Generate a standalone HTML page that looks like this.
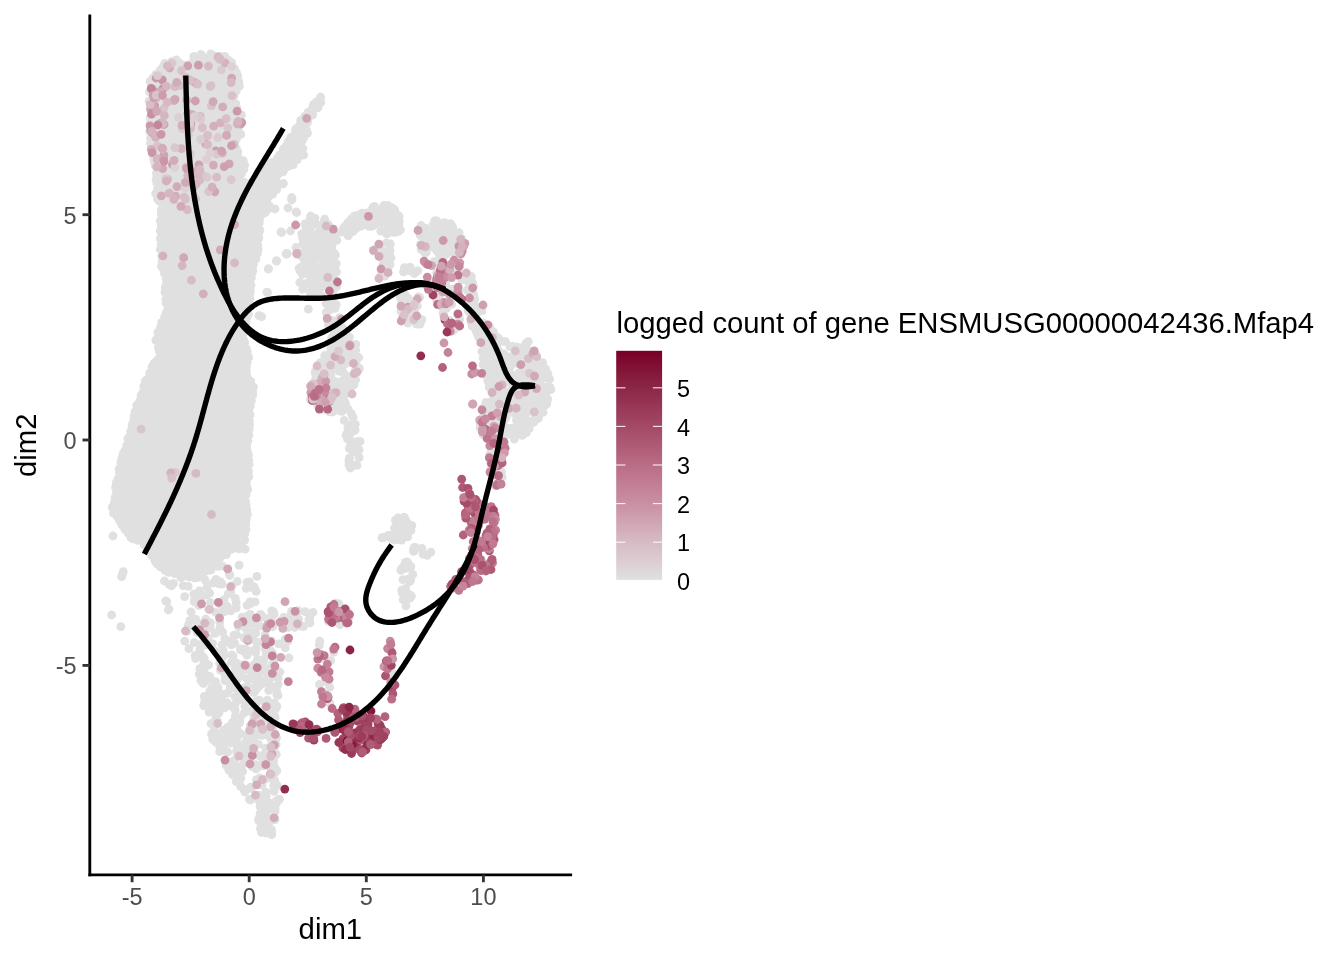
<!DOCTYPE html>
<html><head><meta charset="utf-8"><style>
html,body{margin:0;padding:0;background:#fff;width:1344px;height:960px;overflow:hidden}
svg{display:block;will-change:transform}
text{font-family:"Liberation Sans",sans-serif}
</style></head><body>
<svg width="1344" height="960" viewBox="0 0 1344 960">
<rect width="1344" height="960" fill="#fff"/>
<g>
<polygon points="153.5,78.3 152.6,90.2 151.6,107.2 150.6,127.1 150.6,147.4 154.4,158.9 154.5,159.2 154.6,159.6 155.6,169.6 155.6,169.7 156.6,181.7 156.6,182.0 156.6,198.3 161.3,202.2 161.6,202.5 161.8,202.7 162.0,203.0 162.2,203.3 162.3,203.6 162.4,204.0 162.5,204.3 162.6,204.7 162.6,205.0 162.6,205.4 160.6,225.1 161.1,244.8 162.6,269.2 167.3,280.6 167.4,281.0 167.5,281.3 167.6,281.7 167.6,282.1 167.6,282.4 167.5,282.8 164.7,295.1 167.5,309.3 167.6,309.6 167.6,310.0 167.6,310.3 167.5,310.7 167.4,311.0 167.3,311.4 160.3,328.3 155.9,340.0 160.4,351.7 160.5,352.0 160.5,352.4 160.6,352.7 160.6,353.1 160.6,353.4 160.5,353.8 160.4,354.1 160.3,354.5 160.1,354.8 156.1,361.8 156.0,362.0 148.3,373.6 143.4,389.1 143.3,389.3 136.0,408.0 131.0,432.7 131.0,433.0 130.9,433.2 125.4,448.1 119.5,467.8 116.6,486.3 116.6,493.0 116.6,493.3 116.5,493.7 116.5,494.0 112.7,507.3 113.4,513.5 119.7,520.6 119.9,520.9 120.1,521.1 120.2,521.4 125.0,531.0 130.3,537.1 144.7,544.8 145.0,545.0 145.3,545.2 145.6,545.5 145.8,545.8 146.0,546.1 146.2,546.4 152.0,558.0 159.4,566.2 169.6,572.7 185.4,578.3 198.5,576.6 207.4,569.4 215.2,559.8 215.4,559.5 215.6,559.3 215.9,559.1 216.2,558.9 228.2,551.9 228.3,551.8 239.0,546.0 245.1,541.4 244.4,537.6 244.4,537.3 244.4,536.9 244.4,536.6 246.4,519.8 246.4,503.0 246.4,502.8 247.4,479.8 247.4,479.5 249.4,466.9 247.4,443.3 247.4,442.9 247.4,442.5 250.4,422.8 249.4,407.2 249.4,406.8 249.4,406.5 249.5,406.1 253.3,391.8 252.5,385.1 246.8,373.6 246.6,373.3 246.5,373.0 246.5,372.7 246.4,372.3 246.4,372.0 246.4,371.7 246.5,371.3 249.3,356.4 244.7,345.4 244.5,345.0 244.5,344.7 244.4,344.3 243.4,331.3 243.4,330.9 243.4,330.5 243.5,330.1 247.5,315.2 250.4,300.6 250.4,281.0 250.4,280.6 250.5,280.2 254.5,263.2 254.5,263.1 257.4,251.4 258.4,241.7 259.4,227.7 259.4,227.7 260.4,215.7 260.5,215.3 260.5,215.0 260.7,214.7 260.8,214.3 261.0,214.0 261.2,213.7 261.4,213.5 261.7,213.2 262.0,213.0 262.3,212.8 270.5,208.4 267.7,201.3 267.5,201.0 267.5,200.7 267.4,200.3 267.4,200.0 267.4,199.6 267.5,199.3 267.6,198.9 267.7,198.6 267.8,198.3 268.0,198.0 268.2,197.7 268.5,197.4 268.8,197.2 277.3,190.4 276.4,178.3 276.4,177.9 276.4,177.5 276.5,177.2 276.6,176.8 276.7,176.5 276.9,176.2 277.1,175.9 277.3,175.6 277.6,175.3 277.8,175.1 285.8,169.1 285.9,169.1 295.5,162.4 303.3,151.9 302.4,142.3 302.4,142.0 302.4,141.7 302.5,141.3 302.5,141.0 302.6,140.7 302.8,140.4 307.4,131.2 307.4,122.0 307.4,121.6 307.5,121.3 307.6,121.0 307.7,120.6 307.8,120.3 308.0,120.0 314.0,111.0 314.3,110.7 319.8,104.2 321.2,100.0 320.4,97.6 319.7,97.6 315.9,102.2 310.0,111.0 309.7,111.4 302.8,119.3 297.1,126.9 292.2,136.6 291.9,137.1 285.0,147.0 278.0,157.9 277.8,158.2 277.6,158.5 277.4,158.7 277.1,158.9 276.8,159.1 270.3,162.8 265.0,169.1 261.1,175.8 261.0,176.1 260.8,176.3 260.5,176.5 254.5,182.5 254.3,182.8 254.0,183.0 253.7,183.2 253.3,183.4 253.0,183.5 252.6,183.5 252.2,183.6 251.9,183.6 251.5,183.6 251.1,183.5 243.1,181.5 242.8,181.4 242.5,181.3 242.1,181.1 241.8,180.9 241.6,180.7 241.3,180.4 241.1,180.1 240.9,179.8 240.7,179.5 240.6,179.2 240.5,178.8 240.4,178.5 240.4,178.1 240.4,177.8 240.4,177.4 240.5,177.1 240.6,176.7 240.8,176.4 243.7,170.6 245.8,164.9 239.5,158.5 239.2,158.3 239.0,158.0 238.8,157.6 238.6,157.3 238.5,156.9 235.5,145.9 235.5,145.6 235.4,145.3 235.4,145.0 235.4,144.6 236.4,134.6 236.5,134.3 236.5,134.1 239.4,123.5 239.4,115.6 236.6,107.3 232.7,98.5 232.6,98.1 232.5,97.8 232.4,97.4 232.4,97.1 232.4,96.7 232.5,96.3 232.5,96.0 232.7,95.7 232.8,95.3 233.0,95.0 233.2,94.7 233.5,94.5 238.4,89.5 238.4,82.3 236.6,70.3 232.1,63.1 227.1,57.3 217.2,55.7 206.9,58.5 206.6,58.5 206.2,58.6 205.9,58.6 205.5,58.6 205.2,58.5 204.9,58.4 204.5,58.3 204.2,58.1 203.9,57.9 200.3,55.4 198.2,59.6 198.0,59.9 197.8,60.2 197.6,60.5 197.4,60.7 197.1,60.9 196.8,61.1 196.5,61.3 196.1,61.4 187.1,64.4 186.8,64.5 186.4,64.6 186.1,64.6 185.7,64.6 185.4,64.5 185.0,64.5 184.7,64.4 173.2,59.9 165.2,63.9 157.8,72.2 153.5,78.3" fill="#e0e0e0"/>
<circle cx="153.1" cy="78.2" r="4.4" fill="#e0e0e0"/>
<circle cx="153.3" cy="82.0" r="4.4" fill="#e0e0e0"/>
<circle cx="152.8" cy="86.3" r="4.4" fill="#e0e0e0"/>
<circle cx="151.6" cy="92.3" r="4.4" fill="#e0e0e0"/>
<circle cx="152.8" cy="97.3" r="4.4" fill="#e0e0e0"/>
<circle cx="152.1" cy="103.5" r="4.4" fill="#e0e0e0"/>
<circle cx="151.3" cy="109.4" r="4.4" fill="#e0e0e0"/>
<circle cx="152.1" cy="111.8" r="4.4" fill="#e0e0e0"/>
<circle cx="150.3" cy="117.1" r="4.4" fill="#e0e0e0"/>
<circle cx="150.1" cy="124.2" r="4.4" fill="#e0e0e0"/>
<circle cx="150.3" cy="128.7" r="4.4" fill="#e0e0e0"/>
<circle cx="149.7" cy="131.7" r="4.4" fill="#e0e0e0"/>
<circle cx="150.5" cy="138.4" r="4.4" fill="#e0e0e0"/>
<circle cx="150.5" cy="143.2" r="4.4" fill="#e0e0e0"/>
<circle cx="151.5" cy="148.5" r="4.4" fill="#e0e0e0"/>
<circle cx="152.6" cy="154.0" r="4.4" fill="#e0e0e0"/>
<circle cx="153.8" cy="159.3" r="4.4" fill="#e0e0e0"/>
<circle cx="154.6" cy="162.4" r="4.4" fill="#e0e0e0"/>
<circle cx="155.3" cy="166.0" r="4.4" fill="#e0e0e0"/>
<circle cx="156.4" cy="173.3" r="4.4" fill="#e0e0e0"/>
<circle cx="156.0" cy="179.0" r="4.4" fill="#e0e0e0"/>
<circle cx="156.8" cy="182.9" r="4.4" fill="#e0e0e0"/>
<circle cx="157.5" cy="188.5" r="4.4" fill="#e0e0e0"/>
<circle cx="155.7" cy="193.6" r="4.4" fill="#e0e0e0"/>
<circle cx="157.6" cy="198.8" r="4.4" fill="#e0e0e0"/>
<circle cx="159.4" cy="201.2" r="4.4" fill="#e0e0e0"/>
<circle cx="162.4" cy="203.4" r="4.4" fill="#e0e0e0"/>
<circle cx="161.3" cy="209.8" r="4.4" fill="#e0e0e0"/>
<circle cx="161.2" cy="214.1" r="4.4" fill="#e0e0e0"/>
<circle cx="160.2" cy="221.0" r="4.4" fill="#e0e0e0"/>
<circle cx="161.4" cy="225.9" r="4.4" fill="#e0e0e0"/>
<circle cx="160.3" cy="230.9" r="4.4" fill="#e0e0e0"/>
<circle cx="161.6" cy="235.8" r="4.4" fill="#e0e0e0"/>
<circle cx="160.3" cy="238.8" r="4.4" fill="#e0e0e0"/>
<circle cx="161.1" cy="244.7" r="4.4" fill="#e0e0e0"/>
<circle cx="160.4" cy="249.5" r="4.4" fill="#e0e0e0"/>
<circle cx="161.8" cy="255.8" r="4.4" fill="#e0e0e0"/>
<circle cx="162.1" cy="260.9" r="4.4" fill="#e0e0e0"/>
<circle cx="161.5" cy="266.4" r="4.4" fill="#e0e0e0"/>
<circle cx="164.0" cy="271.4" r="4.4" fill="#e0e0e0"/>
<circle cx="164.6" cy="273.7" r="4.4" fill="#e0e0e0"/>
<circle cx="166.1" cy="278.8" r="4.4" fill="#e0e0e0"/>
<circle cx="166.7" cy="283.2" r="4.4" fill="#e0e0e0"/>
<circle cx="165.3" cy="287.4" r="4.4" fill="#e0e0e0"/>
<circle cx="164.9" cy="292.1" r="4.4" fill="#e0e0e0"/>
<circle cx="165.9" cy="299.1" r="4.4" fill="#e0e0e0"/>
<circle cx="166.0" cy="303.0" r="4.4" fill="#e0e0e0"/>
<circle cx="167.9" cy="308.8" r="4.4" fill="#e0e0e0"/>
<circle cx="166.4" cy="312.6" r="4.4" fill="#e0e0e0"/>
<circle cx="164.6" cy="316.8" r="4.4" fill="#e0e0e0"/>
<circle cx="161.6" cy="322.6" r="4.4" fill="#e0e0e0"/>
<circle cx="160.4" cy="327.7" r="4.4" fill="#e0e0e0"/>
<circle cx="157.9" cy="332.3" r="4.4" fill="#e0e0e0"/>
<circle cx="157.4" cy="338.2" r="4.4" fill="#e0e0e0"/>
<circle cx="155.9" cy="340.3" r="4.4" fill="#e0e0e0"/>
<circle cx="158.5" cy="347.3" r="4.4" fill="#e0e0e0"/>
<circle cx="159.3" cy="351.1" r="4.4" fill="#e0e0e0"/>
<circle cx="159.8" cy="357.2" r="4.4" fill="#e0e0e0"/>
<circle cx="157.3" cy="360.0" r="4.4" fill="#e0e0e0"/>
<circle cx="154.2" cy="363.2" r="4.4" fill="#e0e0e0"/>
<circle cx="152.0" cy="366.9" r="4.4" fill="#e0e0e0"/>
<circle cx="149.7" cy="372.8" r="4.4" fill="#e0e0e0"/>
<circle cx="147.8" cy="379.0" r="4.4" fill="#e0e0e0"/>
<circle cx="145.2" cy="381.0" r="4.4" fill="#e0e0e0"/>
<circle cx="143.8" cy="386.2" r="4.4" fill="#e0e0e0"/>
<circle cx="142.9" cy="392.3" r="4.4" fill="#e0e0e0"/>
<circle cx="141.1" cy="395.6" r="4.4" fill="#e0e0e0"/>
<circle cx="139.5" cy="401.7" r="4.4" fill="#e0e0e0"/>
<circle cx="136.7" cy="405.3" r="4.4" fill="#e0e0e0"/>
<circle cx="135.1" cy="411.5" r="4.4" fill="#e0e0e0"/>
<circle cx="134.1" cy="416.0" r="4.4" fill="#e0e0e0"/>
<circle cx="133.8" cy="420.4" r="4.4" fill="#e0e0e0"/>
<circle cx="132.1" cy="424.9" r="4.4" fill="#e0e0e0"/>
<circle cx="130.8" cy="431.2" r="4.4" fill="#e0e0e0"/>
<circle cx="130.3" cy="435.5" r="4.4" fill="#e0e0e0"/>
<circle cx="127.8" cy="438.5" r="4.4" fill="#e0e0e0"/>
<circle cx="126.8" cy="445.2" r="4.4" fill="#e0e0e0"/>
<circle cx="124.8" cy="450.6" r="4.4" fill="#e0e0e0"/>
<circle cx="123.0" cy="453.9" r="4.4" fill="#e0e0e0"/>
<circle cx="122.0" cy="458.1" r="4.4" fill="#e0e0e0"/>
<circle cx="120.9" cy="461.9" r="4.4" fill="#e0e0e0"/>
<circle cx="119.0" cy="468.9" r="4.4" fill="#e0e0e0"/>
<circle cx="119.5" cy="473.0" r="4.4" fill="#e0e0e0"/>
<circle cx="117.8" cy="479.0" r="4.4" fill="#e0e0e0"/>
<circle cx="116.2" cy="482.8" r="4.4" fill="#e0e0e0"/>
<circle cx="115.6" cy="487.7" r="4.4" fill="#e0e0e0"/>
<circle cx="116.5" cy="492.5" r="4.4" fill="#e0e0e0"/>
<circle cx="115.0" cy="497.9" r="4.4" fill="#e0e0e0"/>
<circle cx="114.6" cy="501.9" r="4.4" fill="#e0e0e0"/>
<circle cx="112.2" cy="507.1" r="4.4" fill="#e0e0e0"/>
<circle cx="113.4" cy="513.1" r="4.4" fill="#e0e0e0"/>
<circle cx="117.2" cy="516.7" r="4.4" fill="#e0e0e0"/>
<circle cx="119.5" cy="520.4" r="4.4" fill="#e0e0e0"/>
<circle cx="121.9" cy="525.0" r="4.4" fill="#e0e0e0"/>
<circle cx="124.9" cy="529.3" r="4.4" fill="#e0e0e0"/>
<circle cx="128.3" cy="533.3" r="4.4" fill="#e0e0e0"/>
<circle cx="131.1" cy="537.7" r="4.4" fill="#e0e0e0"/>
<circle cx="132.9" cy="538.8" r="4.4" fill="#e0e0e0"/>
<circle cx="137.4" cy="540.4" r="4.4" fill="#e0e0e0"/>
<circle cx="144.2" cy="545.0" r="4.4" fill="#e0e0e0"/>
<circle cx="146.8" cy="547.0" r="4.4" fill="#e0e0e0"/>
<circle cx="149.4" cy="552.1" r="4.4" fill="#e0e0e0"/>
<circle cx="151.8" cy="555.6" r="4.4" fill="#e0e0e0"/>
<circle cx="155.1" cy="561.0" r="4.4" fill="#e0e0e0"/>
<circle cx="156.8" cy="563.6" r="4.4" fill="#e0e0e0"/>
<circle cx="160.3" cy="566.9" r="4.4" fill="#e0e0e0"/>
<circle cx="165.0" cy="570.5" r="4.4" fill="#e0e0e0"/>
<circle cx="168.6" cy="572.4" r="4.4" fill="#e0e0e0"/>
<circle cx="174.7" cy="573.7" r="4.4" fill="#e0e0e0"/>
<circle cx="180.8" cy="577.5" r="4.4" fill="#e0e0e0"/>
<circle cx="182.5" cy="576.6" r="4.4" fill="#e0e0e0"/>
<circle cx="189.0" cy="577.0" r="4.4" fill="#e0e0e0"/>
<circle cx="194.4" cy="577.9" r="4.4" fill="#e0e0e0"/>
<circle cx="197.4" cy="577.5" r="4.4" fill="#e0e0e0"/>
<circle cx="203.1" cy="572.4" r="4.4" fill="#e0e0e0"/>
<circle cx="206.1" cy="570.7" r="4.4" fill="#e0e0e0"/>
<circle cx="210.1" cy="567.5" r="4.4" fill="#e0e0e0"/>
<circle cx="212.6" cy="562.7" r="4.4" fill="#e0e0e0"/>
<circle cx="216.2" cy="559.4" r="4.4" fill="#e0e0e0"/>
<circle cx="220.4" cy="557.4" r="4.4" fill="#e0e0e0"/>
<circle cx="223.7" cy="554.1" r="4.4" fill="#e0e0e0"/>
<circle cx="228.0" cy="550.9" r="4.4" fill="#e0e0e0"/>
<circle cx="232.2" cy="549.0" r="4.4" fill="#e0e0e0"/>
<circle cx="238.2" cy="546.3" r="4.4" fill="#e0e0e0"/>
<circle cx="241.6" cy="543.3" r="4.4" fill="#e0e0e0"/>
<circle cx="244.6" cy="540.2" r="4.4" fill="#e0e0e0"/>
<circle cx="244.8" cy="533.9" r="4.4" fill="#e0e0e0"/>
<circle cx="246.0" cy="529.4" r="4.4" fill="#e0e0e0"/>
<circle cx="245.7" cy="524.4" r="4.4" fill="#e0e0e0"/>
<circle cx="246.2" cy="519.4" r="4.4" fill="#e0e0e0"/>
<circle cx="247.4" cy="514.4" r="4.4" fill="#e0e0e0"/>
<circle cx="246.8" cy="509.6" r="4.4" fill="#e0e0e0"/>
<circle cx="246.1" cy="504.5" r="4.4" fill="#e0e0e0"/>
<circle cx="245.6" cy="501.5" r="4.4" fill="#e0e0e0"/>
<circle cx="246.0" cy="494.9" r="4.4" fill="#e0e0e0"/>
<circle cx="247.7" cy="489.6" r="4.4" fill="#e0e0e0"/>
<circle cx="246.6" cy="485.2" r="4.4" fill="#e0e0e0"/>
<circle cx="246.7" cy="480.1" r="4.4" fill="#e0e0e0"/>
<circle cx="248.9" cy="476.6" r="4.4" fill="#e0e0e0"/>
<circle cx="248.4" cy="471.0" r="4.4" fill="#e0e0e0"/>
<circle cx="249.0" cy="464.7" r="4.4" fill="#e0e0e0"/>
<circle cx="248.8" cy="460.5" r="4.4" fill="#e0e0e0"/>
<circle cx="248.5" cy="454.9" r="4.4" fill="#e0e0e0"/>
<circle cx="247.2" cy="450.6" r="4.4" fill="#e0e0e0"/>
<circle cx="246.7" cy="445.9" r="4.4" fill="#e0e0e0"/>
<circle cx="247.9" cy="440.9" r="4.4" fill="#e0e0e0"/>
<circle cx="248.9" cy="435.1" r="4.4" fill="#e0e0e0"/>
<circle cx="249.2" cy="429.1" r="4.4" fill="#e0e0e0"/>
<circle cx="249.5" cy="424.7" r="4.4" fill="#e0e0e0"/>
<circle cx="249.3" cy="420.7" r="4.4" fill="#e0e0e0"/>
<circle cx="250.1" cy="414.9" r="4.4" fill="#e0e0e0"/>
<circle cx="248.8" cy="409.7" r="4.4" fill="#e0e0e0"/>
<circle cx="250.4" cy="406.0" r="4.4" fill="#e0e0e0"/>
<circle cx="251.4" cy="400.6" r="4.4" fill="#e0e0e0"/>
<circle cx="252.8" cy="394.7" r="4.4" fill="#e0e0e0"/>
<circle cx="252.6" cy="391.7" r="4.4" fill="#e0e0e0"/>
<circle cx="253.4" cy="386.9" r="4.4" fill="#e0e0e0"/>
<circle cx="250.7" cy="381.4" r="4.4" fill="#e0e0e0"/>
<circle cx="247.4" cy="377.4" r="4.4" fill="#e0e0e0"/>
<circle cx="246.4" cy="371.7" r="4.4" fill="#e0e0e0"/>
<circle cx="246.4" cy="367.4" r="4.4" fill="#e0e0e0"/>
<circle cx="247.2" cy="362.5" r="4.4" fill="#e0e0e0"/>
<circle cx="248.6" cy="357.4" r="4.4" fill="#e0e0e0"/>
<circle cx="247.3" cy="351.5" r="4.4" fill="#e0e0e0"/>
<circle cx="246.2" cy="348.7" r="4.4" fill="#e0e0e0"/>
<circle cx="244.6" cy="342.3" r="4.4" fill="#e0e0e0"/>
<circle cx="243.5" cy="339.7" r="4.4" fill="#e0e0e0"/>
<circle cx="243.7" cy="332.9" r="4.4" fill="#e0e0e0"/>
<circle cx="243.2" cy="329.8" r="4.4" fill="#e0e0e0"/>
<circle cx="245.7" cy="322.7" r="4.4" fill="#e0e0e0"/>
<circle cx="246.5" cy="318.7" r="4.4" fill="#e0e0e0"/>
<circle cx="248.4" cy="314.2" r="4.4" fill="#e0e0e0"/>
<circle cx="249.8" cy="306.9" r="4.4" fill="#e0e0e0"/>
<circle cx="250.3" cy="305.1" r="4.4" fill="#e0e0e0"/>
<circle cx="249.9" cy="298.7" r="4.4" fill="#e0e0e0"/>
<circle cx="249.8" cy="293.2" r="4.4" fill="#e0e0e0"/>
<circle cx="250.4" cy="290.9" r="4.4" fill="#e0e0e0"/>
<circle cx="251.0" cy="285.0" r="4.4" fill="#e0e0e0"/>
<circle cx="251.4" cy="277.7" r="4.4" fill="#e0e0e0"/>
<circle cx="252.1" cy="272.4" r="4.4" fill="#e0e0e0"/>
<circle cx="252.8" cy="270.4" r="4.4" fill="#e0e0e0"/>
<circle cx="253.4" cy="264.6" r="4.4" fill="#e0e0e0"/>
<circle cx="256.0" cy="259.0" r="4.4" fill="#e0e0e0"/>
<circle cx="257.4" cy="253.4" r="4.4" fill="#e0e0e0"/>
<circle cx="258.1" cy="249.6" r="4.4" fill="#e0e0e0"/>
<circle cx="257.8" cy="245.1" r="4.4" fill="#e0e0e0"/>
<circle cx="258.8" cy="238.4" r="4.4" fill="#e0e0e0"/>
<circle cx="258.4" cy="234.1" r="4.4" fill="#e0e0e0"/>
<circle cx="259.9" cy="230.4" r="4.4" fill="#e0e0e0"/>
<circle cx="259.2" cy="223.3" r="4.4" fill="#e0e0e0"/>
<circle cx="259.4" cy="219.6" r="4.4" fill="#e0e0e0"/>
<circle cx="261.8" cy="214.5" r="4.4" fill="#e0e0e0"/>
<circle cx="265.4" cy="212.5" r="4.4" fill="#e0e0e0"/>
<circle cx="269.2" cy="208.4" r="4.4" fill="#e0e0e0"/>
<circle cx="269.1" cy="205.6" r="4.4" fill="#e0e0e0"/>
<circle cx="267.0" cy="199.7" r="4.4" fill="#e0e0e0"/>
<circle cx="269.5" cy="196.0" r="4.4" fill="#e0e0e0"/>
<circle cx="272.6" cy="194.2" r="4.4" fill="#e0e0e0"/>
<circle cx="276.7" cy="189.6" r="4.4" fill="#e0e0e0"/>
<circle cx="277.1" cy="185.7" r="4.4" fill="#e0e0e0"/>
<circle cx="275.9" cy="180.6" r="4.4" fill="#e0e0e0"/>
<circle cx="278.0" cy="174.4" r="4.4" fill="#e0e0e0"/>
<circle cx="283.0" cy="171.9" r="4.4" fill="#e0e0e0"/>
<circle cx="284.0" cy="169.3" r="4.4" fill="#e0e0e0"/>
<circle cx="288.2" cy="166.4" r="4.4" fill="#e0e0e0"/>
<circle cx="293.1" cy="164.9" r="4.4" fill="#e0e0e0"/>
<circle cx="297.2" cy="159.7" r="4.4" fill="#e0e0e0"/>
<circle cx="299.8" cy="155.9" r="4.4" fill="#e0e0e0"/>
<circle cx="301.9" cy="154.1" r="4.4" fill="#e0e0e0"/>
<circle cx="303.0" cy="148.6" r="4.4" fill="#e0e0e0"/>
<circle cx="301.9" cy="141.1" r="4.4" fill="#e0e0e0"/>
<circle cx="303.6" cy="138.2" r="4.4" fill="#e0e0e0"/>
<circle cx="307.5" cy="133.1" r="4.4" fill="#e0e0e0"/>
<circle cx="306.5" cy="130.1" r="4.4" fill="#e0e0e0"/>
<circle cx="307.3" cy="122.7" r="4.4" fill="#e0e0e0"/>
<circle cx="307.9" cy="120.7" r="4.4" fill="#e0e0e0"/>
<circle cx="312.7" cy="115.0" r="4.4" fill="#e0e0e0"/>
<circle cx="313.2" cy="110.3" r="4.4" fill="#e0e0e0"/>
<circle cx="318.0" cy="107.6" r="4.4" fill="#e0e0e0"/>
<circle cx="320.8" cy="102.6" r="4.4" fill="#e0e0e0"/>
<circle cx="320.6" cy="97.0" r="4.4" fill="#e0e0e0"/>
<circle cx="316.1" cy="102.1" r="4.4" fill="#e0e0e0"/>
<circle cx="313.6" cy="104.3" r="4.4" fill="#e0e0e0"/>
<circle cx="312.0" cy="108.8" r="4.4" fill="#e0e0e0"/>
<circle cx="308.1" cy="112.3" r="4.4" fill="#e0e0e0"/>
<circle cx="304.7" cy="116.3" r="4.4" fill="#e0e0e0"/>
<circle cx="300.7" cy="120.3" r="4.4" fill="#e0e0e0"/>
<circle cx="299.8" cy="124.8" r="4.4" fill="#e0e0e0"/>
<circle cx="295.7" cy="129.0" r="4.4" fill="#e0e0e0"/>
<circle cx="295.1" cy="133.1" r="4.4" fill="#e0e0e0"/>
<circle cx="290.9" cy="137.3" r="4.4" fill="#e0e0e0"/>
<circle cx="288.3" cy="141.6" r="4.4" fill="#e0e0e0"/>
<circle cx="286.4" cy="145.6" r="4.4" fill="#e0e0e0"/>
<circle cx="283.3" cy="149.0" r="4.4" fill="#e0e0e0"/>
<circle cx="279.5" cy="155.2" r="4.4" fill="#e0e0e0"/>
<circle cx="277.2" cy="158.3" r="4.4" fill="#e0e0e0"/>
<circle cx="272.0" cy="162.3" r="4.4" fill="#e0e0e0"/>
<circle cx="269.2" cy="164.0" r="4.4" fill="#e0e0e0"/>
<circle cx="267.3" cy="167.4" r="4.4" fill="#e0e0e0"/>
<circle cx="263.1" cy="171.1" r="4.4" fill="#e0e0e0"/>
<circle cx="261.4" cy="175.9" r="4.4" fill="#e0e0e0"/>
<circle cx="256.9" cy="180.6" r="4.4" fill="#e0e0e0"/>
<circle cx="253.4" cy="181.9" r="4.4" fill="#e0e0e0"/>
<circle cx="249.8" cy="183.7" r="4.4" fill="#e0e0e0"/>
<circle cx="244.3" cy="182.4" r="4.4" fill="#e0e0e0"/>
<circle cx="239.9" cy="179.8" r="4.4" fill="#e0e0e0"/>
<circle cx="241.4" cy="173.7" r="4.4" fill="#e0e0e0"/>
<circle cx="243.8" cy="169.3" r="4.4" fill="#e0e0e0"/>
<circle cx="244.6" cy="164.9" r="4.4" fill="#e0e0e0"/>
<circle cx="243.2" cy="160.6" r="4.4" fill="#e0e0e0"/>
<circle cx="237.8" cy="156.1" r="4.4" fill="#e0e0e0"/>
<circle cx="237.8" cy="151.7" r="4.4" fill="#e0e0e0"/>
<circle cx="236.3" cy="148.6" r="4.4" fill="#e0e0e0"/>
<circle cx="235.1" cy="141.6" r="4.4" fill="#e0e0e0"/>
<circle cx="235.2" cy="136.7" r="4.4" fill="#e0e0e0"/>
<circle cx="237.6" cy="131.3" r="4.4" fill="#e0e0e0"/>
<circle cx="237.0" cy="130.0" r="4.4" fill="#e0e0e0"/>
<circle cx="239.8" cy="124.6" r="4.4" fill="#e0e0e0"/>
<circle cx="238.9" cy="119.5" r="4.4" fill="#e0e0e0"/>
<circle cx="238.1" cy="113.5" r="4.4" fill="#e0e0e0"/>
<circle cx="236.8" cy="108.0" r="4.4" fill="#e0e0e0"/>
<circle cx="235.7" cy="103.7" r="4.4" fill="#e0e0e0"/>
<circle cx="231.7" cy="97.9" r="4.4" fill="#e0e0e0"/>
<circle cx="234.1" cy="95.6" r="4.4" fill="#e0e0e0"/>
<circle cx="236.1" cy="91.2" r="4.4" fill="#e0e0e0"/>
<circle cx="239.3" cy="86.2" r="4.4" fill="#e0e0e0"/>
<circle cx="238.7" cy="81.7" r="4.4" fill="#e0e0e0"/>
<circle cx="237.7" cy="75.8" r="4.4" fill="#e0e0e0"/>
<circle cx="236.6" cy="72.9" r="4.4" fill="#e0e0e0"/>
<circle cx="234.7" cy="68.8" r="4.4" fill="#e0e0e0"/>
<circle cx="231.6" cy="62.7" r="4.4" fill="#e0e0e0"/>
<circle cx="228.4" cy="60.2" r="4.4" fill="#e0e0e0"/>
<circle cx="224.9" cy="56.3" r="4.4" fill="#e0e0e0"/>
<circle cx="220.0" cy="56.3" r="4.4" fill="#e0e0e0"/>
<circle cx="214.4" cy="55.9" r="4.4" fill="#e0e0e0"/>
<circle cx="210.5" cy="57.9" r="4.4" fill="#e0e0e0"/>
<circle cx="205.4" cy="58.7" r="4.4" fill="#e0e0e0"/>
<circle cx="202.4" cy="56.0" r="4.4" fill="#e0e0e0"/>
<circle cx="198.1" cy="59.7" r="4.4" fill="#e0e0e0"/>
<circle cx="194.8" cy="61.2" r="4.4" fill="#e0e0e0"/>
<circle cx="191.4" cy="63.4" r="4.4" fill="#e0e0e0"/>
<circle cx="185.2" cy="65.5" r="4.4" fill="#e0e0e0"/>
<circle cx="179.8" cy="63.3" r="4.4" fill="#e0e0e0"/>
<circle cx="176.3" cy="59.9" r="4.4" fill="#e0e0e0"/>
<circle cx="171.7" cy="61.7" r="4.4" fill="#e0e0e0"/>
<circle cx="164.8" cy="63.3" r="4.4" fill="#e0e0e0"/>
<circle cx="162.9" cy="66.8" r="4.4" fill="#e0e0e0"/>
<circle cx="160.3" cy="70.2" r="4.4" fill="#e0e0e0"/>
<circle cx="155.8" cy="74.4" r="4.4" fill="#e0e0e0"/>
<circle cx="493.7" cy="485.2" r="4.4" fill="#e0e0e0"/>
<circle cx="399.2" cy="216.6" r="4.4" fill="#e0e0e0"/>
<circle cx="389.4" cy="222.5" r="4.4" fill="#e0e0e0"/>
<circle cx="415.1" cy="308.5" r="4.4" fill="#e0e0e0"/>
<circle cx="288.9" cy="657.8" r="4.4" fill="#e0e0e0"/>
<circle cx="320.2" cy="274.3" r="4.4" fill="#e0e0e0"/>
<circle cx="304.3" cy="243.8" r="4.4" fill="#e0e0e0"/>
<circle cx="536.6" cy="386.4" r="4.4" fill="#e0e0e0"/>
<circle cx="340.1" cy="324.8" r="4.4" fill="#e0e0e0"/>
<circle cx="459.1" cy="316.6" r="4.4" fill="#e0e0e0"/>
<circle cx="428.4" cy="245.4" r="4.4" fill="#e0e0e0"/>
<circle cx="270.4" cy="711.3" r="4.4" fill="#e0e0e0"/>
<circle cx="261.8" cy="664.1" r="4.4" fill="#e0e0e0"/>
<circle cx="229.8" cy="734.9" r="4.4" fill="#e0e0e0"/>
<circle cx="495.6" cy="352.7" r="4.4" fill="#e0e0e0"/>
<circle cx="255.0" cy="743.3" r="4.4" fill="#e0e0e0"/>
<circle cx="204.3" cy="658.8" r="4.4" fill="#e0e0e0"/>
<circle cx="367.8" cy="217.7" r="4.4" fill="#e0e0e0"/>
<circle cx="317.6" cy="398.0" r="4.4" fill="#e0e0e0"/>
<circle cx="508.3" cy="404.1" r="4.4" fill="#e0e0e0"/>
<circle cx="334.5" cy="333.0" r="4.4" fill="#e0e0e0"/>
<circle cx="331.4" cy="299.6" r="4.4" fill="#e0e0e0"/>
<circle cx="414.4" cy="273.5" r="4.4" fill="#e0e0e0"/>
<circle cx="170.4" cy="110.1" r="4.4" fill="#e0e0e0"/>
<circle cx="354.0" cy="384.6" r="4.4" fill="#e0e0e0"/>
<circle cx="445.3" cy="243.5" r="4.4" fill="#e0e0e0"/>
<circle cx="253.5" cy="667.4" r="4.4" fill="#e0e0e0"/>
<circle cx="364.7" cy="223.6" r="4.4" fill="#e0e0e0"/>
<circle cx="167.6" cy="173.5" r="4.4" fill="#e0e0e0"/>
<circle cx="212.5" cy="97.9" r="4.4" fill="#e0e0e0"/>
<circle cx="252.2" cy="737.6" r="4.4" fill="#e0e0e0"/>
<circle cx="220.7" cy="581.9" r="4.4" fill="#e0e0e0"/>
<circle cx="470.0" cy="292.0" r="4.4" fill="#e0e0e0"/>
<circle cx="432.3" cy="246.7" r="4.4" fill="#e0e0e0"/>
<circle cx="446.6" cy="246.2" r="4.4" fill="#e0e0e0"/>
<circle cx="487.2" cy="405.3" r="4.4" fill="#e0e0e0"/>
<circle cx="434.0" cy="261.6" r="4.4" fill="#e0e0e0"/>
<circle cx="239.2" cy="670.6" r="4.4" fill="#e0e0e0"/>
<circle cx="332.0" cy="369.2" r="4.4" fill="#e0e0e0"/>
<circle cx="454.0" cy="236.2" r="4.4" fill="#e0e0e0"/>
<circle cx="425.2" cy="249.0" r="4.4" fill="#e0e0e0"/>
<circle cx="474.2" cy="325.1" r="4.4" fill="#e0e0e0"/>
<circle cx="434.7" cy="220.8" r="4.4" fill="#e0e0e0"/>
<circle cx="359.3" cy="368.4" r="4.4" fill="#e0e0e0"/>
<circle cx="505.4" cy="341.7" r="4.4" fill="#e0e0e0"/>
<circle cx="335.4" cy="255.4" r="4.4" fill="#e0e0e0"/>
<circle cx="499.4" cy="423.6" r="4.4" fill="#e0e0e0"/>
<circle cx="245.6" cy="649.0" r="4.4" fill="#e0e0e0"/>
<circle cx="397.7" cy="223.5" r="4.4" fill="#e0e0e0"/>
<circle cx="219.8" cy="621.8" r="4.4" fill="#e0e0e0"/>
<circle cx="225.4" cy="60.8" r="4.4" fill="#e0e0e0"/>
<circle cx="323.4" cy="252.9" r="4.4" fill="#e0e0e0"/>
<circle cx="312.9" cy="612.3" r="4.4" fill="#e0e0e0"/>
<circle cx="442.3" cy="242.5" r="4.4" fill="#e0e0e0"/>
<circle cx="228.2" cy="593.9" r="4.4" fill="#e0e0e0"/>
<circle cx="231.7" cy="585.9" r="4.4" fill="#e0e0e0"/>
<circle cx="315.5" cy="395.0" r="4.4" fill="#e0e0e0"/>
<circle cx="514.3" cy="439.1" r="4.4" fill="#e0e0e0"/>
<circle cx="384.4" cy="252.7" r="4.4" fill="#e0e0e0"/>
<circle cx="373.1" cy="224.9" r="4.4" fill="#e0e0e0"/>
<circle cx="528.3" cy="341.7" r="4.4" fill="#e0e0e0"/>
<circle cx="329.4" cy="398.3" r="4.4" fill="#e0e0e0"/>
<circle cx="328.4" cy="702.2" r="4.4" fill="#e0e0e0"/>
<circle cx="215.7" cy="612.4" r="4.4" fill="#e0e0e0"/>
<circle cx="392.0" cy="215.7" r="4.4" fill="#e0e0e0"/>
<circle cx="330.7" cy="244.2" r="4.4" fill="#e0e0e0"/>
<circle cx="272.1" cy="778.2" r="4.4" fill="#e0e0e0"/>
<circle cx="221.8" cy="749.5" r="4.4" fill="#e0e0e0"/>
<circle cx="249.7" cy="788.0" r="4.4" fill="#e0e0e0"/>
<circle cx="531.6" cy="362.9" r="4.4" fill="#e0e0e0"/>
<circle cx="325.7" cy="237.8" r="4.4" fill="#e0e0e0"/>
<circle cx="435.1" cy="242.6" r="4.4" fill="#e0e0e0"/>
<circle cx="347.1" cy="611.0" r="4.4" fill="#e0e0e0"/>
<circle cx="314.1" cy="258.2" r="4.4" fill="#e0e0e0"/>
<circle cx="488.2" cy="336.9" r="4.4" fill="#e0e0e0"/>
<circle cx="162.2" cy="165.4" r="4.4" fill="#e0e0e0"/>
<circle cx="377.8" cy="214.1" r="4.4" fill="#e0e0e0"/>
<circle cx="469.1" cy="312.2" r="4.4" fill="#e0e0e0"/>
<circle cx="191.1" cy="611.9" r="4.4" fill="#e0e0e0"/>
<circle cx="344.6" cy="390.1" r="4.4" fill="#e0e0e0"/>
<circle cx="394.4" cy="223.3" r="4.4" fill="#e0e0e0"/>
<circle cx="459.6" cy="250.1" r="4.4" fill="#e0e0e0"/>
<circle cx="316.2" cy="272.7" r="4.4" fill="#e0e0e0"/>
<circle cx="500.2" cy="377.1" r="4.4" fill="#e0e0e0"/>
<circle cx="196.8" cy="622.0" r="4.4" fill="#e0e0e0"/>
<circle cx="273.6" cy="662.3" r="4.4" fill="#e0e0e0"/>
<circle cx="493.5" cy="460.2" r="4.4" fill="#e0e0e0"/>
<circle cx="242.0" cy="670.7" r="4.4" fill="#e0e0e0"/>
<circle cx="383.9" cy="205.5" r="4.4" fill="#e0e0e0"/>
<circle cx="244.3" cy="638.5" r="4.4" fill="#e0e0e0"/>
<circle cx="503.5" cy="417.9" r="4.4" fill="#e0e0e0"/>
<circle cx="345.9" cy="345.6" r="4.4" fill="#e0e0e0"/>
<circle cx="297.4" cy="619.8" r="4.4" fill="#e0e0e0"/>
<circle cx="238.4" cy="626.5" r="4.4" fill="#e0e0e0"/>
<circle cx="501.4" cy="429.4" r="4.4" fill="#e0e0e0"/>
<circle cx="319.5" cy="389.2" r="4.4" fill="#e0e0e0"/>
<circle cx="257.0" cy="780.7" r="4.4" fill="#e0e0e0"/>
<circle cx="329.2" cy="375.0" r="4.4" fill="#e0e0e0"/>
<circle cx="267.3" cy="619.2" r="4.4" fill="#e0e0e0"/>
<circle cx="222.3" cy="175.9" r="4.4" fill="#e0e0e0"/>
<circle cx="343.7" cy="379.9" r="4.4" fill="#e0e0e0"/>
<circle cx="373.1" cy="225.7" r="4.4" fill="#e0e0e0"/>
<circle cx="261.4" cy="756.3" r="4.4" fill="#e0e0e0"/>
<circle cx="249.8" cy="619.8" r="4.4" fill="#e0e0e0"/>
<circle cx="215.3" cy="633.4" r="4.4" fill="#e0e0e0"/>
<circle cx="160.6" cy="130.0" r="4.4" fill="#e0e0e0"/>
<circle cx="503.0" cy="380.7" r="4.4" fill="#e0e0e0"/>
<circle cx="313.8" cy="394.6" r="4.4" fill="#e0e0e0"/>
<circle cx="250.3" cy="614.4" r="4.4" fill="#e0e0e0"/>
<circle cx="396.4" cy="538.6" r="4.4" fill="#e0e0e0"/>
<circle cx="437.5" cy="232.4" r="4.4" fill="#e0e0e0"/>
<circle cx="353.6" cy="347.6" r="4.4" fill="#e0e0e0"/>
<circle cx="215.4" cy="170.7" r="4.4" fill="#e0e0e0"/>
<circle cx="429.5" cy="240.8" r="4.4" fill="#e0e0e0"/>
<circle cx="498.4" cy="338.2" r="4.4" fill="#e0e0e0"/>
<circle cx="327.2" cy="255.7" r="4.4" fill="#e0e0e0"/>
<circle cx="310.4" cy="283.9" r="4.4" fill="#e0e0e0"/>
<circle cx="301.0" cy="267.7" r="4.4" fill="#e0e0e0"/>
<circle cx="488.1" cy="434.4" r="4.4" fill="#e0e0e0"/>
<circle cx="393.4" cy="673.8" r="4.4" fill="#e0e0e0"/>
<circle cx="327.9" cy="249.3" r="4.4" fill="#e0e0e0"/>
<circle cx="256.2" cy="685.9" r="4.4" fill="#e0e0e0"/>
<circle cx="194.4" cy="601.9" r="4.4" fill="#e0e0e0"/>
<circle cx="348.6" cy="352.0" r="4.4" fill="#e0e0e0"/>
<circle cx="238.9" cy="131.6" r="4.4" fill="#e0e0e0"/>
<circle cx="405.5" cy="566.7" r="4.4" fill="#e0e0e0"/>
<circle cx="329.7" cy="687.2" r="4.4" fill="#e0e0e0"/>
<circle cx="502.4" cy="430.3" r="4.4" fill="#e0e0e0"/>
<circle cx="323.9" cy="266.5" r="4.4" fill="#e0e0e0"/>
<circle cx="518.2" cy="362.4" r="4.4" fill="#e0e0e0"/>
<circle cx="544.4" cy="397.2" r="4.4" fill="#e0e0e0"/>
<circle cx="404.0" cy="517.2" r="4.4" fill="#e0e0e0"/>
<circle cx="343.3" cy="229.9" r="4.4" fill="#e0e0e0"/>
<circle cx="489.3" cy="387.7" r="4.4" fill="#e0e0e0"/>
<circle cx="342.3" cy="367.1" r="4.4" fill="#e0e0e0"/>
<circle cx="483.7" cy="332.6" r="4.4" fill="#e0e0e0"/>
<circle cx="443.1" cy="313.3" r="4.4" fill="#e0e0e0"/>
<circle cx="526.0" cy="405.7" r="4.4" fill="#e0e0e0"/>
<circle cx="250.4" cy="711.3" r="4.4" fill="#e0e0e0"/>
<circle cx="206.3" cy="642.9" r="4.4" fill="#e0e0e0"/>
<circle cx="520.9" cy="384.1" r="4.4" fill="#e0e0e0"/>
<circle cx="338.2" cy="367.2" r="4.4" fill="#e0e0e0"/>
<circle cx="238.5" cy="723.7" r="4.4" fill="#e0e0e0"/>
<circle cx="230.9" cy="111.4" r="4.4" fill="#e0e0e0"/>
<circle cx="234.0" cy="766.9" r="4.4" fill="#e0e0e0"/>
<circle cx="309.1" cy="254.5" r="4.4" fill="#e0e0e0"/>
<circle cx="395.0" cy="212.6" r="4.4" fill="#e0e0e0"/>
<circle cx="221.0" cy="704.5" r="4.4" fill="#e0e0e0"/>
<circle cx="249.3" cy="730.6" r="4.4" fill="#e0e0e0"/>
<circle cx="439.9" cy="265.5" r="4.4" fill="#e0e0e0"/>
<circle cx="258.8" cy="800.4" r="4.4" fill="#e0e0e0"/>
<circle cx="397.6" cy="523.5" r="4.4" fill="#e0e0e0"/>
<circle cx="409.7" cy="598.2" r="4.4" fill="#e0e0e0"/>
<circle cx="320.1" cy="273.1" r="4.4" fill="#e0e0e0"/>
<circle cx="347.9" cy="384.2" r="4.4" fill="#e0e0e0"/>
<circle cx="268.9" cy="761.3" r="4.4" fill="#e0e0e0"/>
<circle cx="521.6" cy="354.9" r="4.4" fill="#e0e0e0"/>
<circle cx="353.0" cy="231.4" r="4.4" fill="#e0e0e0"/>
<circle cx="369.6" cy="221.6" r="4.4" fill="#e0e0e0"/>
<circle cx="394.5" cy="527.8" r="4.4" fill="#e0e0e0"/>
<circle cx="271.0" cy="708.4" r="4.4" fill="#e0e0e0"/>
<circle cx="299.5" cy="254.3" r="4.4" fill="#e0e0e0"/>
<circle cx="288.2" cy="617.5" r="4.4" fill="#e0e0e0"/>
<circle cx="336.5" cy="271.8" r="4.4" fill="#e0e0e0"/>
<circle cx="353.4" cy="348.9" r="4.4" fill="#e0e0e0"/>
<circle cx="230.4" cy="686.2" r="4.4" fill="#e0e0e0"/>
<circle cx="528.0" cy="370.9" r="4.4" fill="#e0e0e0"/>
<circle cx="228.9" cy="112.7" r="4.4" fill="#e0e0e0"/>
<circle cx="154.4" cy="121.6" r="4.4" fill="#e0e0e0"/>
<circle cx="490.2" cy="461.8" r="4.4" fill="#e0e0e0"/>
<circle cx="329.6" cy="280.8" r="4.4" fill="#e0e0e0"/>
<circle cx="318.0" cy="291.6" r="4.4" fill="#e0e0e0"/>
<circle cx="402.6" cy="535.0" r="4.4" fill="#e0e0e0"/>
<circle cx="329.4" cy="253.0" r="4.4" fill="#e0e0e0"/>
<circle cx="330.4" cy="283.0" r="4.4" fill="#e0e0e0"/>
<circle cx="484.4" cy="422.3" r="4.4" fill="#e0e0e0"/>
<circle cx="321.5" cy="226.7" r="4.4" fill="#e0e0e0"/>
<circle cx="456.3" cy="250.9" r="4.4" fill="#e0e0e0"/>
<circle cx="206.2" cy="78.8" r="4.4" fill="#e0e0e0"/>
<circle cx="272.3" cy="676.3" r="4.4" fill="#e0e0e0"/>
<circle cx="330.6" cy="370.7" r="4.4" fill="#e0e0e0"/>
<circle cx="390.1" cy="264.3" r="4.4" fill="#e0e0e0"/>
<circle cx="527.3" cy="388.9" r="4.4" fill="#e0e0e0"/>
<circle cx="379.4" cy="210.2" r="4.4" fill="#e0e0e0"/>
<circle cx="441.9" cy="254.9" r="4.4" fill="#e0e0e0"/>
<circle cx="336.2" cy="304.6" r="4.4" fill="#e0e0e0"/>
<circle cx="230.2" cy="79.1" r="4.4" fill="#e0e0e0"/>
<circle cx="220.0" cy="172.9" r="4.4" fill="#e0e0e0"/>
<circle cx="240.0" cy="718.5" r="4.4" fill="#e0e0e0"/>
<circle cx="215.9" cy="130.4" r="4.4" fill="#e0e0e0"/>
<circle cx="244.4" cy="624.5" r="4.4" fill="#e0e0e0"/>
<circle cx="218.2" cy="72.7" r="4.4" fill="#e0e0e0"/>
<circle cx="210.5" cy="623.0" r="4.4" fill="#e0e0e0"/>
<circle cx="354.7" cy="218.1" r="4.4" fill="#e0e0e0"/>
<circle cx="274.0" cy="708.0" r="4.4" fill="#e0e0e0"/>
<circle cx="503.1" cy="341.3" r="4.4" fill="#e0e0e0"/>
<circle cx="220.3" cy="700.8" r="4.4" fill="#e0e0e0"/>
<circle cx="457.7" cy="289.1" r="4.4" fill="#e0e0e0"/>
<circle cx="435.3" cy="229.5" r="4.4" fill="#e0e0e0"/>
<circle cx="502.0" cy="364.4" r="4.4" fill="#e0e0e0"/>
<circle cx="290.8" cy="616.1" r="4.4" fill="#e0e0e0"/>
<circle cx="272.4" cy="664.4" r="4.4" fill="#e0e0e0"/>
<circle cx="439.9" cy="299.9" r="4.4" fill="#e0e0e0"/>
<circle cx="243.8" cy="713.5" r="4.4" fill="#e0e0e0"/>
<circle cx="417.3" cy="299.0" r="4.4" fill="#e0e0e0"/>
<circle cx="320.8" cy="671.2" r="4.4" fill="#e0e0e0"/>
<circle cx="265.9" cy="807.2" r="4.4" fill="#e0e0e0"/>
<circle cx="511.6" cy="428.3" r="4.4" fill="#e0e0e0"/>
<circle cx="230.5" cy="95.5" r="4.4" fill="#e0e0e0"/>
<circle cx="212.5" cy="699.6" r="4.4" fill="#e0e0e0"/>
<circle cx="496.7" cy="403.3" r="4.4" fill="#e0e0e0"/>
<circle cx="278.1" cy="678.2" r="4.4" fill="#e0e0e0"/>
<circle cx="443.4" cy="273.5" r="4.4" fill="#e0e0e0"/>
<circle cx="310.0" cy="250.7" r="4.4" fill="#e0e0e0"/>
<circle cx="419.7" cy="228.6" r="4.4" fill="#e0e0e0"/>
<circle cx="200.9" cy="680.5" r="4.4" fill="#e0e0e0"/>
<circle cx="231.5" cy="726.5" r="4.4" fill="#e0e0e0"/>
<circle cx="336.8" cy="382.4" r="4.4" fill="#e0e0e0"/>
<circle cx="345.1" cy="351.0" r="4.4" fill="#e0e0e0"/>
<circle cx="315.0" cy="218.1" r="4.4" fill="#e0e0e0"/>
<circle cx="404.4" cy="267.6" r="4.4" fill="#e0e0e0"/>
<circle cx="429.0" cy="246.8" r="4.4" fill="#e0e0e0"/>
<circle cx="380.3" cy="209.8" r="4.4" fill="#e0e0e0"/>
<circle cx="215.9" cy="187.7" r="4.4" fill="#e0e0e0"/>
<circle cx="274.5" cy="782.4" r="4.4" fill="#e0e0e0"/>
<circle cx="276.3" cy="754.4" r="4.4" fill="#e0e0e0"/>
<circle cx="269.6" cy="803.4" r="4.4" fill="#e0e0e0"/>
<circle cx="323.2" cy="381.4" r="4.4" fill="#e0e0e0"/>
<circle cx="260.5" cy="614.3" r="4.4" fill="#e0e0e0"/>
<circle cx="341.8" cy="353.9" r="4.4" fill="#e0e0e0"/>
<circle cx="222.3" cy="694.8" r="4.4" fill="#e0e0e0"/>
<circle cx="260.0" cy="672.3" r="4.4" fill="#e0e0e0"/>
<circle cx="306.5" cy="233.5" r="4.4" fill="#e0e0e0"/>
<circle cx="487.4" cy="349.5" r="4.4" fill="#e0e0e0"/>
<circle cx="291.7" cy="200.0" r="4.4" fill="#e0e0e0"/>
<circle cx="485.5" cy="368.8" r="4.4" fill="#e0e0e0"/>
<circle cx="358.9" cy="220.7" r="4.4" fill="#e0e0e0"/>
<circle cx="263.2" cy="662.6" r="4.4" fill="#e0e0e0"/>
<circle cx="511.2" cy="374.1" r="4.4" fill="#e0e0e0"/>
<circle cx="269.2" cy="618.5" r="4.4" fill="#e0e0e0"/>
<circle cx="221.0" cy="697.3" r="4.4" fill="#e0e0e0"/>
<circle cx="511.2" cy="403.3" r="4.4" fill="#e0e0e0"/>
<circle cx="485.4" cy="355.2" r="4.4" fill="#e0e0e0"/>
<circle cx="168.4" cy="160.3" r="4.4" fill="#e0e0e0"/>
<circle cx="400.8" cy="524.9" r="4.4" fill="#e0e0e0"/>
<circle cx="350.8" cy="442.4" r="4.4" fill="#e0e0e0"/>
<circle cx="334.1" cy="256.0" r="4.4" fill="#e0e0e0"/>
<circle cx="300.3" cy="271.2" r="4.4" fill="#e0e0e0"/>
<circle cx="121.7" cy="576.7" r="4.4" fill="#e0e0e0"/>
<circle cx="528.2" cy="364.2" r="4.4" fill="#e0e0e0"/>
<circle cx="224.9" cy="707.6" r="4.4" fill="#e0e0e0"/>
<circle cx="529.1" cy="391.0" r="4.4" fill="#e0e0e0"/>
<circle cx="309.6" cy="282.5" r="4.4" fill="#e0e0e0"/>
<circle cx="198.5" cy="186.4" r="4.4" fill="#e0e0e0"/>
<circle cx="539.1" cy="371.3" r="4.4" fill="#e0e0e0"/>
<circle cx="526.5" cy="391.2" r="4.4" fill="#e0e0e0"/>
<circle cx="248.7" cy="756.3" r="4.4" fill="#e0e0e0"/>
<circle cx="321.7" cy="362.3" r="4.4" fill="#e0e0e0"/>
<circle cx="493.2" cy="399.0" r="4.4" fill="#e0e0e0"/>
<circle cx="388.4" cy="230.0" r="4.4" fill="#e0e0e0"/>
<circle cx="218.0" cy="566.3" r="4.4" fill="#e0e0e0"/>
<circle cx="156.8" cy="119.8" r="4.4" fill="#e0e0e0"/>
<circle cx="543.0" cy="393.2" r="4.4" fill="#e0e0e0"/>
<circle cx="268.1" cy="671.2" r="4.4" fill="#e0e0e0"/>
<circle cx="247.7" cy="740.6" r="4.4" fill="#e0e0e0"/>
<circle cx="271.6" cy="727.7" r="4.4" fill="#e0e0e0"/>
<circle cx="325.6" cy="236.8" r="4.4" fill="#e0e0e0"/>
<circle cx="521.9" cy="347.7" r="4.4" fill="#e0e0e0"/>
<circle cx="285.3" cy="639.2" r="4.4" fill="#e0e0e0"/>
<circle cx="407.6" cy="595.0" r="4.4" fill="#e0e0e0"/>
<circle cx="408.0" cy="598.0" r="4.4" fill="#e0e0e0"/>
<circle cx="407.2" cy="561.9" r="4.4" fill="#e0e0e0"/>
<circle cx="333.0" cy="380.5" r="4.4" fill="#e0e0e0"/>
<circle cx="459.7" cy="319.7" r="4.4" fill="#e0e0e0"/>
<circle cx="483.1" cy="364.7" r="4.4" fill="#e0e0e0"/>
<circle cx="260.3" cy="795.6" r="4.4" fill="#e0e0e0"/>
<circle cx="285.3" cy="647.8" r="4.4" fill="#e0e0e0"/>
<circle cx="398.3" cy="533.7" r="4.4" fill="#e0e0e0"/>
<circle cx="172.7" cy="139.5" r="4.4" fill="#e0e0e0"/>
<circle cx="388.2" cy="535.4" r="4.4" fill="#e0e0e0"/>
<circle cx="324.7" cy="219.1" r="4.4" fill="#e0e0e0"/>
<circle cx="486.5" cy="420.5" r="4.4" fill="#e0e0e0"/>
<circle cx="317.7" cy="257.6" r="4.4" fill="#e0e0e0"/>
<circle cx="494.6" cy="429.4" r="4.4" fill="#e0e0e0"/>
<circle cx="392.0" cy="208.6" r="4.4" fill="#e0e0e0"/>
<circle cx="333.6" cy="652.4" r="4.4" fill="#e0e0e0"/>
<circle cx="163.2" cy="155.1" r="4.4" fill="#e0e0e0"/>
<circle cx="450.0" cy="230.1" r="4.4" fill="#e0e0e0"/>
<circle cx="399.5" cy="529.4" r="4.4" fill="#e0e0e0"/>
<circle cx="451.3" cy="225.6" r="4.4" fill="#e0e0e0"/>
<circle cx="343.1" cy="336.9" r="4.4" fill="#e0e0e0"/>
<circle cx="303.7" cy="626.3" r="4.4" fill="#e0e0e0"/>
<circle cx="276.4" cy="803.5" r="4.4" fill="#e0e0e0"/>
<circle cx="338.6" cy="353.7" r="4.4" fill="#e0e0e0"/>
<circle cx="514.1" cy="348.6" r="4.4" fill="#e0e0e0"/>
<circle cx="527.2" cy="371.8" r="4.4" fill="#e0e0e0"/>
<circle cx="390.9" cy="229.6" r="4.4" fill="#e0e0e0"/>
<circle cx="316.1" cy="236.1" r="4.4" fill="#e0e0e0"/>
<circle cx="483.2" cy="323.0" r="4.4" fill="#e0e0e0"/>
<circle cx="216.0" cy="579.4" r="4.4" fill="#e0e0e0"/>
<circle cx="488.4" cy="371.2" r="4.4" fill="#e0e0e0"/>
<circle cx="220.3" cy="708.5" r="4.4" fill="#e0e0e0"/>
<circle cx="353.2" cy="452.2" r="4.4" fill="#e0e0e0"/>
<circle cx="446.4" cy="244.5" r="4.4" fill="#e0e0e0"/>
<circle cx="256.8" cy="731.1" r="4.4" fill="#e0e0e0"/>
<circle cx="177.1" cy="74.5" r="4.4" fill="#e0e0e0"/>
<circle cx="501.1" cy="380.0" r="4.4" fill="#e0e0e0"/>
<circle cx="232.1" cy="727.7" r="4.4" fill="#e0e0e0"/>
<circle cx="262.2" cy="823.3" r="4.4" fill="#e0e0e0"/>
<circle cx="511.8" cy="384.9" r="4.4" fill="#e0e0e0"/>
<circle cx="325.2" cy="394.0" r="4.4" fill="#e0e0e0"/>
<circle cx="232.5" cy="774.6" r="4.4" fill="#e0e0e0"/>
<circle cx="331.8" cy="250.0" r="4.4" fill="#e0e0e0"/>
<circle cx="441.9" cy="247.0" r="4.4" fill="#e0e0e0"/>
<circle cx="336.3" cy="395.6" r="4.4" fill="#e0e0e0"/>
<circle cx="276.4" cy="737.8" r="4.4" fill="#e0e0e0"/>
<circle cx="398.4" cy="226.6" r="4.4" fill="#e0e0e0"/>
<circle cx="445.9" cy="223.8" r="4.4" fill="#e0e0e0"/>
<circle cx="243.8" cy="664.6" r="4.4" fill="#e0e0e0"/>
<circle cx="534.0" cy="394.0" r="4.4" fill="#e0e0e0"/>
<circle cx="392.2" cy="231.2" r="4.4" fill="#e0e0e0"/>
<circle cx="459.4" cy="240.3" r="4.4" fill="#e0e0e0"/>
<circle cx="348.1" cy="409.1" r="4.4" fill="#e0e0e0"/>
<circle cx="355.9" cy="344.4" r="4.4" fill="#e0e0e0"/>
<circle cx="221.3" cy="697.7" r="4.4" fill="#e0e0e0"/>
<circle cx="237.8" cy="730.9" r="4.4" fill="#e0e0e0"/>
<circle cx="314.2" cy="292.0" r="4.4" fill="#e0e0e0"/>
<circle cx="398.7" cy="539.4" r="4.4" fill="#e0e0e0"/>
<circle cx="514.9" cy="429.3" r="4.4" fill="#e0e0e0"/>
<circle cx="489.5" cy="409.7" r="4.4" fill="#e0e0e0"/>
<circle cx="391.4" cy="220.6" r="4.4" fill="#e0e0e0"/>
<circle cx="217.2" cy="720.7" r="4.4" fill="#e0e0e0"/>
<circle cx="321.0" cy="394.2" r="4.4" fill="#e0e0e0"/>
<circle cx="324.8" cy="270.9" r="4.4" fill="#e0e0e0"/>
<circle cx="327.6" cy="387.5" r="4.4" fill="#e0e0e0"/>
<circle cx="203.5" cy="683.4" r="4.4" fill="#e0e0e0"/>
<circle cx="283.5" cy="617.5" r="4.4" fill="#e0e0e0"/>
<circle cx="271.4" cy="829.7" r="4.4" fill="#e0e0e0"/>
<circle cx="541.1" cy="400.5" r="4.4" fill="#e0e0e0"/>
<circle cx="258.1" cy="784.3" r="4.4" fill="#e0e0e0"/>
<circle cx="226.3" cy="765.5" r="4.4" fill="#e0e0e0"/>
<circle cx="317.6" cy="236.5" r="4.4" fill="#e0e0e0"/>
<circle cx="229.2" cy="727.9" r="4.4" fill="#e0e0e0"/>
<circle cx="506.2" cy="417.6" r="4.4" fill="#e0e0e0"/>
<circle cx="421.1" cy="225.5" r="4.4" fill="#e0e0e0"/>
<circle cx="325.4" cy="368.4" r="4.4" fill="#e0e0e0"/>
<circle cx="268.4" cy="802.7" r="4.4" fill="#e0e0e0"/>
<circle cx="325.2" cy="250.9" r="4.4" fill="#e0e0e0"/>
<circle cx="472.2" cy="282.3" r="4.4" fill="#e0e0e0"/>
<circle cx="374.5" cy="206.3" r="4.4" fill="#e0e0e0"/>
<circle cx="490.5" cy="469.7" r="4.4" fill="#e0e0e0"/>
<circle cx="333.7" cy="382.2" r="4.4" fill="#e0e0e0"/>
<circle cx="348.6" cy="618.3" r="4.4" fill="#e0e0e0"/>
<circle cx="222.1" cy="165.1" r="4.4" fill="#e0e0e0"/>
<circle cx="266.4" cy="734.8" r="4.4" fill="#e0e0e0"/>
<circle cx="407.8" cy="323.1" r="4.4" fill="#e0e0e0"/>
<circle cx="229.0" cy="770.2" r="4.4" fill="#e0e0e0"/>
<circle cx="237.2" cy="749.2" r="4.4" fill="#e0e0e0"/>
<circle cx="309.5" cy="240.0" r="4.4" fill="#e0e0e0"/>
<circle cx="400.5" cy="297.9" r="4.4" fill="#e0e0e0"/>
<circle cx="265.3" cy="779.2" r="4.4" fill="#e0e0e0"/>
<circle cx="329.3" cy="397.7" r="4.4" fill="#e0e0e0"/>
<circle cx="528.4" cy="411.5" r="4.4" fill="#e0e0e0"/>
<circle cx="415.3" cy="320.5" r="4.4" fill="#e0e0e0"/>
<circle cx="212.6" cy="643.6" r="4.4" fill="#e0e0e0"/>
<circle cx="231.8" cy="654.8" r="4.4" fill="#e0e0e0"/>
<circle cx="261.5" cy="832.3" r="4.4" fill="#e0e0e0"/>
<circle cx="355.0" cy="218.5" r="4.4" fill="#e0e0e0"/>
<circle cx="336.1" cy="338.3" r="4.4" fill="#e0e0e0"/>
<circle cx="325.7" cy="231.4" r="4.4" fill="#e0e0e0"/>
<circle cx="398.2" cy="231.5" r="4.4" fill="#e0e0e0"/>
<circle cx="259.5" cy="626.1" r="4.4" fill="#e0e0e0"/>
<circle cx="456.7" cy="269.4" r="4.4" fill="#e0e0e0"/>
<circle cx="343.9" cy="357.8" r="4.4" fill="#e0e0e0"/>
<circle cx="405.9" cy="564.0" r="4.4" fill="#e0e0e0"/>
<circle cx="214.6" cy="153.9" r="4.4" fill="#e0e0e0"/>
<circle cx="514.1" cy="430.2" r="4.4" fill="#e0e0e0"/>
<circle cx="278.7" cy="643.9" r="4.4" fill="#e0e0e0"/>
<circle cx="427.3" cy="555.3" r="4.4" fill="#e0e0e0"/>
<circle cx="304.0" cy="234.8" r="4.4" fill="#e0e0e0"/>
<circle cx="409.1" cy="318.2" r="4.4" fill="#e0e0e0"/>
<circle cx="522.0" cy="379.7" r="4.4" fill="#e0e0e0"/>
<circle cx="259.0" cy="315.6" r="4.4" fill="#e0e0e0"/>
<circle cx="223.5" cy="650.9" r="4.4" fill="#e0e0e0"/>
<circle cx="214.8" cy="731.0" r="4.4" fill="#e0e0e0"/>
<circle cx="343.5" cy="228.3" r="4.4" fill="#e0e0e0"/>
<circle cx="527.7" cy="398.8" r="4.4" fill="#e0e0e0"/>
<circle cx="472.4" cy="310.0" r="4.4" fill="#e0e0e0"/>
<circle cx="481.9" cy="351.5" r="4.4" fill="#e0e0e0"/>
<circle cx="421.8" cy="229.4" r="4.4" fill="#e0e0e0"/>
<circle cx="303.7" cy="155.0" r="4.4" fill="#e0e0e0"/>
<circle cx="487.0" cy="406.6" r="4.4" fill="#e0e0e0"/>
<circle cx="273.5" cy="711.6" r="4.4" fill="#e0e0e0"/>
<circle cx="518.1" cy="363.6" r="4.4" fill="#e0e0e0"/>
<circle cx="535.4" cy="414.7" r="4.4" fill="#e0e0e0"/>
<circle cx="380.8" cy="257.3" r="4.4" fill="#e0e0e0"/>
<circle cx="334.9" cy="308.4" r="4.4" fill="#e0e0e0"/>
<circle cx="396.5" cy="532.5" r="4.4" fill="#e0e0e0"/>
<circle cx="324.6" cy="239.1" r="4.4" fill="#e0e0e0"/>
<circle cx="195.5" cy="658.5" r="4.4" fill="#e0e0e0"/>
<circle cx="452.6" cy="226.8" r="4.4" fill="#e0e0e0"/>
<circle cx="316.7" cy="253.7" r="4.4" fill="#e0e0e0"/>
<circle cx="310.0" cy="615.4" r="4.4" fill="#e0e0e0"/>
<circle cx="500.6" cy="440.4" r="4.4" fill="#e0e0e0"/>
<circle cx="518.8" cy="397.7" r="4.4" fill="#e0e0e0"/>
<circle cx="254.2" cy="586.9" r="4.4" fill="#e0e0e0"/>
<circle cx="349.5" cy="350.4" r="4.4" fill="#e0e0e0"/>
<circle cx="258.0" cy="675.3" r="4.4" fill="#e0e0e0"/>
<circle cx="537.9" cy="369.4" r="4.4" fill="#e0e0e0"/>
<circle cx="516.4" cy="420.0" r="4.4" fill="#e0e0e0"/>
<circle cx="493.4" cy="416.4" r="4.4" fill="#e0e0e0"/>
<circle cx="379.7" cy="253.5" r="4.4" fill="#e0e0e0"/>
<circle cx="234.8" cy="760.1" r="4.4" fill="#e0e0e0"/>
<circle cx="220.6" cy="750.3" r="4.4" fill="#e0e0e0"/>
<circle cx="488.1" cy="333.4" r="4.4" fill="#e0e0e0"/>
<circle cx="362.0" cy="225.5" r="4.4" fill="#e0e0e0"/>
<circle cx="526.9" cy="394.6" r="4.4" fill="#e0e0e0"/>
<circle cx="371.8" cy="218.7" r="4.4" fill="#e0e0e0"/>
<circle cx="518.9" cy="434.2" r="4.4" fill="#e0e0e0"/>
<circle cx="294.1" cy="625.8" r="4.4" fill="#e0e0e0"/>
<circle cx="216.4" cy="697.4" r="4.4" fill="#e0e0e0"/>
<circle cx="546.2" cy="391.8" r="4.4" fill="#e0e0e0"/>
<circle cx="270.5" cy="650.6" r="4.4" fill="#e0e0e0"/>
<circle cx="345.2" cy="363.9" r="4.4" fill="#e0e0e0"/>
<circle cx="270.7" cy="821.0" r="4.4" fill="#e0e0e0"/>
<circle cx="386.8" cy="233.9" r="4.4" fill="#e0e0e0"/>
<circle cx="530.6" cy="391.2" r="4.4" fill="#e0e0e0"/>
<circle cx="250.1" cy="725.8" r="4.4" fill="#e0e0e0"/>
<circle cx="525.1" cy="405.7" r="4.4" fill="#e0e0e0"/>
<circle cx="332.6" cy="412.0" r="4.4" fill="#e0e0e0"/>
<circle cx="239.2" cy="780.9" r="4.4" fill="#e0e0e0"/>
<circle cx="276.9" cy="706.4" r="4.4" fill="#e0e0e0"/>
<circle cx="269.3" cy="756.4" r="4.4" fill="#e0e0e0"/>
<circle cx="262.1" cy="735.3" r="4.4" fill="#e0e0e0"/>
<circle cx="219.6" cy="565.9" r="4.4" fill="#e0e0e0"/>
<circle cx="318.6" cy="406.8" r="4.4" fill="#e0e0e0"/>
<circle cx="525.6" cy="418.9" r="4.4" fill="#e0e0e0"/>
<circle cx="488.0" cy="379.9" r="4.4" fill="#e0e0e0"/>
<circle cx="275.1" cy="667.8" r="4.4" fill="#e0e0e0"/>
<circle cx="345.6" cy="225.8" r="4.4" fill="#e0e0e0"/>
<circle cx="349.2" cy="223.5" r="4.4" fill="#e0e0e0"/>
<circle cx="230.0" cy="769.0" r="4.4" fill="#e0e0e0"/>
<circle cx="179.4" cy="80.9" r="4.4" fill="#e0e0e0"/>
<circle cx="445.7" cy="240.0" r="4.4" fill="#e0e0e0"/>
<circle cx="498.1" cy="379.7" r="4.4" fill="#e0e0e0"/>
<circle cx="276.3" cy="261.0" r="4.4" fill="#e0e0e0"/>
<circle cx="410.2" cy="568.4" r="4.4" fill="#e0e0e0"/>
<circle cx="485.5" cy="347.3" r="4.4" fill="#e0e0e0"/>
<circle cx="375.5" cy="248.9" r="4.4" fill="#e0e0e0"/>
<circle cx="433.6" cy="284.0" r="4.4" fill="#e0e0e0"/>
<circle cx="392.3" cy="538.9" r="4.4" fill="#e0e0e0"/>
<circle cx="333.5" cy="407.4" r="4.4" fill="#e0e0e0"/>
<circle cx="405.0" cy="530.9" r="4.4" fill="#e0e0e0"/>
<circle cx="265.9" cy="833.0" r="4.4" fill="#e0e0e0"/>
<circle cx="471.5" cy="276.5" r="4.4" fill="#e0e0e0"/>
<circle cx="350.4" cy="349.3" r="4.4" fill="#e0e0e0"/>
<circle cx="501.5" cy="471.7" r="4.4" fill="#e0e0e0"/>
<circle cx="354.8" cy="442.5" r="4.4" fill="#e0e0e0"/>
<circle cx="338.2" cy="388.7" r="4.4" fill="#e0e0e0"/>
<circle cx="427.7" cy="245.4" r="4.4" fill="#e0e0e0"/>
<circle cx="240.8" cy="134.4" r="4.4" fill="#e0e0e0"/>
<circle cx="417.7" cy="270.8" r="4.4" fill="#e0e0e0"/>
<circle cx="325.5" cy="396.1" r="4.4" fill="#e0e0e0"/>
<circle cx="354.2" cy="216.0" r="4.4" fill="#e0e0e0"/>
<circle cx="263.8" cy="681.3" r="4.4" fill="#e0e0e0"/>
<circle cx="223.1" cy="187.6" r="4.4" fill="#e0e0e0"/>
<circle cx="161.9" cy="89.5" r="4.4" fill="#e0e0e0"/>
<circle cx="251.2" cy="787.1" r="4.4" fill="#e0e0e0"/>
<circle cx="327.3" cy="361.3" r="4.4" fill="#e0e0e0"/>
<circle cx="488.3" cy="335.0" r="4.4" fill="#e0e0e0"/>
<circle cx="231.4" cy="662.2" r="4.4" fill="#e0e0e0"/>
<circle cx="486.0" cy="402.3" r="4.4" fill="#e0e0e0"/>
<circle cx="271.5" cy="770.3" r="4.4" fill="#e0e0e0"/>
<circle cx="307.5" cy="239.4" r="4.4" fill="#e0e0e0"/>
<circle cx="232.7" cy="722.2" r="4.4" fill="#e0e0e0"/>
<circle cx="330.7" cy="660.6" r="4.4" fill="#e0e0e0"/>
<circle cx="359.0" cy="441.4" r="4.4" fill="#e0e0e0"/>
<circle cx="169.8" cy="73.3" r="4.4" fill="#e0e0e0"/>
<circle cx="297.3" cy="613.1" r="4.4" fill="#e0e0e0"/>
<circle cx="525.7" cy="363.8" r="4.4" fill="#e0e0e0"/>
<circle cx="355.2" cy="371.0" r="4.4" fill="#e0e0e0"/>
<circle cx="223.1" cy="741.6" r="4.4" fill="#e0e0e0"/>
<circle cx="230.5" cy="743.1" r="4.4" fill="#e0e0e0"/>
<circle cx="517.3" cy="388.5" r="4.4" fill="#e0e0e0"/>
<circle cx="536.5" cy="382.7" r="4.4" fill="#e0e0e0"/>
<circle cx="408.1" cy="563.5" r="4.4" fill="#e0e0e0"/>
<circle cx="391.7" cy="207.6" r="4.4" fill="#e0e0e0"/>
<circle cx="249.1" cy="745.2" r="4.4" fill="#e0e0e0"/>
<circle cx="263.2" cy="809.7" r="4.4" fill="#e0e0e0"/>
<circle cx="272.6" cy="653.4" r="4.4" fill="#e0e0e0"/>
<circle cx="484.7" cy="413.4" r="4.4" fill="#e0e0e0"/>
<circle cx="211.0" cy="723.7" r="4.4" fill="#e0e0e0"/>
<circle cx="166.3" cy="102.9" r="4.4" fill="#e0e0e0"/>
<circle cx="328.5" cy="224.7" r="4.4" fill="#e0e0e0"/>
<circle cx="236.6" cy="751.9" r="4.4" fill="#e0e0e0"/>
<circle cx="507.6" cy="428.2" r="4.4" fill="#e0e0e0"/>
<circle cx="111.7" cy="615.0" r="4.4" fill="#e0e0e0"/>
<circle cx="331.0" cy="374.9" r="4.4" fill="#e0e0e0"/>
<circle cx="313.2" cy="219.3" r="4.4" fill="#e0e0e0"/>
<circle cx="256.4" cy="689.0" r="4.4" fill="#e0e0e0"/>
<circle cx="340.4" cy="410.6" r="4.4" fill="#e0e0e0"/>
<circle cx="344.0" cy="402.6" r="4.4" fill="#e0e0e0"/>
<circle cx="339.0" cy="604.0" r="4.4" fill="#e0e0e0"/>
<circle cx="274.6" cy="767.2" r="4.4" fill="#e0e0e0"/>
<circle cx="238.9" cy="753.3" r="4.4" fill="#e0e0e0"/>
<circle cx="488.0" cy="381.2" r="4.4" fill="#e0e0e0"/>
<circle cx="338.5" cy="322.0" r="4.4" fill="#e0e0e0"/>
<circle cx="459.0" cy="232.6" r="4.4" fill="#e0e0e0"/>
<circle cx="209.9" cy="678.7" r="4.4" fill="#e0e0e0"/>
<circle cx="482.1" cy="560.5" r="4.4" fill="#e0e0e0"/>
<circle cx="249.4" cy="799.4" r="4.4" fill="#e0e0e0"/>
<circle cx="270.8" cy="749.6" r="4.4" fill="#e0e0e0"/>
<circle cx="228.9" cy="145.7" r="4.4" fill="#e0e0e0"/>
<circle cx="279.5" cy="799.3" r="4.4" fill="#e0e0e0"/>
<circle cx="269.1" cy="722.6" r="4.4" fill="#e0e0e0"/>
<circle cx="331.7" cy="338.2" r="4.4" fill="#e0e0e0"/>
<circle cx="215.7" cy="717.9" r="4.4" fill="#e0e0e0"/>
<circle cx="506.4" cy="391.9" r="4.4" fill="#e0e0e0"/>
<circle cx="394.3" cy="225.5" r="4.4" fill="#e0e0e0"/>
<circle cx="420.3" cy="235.5" r="4.4" fill="#e0e0e0"/>
<circle cx="256.9" cy="576.4" r="4.4" fill="#e0e0e0"/>
<circle cx="405.2" cy="568.3" r="4.4" fill="#e0e0e0"/>
<circle cx="446.7" cy="243.7" r="4.4" fill="#e0e0e0"/>
<circle cx="526.6" cy="344.1" r="4.4" fill="#e0e0e0"/>
<circle cx="248.9" cy="650.9" r="4.4" fill="#e0e0e0"/>
<circle cx="240.5" cy="733.7" r="4.4" fill="#e0e0e0"/>
<circle cx="205.6" cy="681.1" r="4.4" fill="#e0e0e0"/>
<circle cx="286.7" cy="253.3" r="4.4" fill="#e0e0e0"/>
<circle cx="398.5" cy="525.6" r="4.4" fill="#e0e0e0"/>
<circle cx="305.1" cy="233.2" r="4.4" fill="#e0e0e0"/>
<circle cx="259.5" cy="817.4" r="4.4" fill="#e0e0e0"/>
<circle cx="293.3" cy="622.4" r="4.4" fill="#e0e0e0"/>
<circle cx="298.0" cy="610.6" r="4.4" fill="#e0e0e0"/>
<circle cx="521.1" cy="404.5" r="4.4" fill="#e0e0e0"/>
<circle cx="302.2" cy="256.4" r="4.4" fill="#e0e0e0"/>
<circle cx="397.4" cy="527.1" r="4.4" fill="#e0e0e0"/>
<circle cx="267.6" cy="726.3" r="4.4" fill="#e0e0e0"/>
<circle cx="238.8" cy="768.1" r="4.4" fill="#e0e0e0"/>
<circle cx="304.8" cy="224.0" r="4.4" fill="#e0e0e0"/>
<circle cx="275.1" cy="717.4" r="4.4" fill="#e0e0e0"/>
<circle cx="227.8" cy="752.1" r="4.4" fill="#e0e0e0"/>
<circle cx="349.2" cy="345.5" r="4.4" fill="#e0e0e0"/>
<circle cx="415.3" cy="547.4" r="4.4" fill="#e0e0e0"/>
<circle cx="275.4" cy="769.6" r="4.4" fill="#e0e0e0"/>
<circle cx="431.8" cy="283.4" r="4.4" fill="#e0e0e0"/>
<circle cx="421.8" cy="548.5" r="4.4" fill="#e0e0e0"/>
<circle cx="392.6" cy="535.0" r="4.4" fill="#e0e0e0"/>
<circle cx="329.9" cy="309.8" r="4.4" fill="#e0e0e0"/>
<circle cx="504.7" cy="363.7" r="4.4" fill="#e0e0e0"/>
<circle cx="437.4" cy="229.5" r="4.4" fill="#e0e0e0"/>
<circle cx="334.8" cy="366.2" r="4.4" fill="#e0e0e0"/>
<circle cx="302.9" cy="243.4" r="4.4" fill="#e0e0e0"/>
<circle cx="206.2" cy="666.2" r="4.4" fill="#e0e0e0"/>
<circle cx="477.5" cy="308.3" r="4.4" fill="#e0e0e0"/>
<circle cx="236.6" cy="634.9" r="4.4" fill="#e0e0e0"/>
<circle cx="529.1" cy="409.8" r="4.4" fill="#e0e0e0"/>
<circle cx="349.5" cy="337.1" r="4.4" fill="#e0e0e0"/>
<circle cx="529.2" cy="357.1" r="4.4" fill="#e0e0e0"/>
<circle cx="394.2" cy="217.0" r="4.4" fill="#e0e0e0"/>
<circle cx="354.3" cy="350.8" r="4.4" fill="#e0e0e0"/>
<circle cx="250.5" cy="800.0" r="4.4" fill="#e0e0e0"/>
<circle cx="371.8" cy="226.4" r="4.4" fill="#e0e0e0"/>
<circle cx="347.5" cy="439.0" r="4.4" fill="#e0e0e0"/>
<circle cx="322.7" cy="657.8" r="4.4" fill="#e0e0e0"/>
<circle cx="253.1" cy="679.1" r="4.4" fill="#e0e0e0"/>
<circle cx="510.2" cy="396.1" r="4.4" fill="#e0e0e0"/>
<circle cx="314.6" cy="274.7" r="4.4" fill="#e0e0e0"/>
<circle cx="346.7" cy="340.0" r="4.4" fill="#e0e0e0"/>
<circle cx="267.5" cy="292.5" r="4.4" fill="#e0e0e0"/>
<circle cx="323.9" cy="364.5" r="4.4" fill="#e0e0e0"/>
<circle cx="490.4" cy="373.8" r="4.4" fill="#e0e0e0"/>
<circle cx="447.4" cy="229.2" r="4.4" fill="#e0e0e0"/>
<circle cx="445.7" cy="254.5" r="4.4" fill="#e0e0e0"/>
<circle cx="237.6" cy="745.2" r="4.4" fill="#e0e0e0"/>
<circle cx="489.2" cy="357.5" r="4.4" fill="#e0e0e0"/>
<circle cx="542.7" cy="362.6" r="4.4" fill="#e0e0e0"/>
<circle cx="240.8" cy="648.9" r="4.4" fill="#e0e0e0"/>
<circle cx="311.3" cy="389.0" r="4.4" fill="#e0e0e0"/>
<circle cx="168.5" cy="160.3" r="4.4" fill="#e0e0e0"/>
<circle cx="423.5" cy="244.0" r="4.4" fill="#e0e0e0"/>
<circle cx="487.8" cy="407.9" r="4.4" fill="#e0e0e0"/>
<circle cx="399.2" cy="529.4" r="4.4" fill="#e0e0e0"/>
<circle cx="237.6" cy="754.0" r="4.4" fill="#e0e0e0"/>
<circle cx="335.6" cy="406.1" r="4.4" fill="#e0e0e0"/>
<circle cx="528.2" cy="410.1" r="4.4" fill="#e0e0e0"/>
<circle cx="318.0" cy="391.6" r="4.4" fill="#e0e0e0"/>
<circle cx="438.7" cy="250.6" r="4.4" fill="#e0e0e0"/>
<circle cx="195.8" cy="619.4" r="4.4" fill="#e0e0e0"/>
<circle cx="510.5" cy="401.0" r="4.4" fill="#e0e0e0"/>
<circle cx="267.4" cy="700.1" r="4.4" fill="#e0e0e0"/>
<circle cx="329.4" cy="614.9" r="4.4" fill="#e0e0e0"/>
<circle cx="311.7" cy="253.6" r="4.4" fill="#e0e0e0"/>
<circle cx="436.7" cy="300.5" r="4.4" fill="#e0e0e0"/>
<circle cx="328.1" cy="396.8" r="4.4" fill="#e0e0e0"/>
<circle cx="313.4" cy="382.7" r="4.4" fill="#e0e0e0"/>
<circle cx="164.4" cy="581.0" r="4.4" fill="#e0e0e0"/>
<circle cx="276.1" cy="744.4" r="4.4" fill="#e0e0e0"/>
<circle cx="492.3" cy="383.0" r="4.4" fill="#e0e0e0"/>
<circle cx="471.8" cy="295.1" r="4.4" fill="#e0e0e0"/>
<circle cx="520.3" cy="424.5" r="4.4" fill="#e0e0e0"/>
<circle cx="290.6" cy="231.0" r="4.4" fill="#e0e0e0"/>
<circle cx="233.5" cy="727.2" r="4.4" fill="#e0e0e0"/>
<circle cx="469.2" cy="290.0" r="4.4" fill="#e0e0e0"/>
<circle cx="410.2" cy="270.9" r="4.4" fill="#e0e0e0"/>
<circle cx="216.1" cy="742.5" r="4.4" fill="#e0e0e0"/>
<circle cx="334.4" cy="342.1" r="4.4" fill="#e0e0e0"/>
<circle cx="328.7" cy="283.1" r="4.4" fill="#e0e0e0"/>
<circle cx="534.6" cy="371.8" r="4.4" fill="#e0e0e0"/>
<circle cx="225.0" cy="743.0" r="4.4" fill="#e0e0e0"/>
<circle cx="439.2" cy="240.0" r="4.4" fill="#e0e0e0"/>
<circle cx="518.7" cy="391.2" r="4.4" fill="#e0e0e0"/>
<circle cx="231.0" cy="734.4" r="4.4" fill="#e0e0e0"/>
<circle cx="400.4" cy="229.8" r="4.4" fill="#e0e0e0"/>
<circle cx="516.6" cy="346.8" r="4.4" fill="#e0e0e0"/>
<circle cx="186.9" cy="631.4" r="4.4" fill="#e0e0e0"/>
<circle cx="262.0" cy="827.5" r="4.4" fill="#e0e0e0"/>
<circle cx="420.4" cy="244.6" r="4.4" fill="#e0e0e0"/>
<circle cx="489.4" cy="436.7" r="4.4" fill="#e0e0e0"/>
<circle cx="329.1" cy="234.8" r="4.4" fill="#e0e0e0"/>
<circle cx="440.5" cy="288.6" r="4.4" fill="#e0e0e0"/>
<circle cx="311.4" cy="396.2" r="4.4" fill="#e0e0e0"/>
<circle cx="189.3" cy="120.8" r="4.4" fill="#e0e0e0"/>
<circle cx="203.0" cy="683.2" r="4.4" fill="#e0e0e0"/>
<circle cx="331.5" cy="321.2" r="4.4" fill="#e0e0e0"/>
<circle cx="332.7" cy="254.4" r="4.4" fill="#e0e0e0"/>
<circle cx="330.0" cy="703.4" r="4.4" fill="#e0e0e0"/>
<circle cx="383.6" cy="270.3" r="4.4" fill="#e0e0e0"/>
<circle cx="431.9" cy="234.7" r="4.4" fill="#e0e0e0"/>
<circle cx="399.1" cy="221.2" r="4.4" fill="#e0e0e0"/>
<circle cx="262.6" cy="729.2" r="4.4" fill="#e0e0e0"/>
<circle cx="180.4" cy="95.3" r="4.4" fill="#e0e0e0"/>
<circle cx="262.9" cy="828.4" r="4.4" fill="#e0e0e0"/>
<circle cx="165.8" cy="141.2" r="4.4" fill="#e0e0e0"/>
<circle cx="209.9" cy="145.3" r="4.4" fill="#e0e0e0"/>
<circle cx="177.4" cy="174.9" r="4.4" fill="#e0e0e0"/>
<circle cx="413.2" cy="314.6" r="4.4" fill="#e0e0e0"/>
<circle cx="218.6" cy="734.4" r="4.4" fill="#e0e0e0"/>
<circle cx="271.3" cy="756.8" r="4.4" fill="#e0e0e0"/>
<circle cx="347.8" cy="222.9" r="4.4" fill="#e0e0e0"/>
<circle cx="272.6" cy="673.8" r="4.4" fill="#e0e0e0"/>
<circle cx="235.8" cy="662.7" r="4.4" fill="#e0e0e0"/>
<circle cx="273.6" cy="785.7" r="4.4" fill="#e0e0e0"/>
<circle cx="246.6" cy="629.3" r="4.4" fill="#e0e0e0"/>
<circle cx="204.5" cy="681.0" r="4.4" fill="#e0e0e0"/>
<circle cx="332.0" cy="246.0" r="4.4" fill="#e0e0e0"/>
<circle cx="388.8" cy="667.5" r="4.4" fill="#e0e0e0"/>
<circle cx="344.2" cy="420.3" r="4.4" fill="#e0e0e0"/>
<circle cx="269.1" cy="712.1" r="4.4" fill="#e0e0e0"/>
<circle cx="332.0" cy="387.3" r="4.4" fill="#e0e0e0"/>
<circle cx="231.6" cy="685.8" r="4.4" fill="#e0e0e0"/>
<circle cx="252.0" cy="766.4" r="4.4" fill="#e0e0e0"/>
<circle cx="249.4" cy="581.9" r="4.4" fill="#e0e0e0"/>
<circle cx="497.1" cy="375.9" r="4.4" fill="#e0e0e0"/>
<circle cx="247.1" cy="582.3" r="4.4" fill="#e0e0e0"/>
<circle cx="405.8" cy="523.1" r="4.4" fill="#e0e0e0"/>
<circle cx="359.1" cy="449.8" r="4.4" fill="#e0e0e0"/>
<circle cx="502.1" cy="363.9" r="4.4" fill="#e0e0e0"/>
<circle cx="273.5" cy="768.7" r="4.4" fill="#e0e0e0"/>
<circle cx="355.0" cy="355.3" r="4.4" fill="#e0e0e0"/>
<circle cx="489.3" cy="326.4" r="4.4" fill="#e0e0e0"/>
<circle cx="512.3" cy="434.7" r="4.4" fill="#e0e0e0"/>
<circle cx="513.9" cy="389.2" r="4.4" fill="#e0e0e0"/>
<circle cx="511.0" cy="396.5" r="4.4" fill="#e0e0e0"/>
<circle cx="199.5" cy="590.9" r="4.4" fill="#e0e0e0"/>
<circle cx="405.2" cy="534.2" r="4.4" fill="#e0e0e0"/>
<circle cx="204.3" cy="696.4" r="4.4" fill="#e0e0e0"/>
<circle cx="449.6" cy="243.8" r="4.4" fill="#e0e0e0"/>
<circle cx="266.7" cy="727.4" r="4.4" fill="#e0e0e0"/>
<circle cx="216.7" cy="692.4" r="4.4" fill="#e0e0e0"/>
<circle cx="164.7" cy="97.1" r="4.4" fill="#e0e0e0"/>
<circle cx="368.7" cy="220.1" r="4.4" fill="#e0e0e0"/>
<circle cx="325.8" cy="273.5" r="4.4" fill="#e0e0e0"/>
<circle cx="397.8" cy="215.2" r="4.4" fill="#e0e0e0"/>
<circle cx="531.8" cy="421.3" r="4.4" fill="#e0e0e0"/>
<circle cx="240.4" cy="650.0" r="4.4" fill="#e0e0e0"/>
<circle cx="480.0" cy="330.2" r="4.4" fill="#e0e0e0"/>
<circle cx="318.0" cy="368.4" r="4.4" fill="#e0e0e0"/>
<circle cx="309.6" cy="268.8" r="4.4" fill="#e0e0e0"/>
<circle cx="251.0" cy="623.0" r="4.4" fill="#e0e0e0"/>
<circle cx="401.5" cy="518.5" r="4.4" fill="#e0e0e0"/>
<circle cx="495.1" cy="430.5" r="4.4" fill="#e0e0e0"/>
<circle cx="321.2" cy="401.6" r="4.4" fill="#e0e0e0"/>
<circle cx="437.2" cy="235.7" r="4.4" fill="#e0e0e0"/>
<circle cx="484.7" cy="362.1" r="4.4" fill="#e0e0e0"/>
<circle cx="213.1" cy="702.4" r="4.4" fill="#e0e0e0"/>
<circle cx="202.9" cy="680.8" r="4.4" fill="#e0e0e0"/>
<circle cx="261.5" cy="764.4" r="4.4" fill="#e0e0e0"/>
<circle cx="266.2" cy="796.4" r="4.4" fill="#e0e0e0"/>
<circle cx="474.8" cy="299.1" r="4.4" fill="#e0e0e0"/>
<circle cx="312.9" cy="270.8" r="4.4" fill="#e0e0e0"/>
<circle cx="374.9" cy="224.7" r="4.4" fill="#e0e0e0"/>
<circle cx="501.4" cy="382.2" r="4.4" fill="#e0e0e0"/>
<circle cx="195.7" cy="72.4" r="4.4" fill="#e0e0e0"/>
<circle cx="329.0" cy="411.4" r="4.4" fill="#e0e0e0"/>
<circle cx="273.1" cy="623.1" r="4.4" fill="#e0e0e0"/>
<circle cx="501.1" cy="403.6" r="4.4" fill="#e0e0e0"/>
<circle cx="302.8" cy="289.2" r="4.4" fill="#e0e0e0"/>
<circle cx="410.8" cy="579.8" r="4.4" fill="#e0e0e0"/>
<circle cx="413.0" cy="308.7" r="4.4" fill="#e0e0e0"/>
<circle cx="385.9" cy="206.1" r="4.4" fill="#e0e0e0"/>
<circle cx="276.8" cy="694.7" r="4.4" fill="#e0e0e0"/>
<circle cx="493.1" cy="368.2" r="4.4" fill="#e0e0e0"/>
<circle cx="236.7" cy="138.2" r="4.4" fill="#e0e0e0"/>
<circle cx="162.1" cy="132.9" r="4.4" fill="#e0e0e0"/>
<circle cx="461.3" cy="247.5" r="4.4" fill="#e0e0e0"/>
<circle cx="450.4" cy="289.5" r="4.4" fill="#e0e0e0"/>
<circle cx="398.4" cy="222.1" r="4.4" fill="#e0e0e0"/>
<circle cx="160.7" cy="148.5" r="4.4" fill="#e0e0e0"/>
<circle cx="495.9" cy="441.7" r="4.4" fill="#e0e0e0"/>
<circle cx="257.8" cy="617.5" r="4.4" fill="#e0e0e0"/>
<circle cx="175.3" cy="160.2" r="4.4" fill="#e0e0e0"/>
<circle cx="265.9" cy="670.1" r="4.4" fill="#e0e0e0"/>
<circle cx="250.0" cy="601.9" r="4.4" fill="#e0e0e0"/>
<circle cx="430.8" cy="232.6" r="4.4" fill="#e0e0e0"/>
<circle cx="467.2" cy="290.2" r="4.4" fill="#e0e0e0"/>
<circle cx="382.8" cy="215.6" r="4.4" fill="#e0e0e0"/>
<circle cx="505.6" cy="394.1" r="4.4" fill="#e0e0e0"/>
<circle cx="523.3" cy="422.7" r="4.4" fill="#e0e0e0"/>
<circle cx="262.5" cy="815.9" r="4.4" fill="#e0e0e0"/>
<circle cx="426.6" cy="230.4" r="4.4" fill="#e0e0e0"/>
<circle cx="166.7" cy="601.7" r="4.4" fill="#e0e0e0"/>
<circle cx="485.3" cy="434.8" r="4.4" fill="#e0e0e0"/>
<circle cx="194.6" cy="123.6" r="4.4" fill="#e0e0e0"/>
<circle cx="321.2" cy="295.5" r="4.4" fill="#e0e0e0"/>
<circle cx="494.0" cy="415.3" r="4.4" fill="#e0e0e0"/>
<circle cx="240.6" cy="667.4" r="4.4" fill="#e0e0e0"/>
<circle cx="536.6" cy="368.9" r="4.4" fill="#e0e0e0"/>
<circle cx="187.9" cy="164.4" r="4.4" fill="#e0e0e0"/>
<circle cx="264.3" cy="658.8" r="4.4" fill="#e0e0e0"/>
<circle cx="255.8" cy="651.6" r="4.4" fill="#e0e0e0"/>
<circle cx="360.0" cy="441.4" r="4.4" fill="#e0e0e0"/>
<circle cx="273.6" cy="612.0" r="4.4" fill="#e0e0e0"/>
<circle cx="405.3" cy="562.4" r="4.4" fill="#e0e0e0"/>
<circle cx="191.2" cy="70.4" r="4.4" fill="#e0e0e0"/>
<circle cx="329.7" cy="272.9" r="4.4" fill="#e0e0e0"/>
<circle cx="274.9" cy="780.9" r="4.4" fill="#e0e0e0"/>
<circle cx="225.5" cy="742.1" r="4.4" fill="#e0e0e0"/>
<circle cx="355.8" cy="370.7" r="4.4" fill="#e0e0e0"/>
<circle cx="496.5" cy="429.6" r="4.4" fill="#e0e0e0"/>
<circle cx="176.6" cy="77.9" r="4.4" fill="#e0e0e0"/>
<circle cx="435.0" cy="246.1" r="4.4" fill="#e0e0e0"/>
<circle cx="478.6" cy="337.1" r="4.4" fill="#e0e0e0"/>
<circle cx="321.7" cy="285.5" r="4.4" fill="#e0e0e0"/>
<circle cx="380.8" cy="231.2" r="4.4" fill="#e0e0e0"/>
<circle cx="386.3" cy="243.0" r="4.4" fill="#e0e0e0"/>
<circle cx="319.8" cy="231.5" r="4.4" fill="#e0e0e0"/>
<circle cx="226.8" cy="705.9" r="4.4" fill="#e0e0e0"/>
<circle cx="276.0" cy="801.1" r="4.4" fill="#e0e0e0"/>
<circle cx="247.9" cy="638.8" r="4.4" fill="#e0e0e0"/>
<circle cx="287.8" cy="641.2" r="4.4" fill="#e0e0e0"/>
<circle cx="388.7" cy="258.4" r="4.4" fill="#e0e0e0"/>
<circle cx="292.1" cy="612.2" r="4.4" fill="#e0e0e0"/>
<circle cx="443.2" cy="302.4" r="4.4" fill="#e0e0e0"/>
<circle cx="236.8" cy="680.2" r="4.4" fill="#e0e0e0"/>
<circle cx="330.1" cy="387.6" r="4.4" fill="#e0e0e0"/>
<circle cx="515.1" cy="358.3" r="4.4" fill="#e0e0e0"/>
<circle cx="334.8" cy="283.3" r="4.4" fill="#e0e0e0"/>
<circle cx="222.7" cy="665.8" r="4.4" fill="#e0e0e0"/>
<circle cx="516.1" cy="384.4" r="4.4" fill="#e0e0e0"/>
<circle cx="247.1" cy="605.3" r="4.4" fill="#e0e0e0"/>
<circle cx="246.1" cy="735.9" r="4.4" fill="#e0e0e0"/>
<circle cx="256.0" cy="768.9" r="4.4" fill="#e0e0e0"/>
<circle cx="354.3" cy="430.2" r="4.4" fill="#e0e0e0"/>
<circle cx="538.7" cy="412.0" r="4.4" fill="#e0e0e0"/>
<circle cx="384.4" cy="253.8" r="4.4" fill="#e0e0e0"/>
<circle cx="196.5" cy="79.0" r="4.4" fill="#e0e0e0"/>
<circle cx="489.6" cy="346.2" r="4.4" fill="#e0e0e0"/>
<circle cx="232.4" cy="152.1" r="4.4" fill="#e0e0e0"/>
<circle cx="329.2" cy="261.3" r="4.4" fill="#e0e0e0"/>
<circle cx="252.4" cy="725.0" r="4.4" fill="#e0e0e0"/>
<circle cx="222.5" cy="66.4" r="4.4" fill="#e0e0e0"/>
<circle cx="540.9" cy="376.8" r="4.4" fill="#e0e0e0"/>
<circle cx="233.9" cy="662.6" r="4.4" fill="#e0e0e0"/>
<circle cx="291.6" cy="611.4" r="4.4" fill="#e0e0e0"/>
<circle cx="301.7" cy="233.8" r="4.4" fill="#e0e0e0"/>
<circle cx="221.1" cy="702.1" r="4.4" fill="#e0e0e0"/>
<circle cx="248.9" cy="617.1" r="4.4" fill="#e0e0e0"/>
<circle cx="272.5" cy="728.4" r="4.4" fill="#e0e0e0"/>
<circle cx="297.4" cy="612.4" r="4.4" fill="#e0e0e0"/>
<circle cx="420.7" cy="233.1" r="4.4" fill="#e0e0e0"/>
<circle cx="480.0" cy="332.7" r="4.4" fill="#e0e0e0"/>
<circle cx="519.0" cy="372.7" r="4.4" fill="#e0e0e0"/>
<circle cx="241.1" cy="766.4" r="4.4" fill="#e0e0e0"/>
<circle cx="286.0" cy="254.0" r="4.4" fill="#e0e0e0"/>
<circle cx="533.5" cy="387.6" r="4.4" fill="#e0e0e0"/>
<circle cx="524.0" cy="420.4" r="4.4" fill="#e0e0e0"/>
<circle cx="508.8" cy="363.0" r="4.4" fill="#e0e0e0"/>
<circle cx="534.9" cy="368.8" r="4.4" fill="#e0e0e0"/>
<circle cx="509.7" cy="363.2" r="4.4" fill="#e0e0e0"/>
<circle cx="370.6" cy="220.5" r="4.4" fill="#e0e0e0"/>
<circle cx="245.8" cy="665.0" r="4.4" fill="#e0e0e0"/>
<circle cx="353.9" cy="450.8" r="4.4" fill="#e0e0e0"/>
<circle cx="349.6" cy="227.5" r="4.4" fill="#e0e0e0"/>
<circle cx="345.1" cy="384.1" r="4.4" fill="#e0e0e0"/>
<circle cx="230.8" cy="591.7" r="4.4" fill="#e0e0e0"/>
<circle cx="501.5" cy="397.3" r="4.4" fill="#e0e0e0"/>
<circle cx="203.8" cy="704.8" r="4.4" fill="#e0e0e0"/>
<circle cx="346.2" cy="345.3" r="4.4" fill="#e0e0e0"/>
<circle cx="348.3" cy="235.8" r="4.4" fill="#e0e0e0"/>
<circle cx="462.7" cy="276.3" r="4.4" fill="#e0e0e0"/>
<circle cx="349.2" cy="377.2" r="4.4" fill="#e0e0e0"/>
<circle cx="274.2" cy="703.2" r="4.4" fill="#e0e0e0"/>
<circle cx="475.8" cy="307.0" r="4.4" fill="#e0e0e0"/>
<circle cx="326.4" cy="312.3" r="4.4" fill="#e0e0e0"/>
<circle cx="379.5" cy="256.2" r="4.4" fill="#e0e0e0"/>
<circle cx="338.7" cy="357.8" r="4.4" fill="#e0e0e0"/>
<circle cx="544.9" cy="405.4" r="4.4" fill="#e0e0e0"/>
<circle cx="482.7" cy="333.9" r="4.4" fill="#e0e0e0"/>
<circle cx="251.1" cy="635.4" r="4.4" fill="#e0e0e0"/>
<circle cx="345.5" cy="375.0" r="4.4" fill="#e0e0e0"/>
<circle cx="410.8" cy="566.5" r="4.4" fill="#e0e0e0"/>
<circle cx="409.6" cy="581.7" r="4.4" fill="#e0e0e0"/>
<circle cx="406.3" cy="314.6" r="4.4" fill="#e0e0e0"/>
<circle cx="229.2" cy="573.8" r="4.4" fill="#e0e0e0"/>
<circle cx="451.6" cy="304.4" r="4.4" fill="#e0e0e0"/>
<circle cx="453.0" cy="270.1" r="4.4" fill="#e0e0e0"/>
<circle cx="216.8" cy="145.5" r="4.4" fill="#e0e0e0"/>
<circle cx="493.9" cy="381.0" r="4.4" fill="#e0e0e0"/>
<circle cx="502.1" cy="477.2" r="4.4" fill="#e0e0e0"/>
<circle cx="495.0" cy="336.9" r="4.4" fill="#e0e0e0"/>
<circle cx="521.0" cy="422.1" r="4.4" fill="#e0e0e0"/>
<circle cx="511.6" cy="406.9" r="4.4" fill="#e0e0e0"/>
<circle cx="385.7" cy="211.0" r="4.4" fill="#e0e0e0"/>
<circle cx="271.3" cy="769.4" r="4.4" fill="#e0e0e0"/>
<circle cx="309.2" cy="283.8" r="4.4" fill="#e0e0e0"/>
<circle cx="220.8" cy="604.7" r="4.4" fill="#e0e0e0"/>
<circle cx="492.3" cy="474.6" r="4.4" fill="#e0e0e0"/>
<circle cx="446.6" cy="242.5" r="4.4" fill="#e0e0e0"/>
<circle cx="194.3" cy="599.9" r="4.4" fill="#e0e0e0"/>
<circle cx="244.2" cy="651.4" r="4.4" fill="#e0e0e0"/>
<circle cx="484.9" cy="373.9" r="4.4" fill="#e0e0e0"/>
<circle cx="315.2" cy="239.1" r="4.4" fill="#e0e0e0"/>
<circle cx="272.5" cy="771.0" r="4.4" fill="#e0e0e0"/>
<circle cx="389.7" cy="251.9" r="4.4" fill="#e0e0e0"/>
<circle cx="329.0" cy="299.3" r="4.4" fill="#e0e0e0"/>
<circle cx="275.0" cy="808.7" r="4.4" fill="#e0e0e0"/>
<circle cx="335.5" cy="402.4" r="4.4" fill="#e0e0e0"/>
<circle cx="234.8" cy="643.4" r="4.4" fill="#e0e0e0"/>
<circle cx="326.5" cy="284.5" r="4.4" fill="#e0e0e0"/>
<circle cx="518.3" cy="381.4" r="4.4" fill="#e0e0e0"/>
<circle cx="450.9" cy="231.3" r="4.4" fill="#e0e0e0"/>
<circle cx="401.5" cy="540.2" r="4.4" fill="#e0e0e0"/>
<circle cx="482.9" cy="428.5" r="4.4" fill="#e0e0e0"/>
<circle cx="184.7" cy="641.2" r="4.4" fill="#e0e0e0"/>
<circle cx="271.4" cy="640.9" r="4.4" fill="#e0e0e0"/>
<circle cx="315.3" cy="373.3" r="4.4" fill="#e0e0e0"/>
<circle cx="385.3" cy="251.6" r="4.4" fill="#e0e0e0"/>
<circle cx="267.3" cy="678.4" r="4.4" fill="#e0e0e0"/>
<circle cx="255.7" cy="735.8" r="4.4" fill="#e0e0e0"/>
<circle cx="252.4" cy="587.7" r="4.4" fill="#e0e0e0"/>
<circle cx="419.7" cy="231.7" r="4.4" fill="#e0e0e0"/>
<circle cx="342.8" cy="344.9" r="4.4" fill="#e0e0e0"/>
<circle cx="219.1" cy="583.9" r="4.4" fill="#e0e0e0"/>
<circle cx="329.6" cy="411.7" r="4.4" fill="#e0e0e0"/>
<circle cx="328.2" cy="265.7" r="4.4" fill="#e0e0e0"/>
<circle cx="159.7" cy="139.8" r="4.4" fill="#e0e0e0"/>
<circle cx="266.6" cy="653.1" r="4.4" fill="#e0e0e0"/>
<circle cx="496.5" cy="415.2" r="4.4" fill="#e0e0e0"/>
<circle cx="259.5" cy="667.5" r="4.4" fill="#e0e0e0"/>
<circle cx="283.1" cy="620.1" r="4.4" fill="#e0e0e0"/>
<circle cx="169.3" cy="584.5" r="4.4" fill="#e0e0e0"/>
<circle cx="446.9" cy="253.3" r="4.4" fill="#e0e0e0"/>
<circle cx="332.5" cy="260.4" r="4.4" fill="#e0e0e0"/>
<circle cx="283.0" cy="184.0" r="4.4" fill="#e0e0e0"/>
<circle cx="396.9" cy="228.0" r="4.4" fill="#e0e0e0"/>
<circle cx="495.5" cy="417.1" r="4.4" fill="#e0e0e0"/>
<circle cx="222.1" cy="644.8" r="4.4" fill="#e0e0e0"/>
<circle cx="328.0" cy="368.5" r="4.4" fill="#e0e0e0"/>
<circle cx="206.8" cy="664.7" r="4.4" fill="#e0e0e0"/>
<circle cx="156.5" cy="104.2" r="4.4" fill="#e0e0e0"/>
<circle cx="223.2" cy="186.9" r="4.4" fill="#e0e0e0"/>
<circle cx="403.3" cy="566.9" r="4.4" fill="#e0e0e0"/>
<circle cx="349.4" cy="448.7" r="4.4" fill="#e0e0e0"/>
<circle cx="549.9" cy="387.3" r="4.4" fill="#e0e0e0"/>
<circle cx="271.3" cy="705.4" r="4.4" fill="#e0e0e0"/>
<circle cx="492.7" cy="384.1" r="4.4" fill="#e0e0e0"/>
<circle cx="384.6" cy="218.7" r="4.4" fill="#e0e0e0"/>
<circle cx="495.3" cy="404.1" r="4.4" fill="#e0e0e0"/>
<circle cx="222.1" cy="565.9" r="4.4" fill="#e0e0e0"/>
<circle cx="357.9" cy="226.4" r="4.4" fill="#e0e0e0"/>
<circle cx="344.4" cy="347.3" r="4.4" fill="#e0e0e0"/>
<circle cx="496.3" cy="393.0" r="4.4" fill="#e0e0e0"/>
<circle cx="489.8" cy="327.3" r="4.4" fill="#e0e0e0"/>
<circle cx="401.4" cy="533.3" r="4.4" fill="#e0e0e0"/>
<circle cx="219.2" cy="699.8" r="4.4" fill="#e0e0e0"/>
<circle cx="346.2" cy="351.0" r="4.4" fill="#e0e0e0"/>
<circle cx="314.7" cy="280.2" r="4.4" fill="#e0e0e0"/>
<circle cx="436.6" cy="273.1" r="4.4" fill="#e0e0e0"/>
<circle cx="491.3" cy="368.0" r="4.4" fill="#e0e0e0"/>
<circle cx="448.2" cy="252.2" r="4.4" fill="#e0e0e0"/>
<circle cx="400.7" cy="296.0" r="4.4" fill="#e0e0e0"/>
<circle cx="152.5" cy="78.9" r="4.4" fill="#e0e0e0"/>
<circle cx="542.8" cy="378.5" r="4.4" fill="#e0e0e0"/>
<circle cx="262.8" cy="683.7" r="4.4" fill="#e0e0e0"/>
<circle cx="309.8" cy="275.0" r="4.4" fill="#e0e0e0"/>
<circle cx="296.0" cy="247.5" r="4.4" fill="#e0e0e0"/>
<circle cx="178.6" cy="92.5" r="4.4" fill="#e0e0e0"/>
<circle cx="512.8" cy="384.8" r="4.4" fill="#e0e0e0"/>
<circle cx="489.6" cy="402.6" r="4.4" fill="#e0e0e0"/>
<circle cx="338.3" cy="410.1" r="4.4" fill="#e0e0e0"/>
<circle cx="498.2" cy="434.3" r="4.4" fill="#e0e0e0"/>
<circle cx="497.5" cy="342.3" r="4.4" fill="#e0e0e0"/>
<circle cx="164.1" cy="136.7" r="4.4" fill="#e0e0e0"/>
<circle cx="200.2" cy="572.7" r="4.4" fill="#e0e0e0"/>
<circle cx="467.3" cy="274.4" r="4.4" fill="#e0e0e0"/>
<circle cx="471.3" cy="297.7" r="4.4" fill="#e0e0e0"/>
<circle cx="315.9" cy="398.4" r="4.4" fill="#e0e0e0"/>
<circle cx="302.9" cy="268.1" r="4.4" fill="#e0e0e0"/>
<circle cx="310.0" cy="623.0" r="4.4" fill="#e0e0e0"/>
<circle cx="446.5" cy="308.5" r="4.4" fill="#e0e0e0"/>
<circle cx="522.1" cy="409.3" r="4.4" fill="#e0e0e0"/>
<circle cx="299.6" cy="253.0" r="4.4" fill="#e0e0e0"/>
<circle cx="525.1" cy="417.5" r="4.4" fill="#e0e0e0"/>
<circle cx="351.4" cy="413.7" r="4.4" fill="#e0e0e0"/>
<circle cx="513.9" cy="402.3" r="4.4" fill="#e0e0e0"/>
<circle cx="162.3" cy="108.7" r="4.4" fill="#e0e0e0"/>
<circle cx="373.6" cy="219.9" r="4.4" fill="#e0e0e0"/>
<circle cx="535.2" cy="353.7" r="4.4" fill="#e0e0e0"/>
<circle cx="267.0" cy="765.5" r="4.4" fill="#e0e0e0"/>
<circle cx="239.1" cy="565.1" r="4.4" fill="#e0e0e0"/>
<circle cx="478.0" cy="310.5" r="4.4" fill="#e0e0e0"/>
<circle cx="395.4" cy="520.2" r="4.4" fill="#e0e0e0"/>
<circle cx="491.0" cy="409.7" r="4.4" fill="#e0e0e0"/>
<circle cx="330.9" cy="350.2" r="4.4" fill="#e0e0e0"/>
<circle cx="201.8" cy="90.0" r="4.4" fill="#e0e0e0"/>
<circle cx="301.1" cy="267.1" r="4.4" fill="#e0e0e0"/>
<circle cx="514.6" cy="406.9" r="4.4" fill="#e0e0e0"/>
<circle cx="482.8" cy="329.4" r="4.4" fill="#e0e0e0"/>
<circle cx="250.2" cy="603.9" r="4.4" fill="#e0e0e0"/>
<circle cx="498.8" cy="398.6" r="4.4" fill="#e0e0e0"/>
<circle cx="346.1" cy="384.0" r="4.4" fill="#e0e0e0"/>
<circle cx="470.4" cy="306.9" r="4.4" fill="#e0e0e0"/>
<circle cx="468.2" cy="303.8" r="4.4" fill="#e0e0e0"/>
<circle cx="538.4" cy="418.3" r="4.4" fill="#e0e0e0"/>
<circle cx="168.2" cy="103.7" r="4.4" fill="#e0e0e0"/>
<circle cx="345.9" cy="352.1" r="4.4" fill="#e0e0e0"/>
<circle cx="450.9" cy="241.6" r="4.4" fill="#e0e0e0"/>
<circle cx="235.7" cy="139.5" r="4.4" fill="#e0e0e0"/>
<circle cx="351.3" cy="378.6" r="4.4" fill="#e0e0e0"/>
<circle cx="260.2" cy="813.0" r="4.4" fill="#e0e0e0"/>
<circle cx="408.0" cy="579.2" r="4.4" fill="#e0e0e0"/>
<circle cx="225.6" cy="609.6" r="4.4" fill="#e0e0e0"/>
<circle cx="262.2" cy="829.3" r="4.4" fill="#e0e0e0"/>
<circle cx="495.9" cy="386.7" r="4.4" fill="#e0e0e0"/>
<circle cx="333.1" cy="291.2" r="4.4" fill="#e0e0e0"/>
<circle cx="164.4" cy="147.8" r="4.4" fill="#e0e0e0"/>
<circle cx="311.8" cy="268.5" r="4.4" fill="#e0e0e0"/>
<circle cx="443.8" cy="308.6" r="4.4" fill="#e0e0e0"/>
<circle cx="495.8" cy="422.9" r="4.4" fill="#e0e0e0"/>
<circle cx="266.4" cy="820.1" r="4.4" fill="#e0e0e0"/>
<circle cx="430.8" cy="552.2" r="4.4" fill="#e0e0e0"/>
<circle cx="158.2" cy="120.0" r="4.4" fill="#e0e0e0"/>
<circle cx="296.7" cy="621.5" r="4.4" fill="#e0e0e0"/>
<circle cx="311.2" cy="250.6" r="4.4" fill="#e0e0e0"/>
<circle cx="262.5" cy="641.8" r="4.4" fill="#e0e0e0"/>
<circle cx="546.4" cy="387.2" r="4.4" fill="#e0e0e0"/>
<circle cx="243.9" cy="691.8" r="4.4" fill="#e0e0e0"/>
<circle cx="445.5" cy="283.2" r="4.4" fill="#e0e0e0"/>
<circle cx="266.3" cy="671.7" r="4.4" fill="#e0e0e0"/>
<circle cx="229.8" cy="575.3" r="4.4" fill="#e0e0e0"/>
<circle cx="503.7" cy="383.3" r="4.4" fill="#e0e0e0"/>
<circle cx="496.1" cy="339.7" r="4.4" fill="#e0e0e0"/>
<circle cx="520.1" cy="429.9" r="4.4" fill="#e0e0e0"/>
<circle cx="276.1" cy="686.8" r="4.4" fill="#e0e0e0"/>
<circle cx="255.6" cy="754.0" r="4.4" fill="#e0e0e0"/>
<circle cx="210.8" cy="53.9" r="4.4" fill="#e0e0e0"/>
<circle cx="330.3" cy="254.5" r="4.4" fill="#e0e0e0"/>
<circle cx="191.3" cy="157.7" r="4.4" fill="#e0e0e0"/>
<circle cx="314.7" cy="293.7" r="4.4" fill="#e0e0e0"/>
<circle cx="154.2" cy="95.2" r="4.4" fill="#e0e0e0"/>
<circle cx="489.8" cy="424.7" r="4.4" fill="#e0e0e0"/>
<circle cx="180.1" cy="159.4" r="4.4" fill="#e0e0e0"/>
<circle cx="414.2" cy="550.8" r="4.4" fill="#e0e0e0"/>
<circle cx="350.3" cy="352.2" r="4.4" fill="#e0e0e0"/>
<circle cx="168.7" cy="174.2" r="4.4" fill="#e0e0e0"/>
<circle cx="316.9" cy="244.8" r="4.4" fill="#e0e0e0"/>
<circle cx="405.8" cy="588.4" r="4.4" fill="#e0e0e0"/>
<circle cx="351.0" cy="229.4" r="4.4" fill="#e0e0e0"/>
<circle cx="315.2" cy="384.3" r="4.4" fill="#e0e0e0"/>
<circle cx="224.4" cy="611.6" r="4.4" fill="#e0e0e0"/>
<circle cx="302.2" cy="256.9" r="4.4" fill="#e0e0e0"/>
<circle cx="436.2" cy="223.1" r="4.4" fill="#e0e0e0"/>
<circle cx="543.0" cy="412.4" r="4.4" fill="#e0e0e0"/>
<circle cx="453.4" cy="330.5" r="4.4" fill="#e0e0e0"/>
<circle cx="391.6" cy="228.0" r="4.4" fill="#e0e0e0"/>
<circle cx="356.9" cy="465.4" r="4.4" fill="#e0e0e0"/>
<circle cx="222.3" cy="657.6" r="4.4" fill="#e0e0e0"/>
<circle cx="424.2" cy="245.7" r="4.4" fill="#e0e0e0"/>
<circle cx="317.4" cy="279.2" r="4.4" fill="#e0e0e0"/>
<circle cx="394.5" cy="539.9" r="4.4" fill="#e0e0e0"/>
<circle cx="178.9" cy="157.6" r="4.4" fill="#e0e0e0"/>
<circle cx="425.3" cy="250.4" r="4.4" fill="#e0e0e0"/>
<circle cx="540.3" cy="408.1" r="4.4" fill="#e0e0e0"/>
<circle cx="208.6" cy="706.4" r="4.4" fill="#e0e0e0"/>
<circle cx="491.3" cy="461.6" r="4.4" fill="#e0e0e0"/>
<circle cx="325.2" cy="232.7" r="4.4" fill="#e0e0e0"/>
<circle cx="225.0" cy="667.0" r="4.4" fill="#e0e0e0"/>
<circle cx="214.7" cy="732.9" r="4.4" fill="#e0e0e0"/>
<circle cx="311.6" cy="248.0" r="4.4" fill="#e0e0e0"/>
<circle cx="471.1" cy="322.3" r="4.4" fill="#e0e0e0"/>
<circle cx="206.4" cy="199.5" r="4.4" fill="#e0e0e0"/>
<circle cx="476.3" cy="331.4" r="4.4" fill="#e0e0e0"/>
<circle cx="414.0" cy="547.7" r="4.4" fill="#e0e0e0"/>
<circle cx="449.3" cy="232.5" r="4.4" fill="#e0e0e0"/>
<circle cx="259.1" cy="686.1" r="4.4" fill="#e0e0e0"/>
<circle cx="292.0" cy="199.0" r="4.4" fill="#e0e0e0"/>
<circle cx="199.3" cy="188.7" r="4.4" fill="#e0e0e0"/>
<circle cx="272.1" cy="743.7" r="4.4" fill="#e0e0e0"/>
<circle cx="245.5" cy="758.5" r="4.4" fill="#e0e0e0"/>
<circle cx="336.2" cy="263.7" r="4.4" fill="#e0e0e0"/>
<circle cx="233.8" cy="740.7" r="4.4" fill="#e0e0e0"/>
<circle cx="438.3" cy="293.0" r="4.4" fill="#e0e0e0"/>
<circle cx="326.0" cy="235.2" r="4.4" fill="#e0e0e0"/>
<circle cx="381.7" cy="222.8" r="4.4" fill="#e0e0e0"/>
<circle cx="316.2" cy="224.0" r="4.4" fill="#e0e0e0"/>
<circle cx="205.3" cy="571.5" r="4.4" fill="#e0e0e0"/>
<circle cx="493.6" cy="438.8" r="4.4" fill="#e0e0e0"/>
<circle cx="236.2" cy="607.8" r="4.4" fill="#e0e0e0"/>
<circle cx="322.5" cy="374.7" r="4.4" fill="#e0e0e0"/>
<circle cx="336.8" cy="286.4" r="4.4" fill="#e0e0e0"/>
<circle cx="337.3" cy="331.9" r="4.4" fill="#e0e0e0"/>
<circle cx="255.6" cy="652.7" r="4.4" fill="#e0e0e0"/>
<circle cx="397.6" cy="222.6" r="4.4" fill="#e0e0e0"/>
<circle cx="348.9" cy="460.5" r="4.4" fill="#e0e0e0"/>
<circle cx="189.9" cy="185.3" r="4.4" fill="#e0e0e0"/>
<circle cx="477.5" cy="334.1" r="4.4" fill="#e0e0e0"/>
<circle cx="265.1" cy="703.0" r="4.4" fill="#e0e0e0"/>
<circle cx="212.1" cy="115.7" r="4.4" fill="#e0e0e0"/>
<circle cx="262.7" cy="726.4" r="4.4" fill="#e0e0e0"/>
<circle cx="276.1" cy="737.6" r="4.4" fill="#e0e0e0"/>
<circle cx="273.7" cy="759.6" r="4.4" fill="#e0e0e0"/>
<circle cx="261.4" cy="711.9" r="4.4" fill="#e0e0e0"/>
<circle cx="316.7" cy="244.6" r="4.4" fill="#e0e0e0"/>
<circle cx="204.9" cy="699.7" r="4.4" fill="#e0e0e0"/>
<circle cx="443.9" cy="245.0" r="4.4" fill="#e0e0e0"/>
<circle cx="306.2" cy="272.5" r="4.4" fill="#e0e0e0"/>
<circle cx="359.2" cy="457.7" r="4.4" fill="#e0e0e0"/>
<circle cx="374.9" cy="217.7" r="4.4" fill="#e0e0e0"/>
<circle cx="467.4" cy="300.9" r="4.4" fill="#e0e0e0"/>
<circle cx="329.7" cy="230.1" r="4.4" fill="#e0e0e0"/>
<circle cx="506.0" cy="435.1" r="4.4" fill="#e0e0e0"/>
<circle cx="242.2" cy="626.0" r="4.4" fill="#e0e0e0"/>
<circle cx="318.3" cy="290.9" r="4.4" fill="#e0e0e0"/>
<circle cx="495.7" cy="419.3" r="4.4" fill="#e0e0e0"/>
<circle cx="341.0" cy="354.5" r="4.4" fill="#e0e0e0"/>
<circle cx="250.9" cy="758.0" r="4.4" fill="#e0e0e0"/>
<circle cx="452.8" cy="269.7" r="4.4" fill="#e0e0e0"/>
<circle cx="526.2" cy="343.1" r="4.4" fill="#e0e0e0"/>
<circle cx="332.4" cy="268.9" r="4.4" fill="#e0e0e0"/>
<circle cx="436.6" cy="250.4" r="4.4" fill="#e0e0e0"/>
<circle cx="493.3" cy="394.4" r="4.4" fill="#e0e0e0"/>
<circle cx="344.4" cy="403.7" r="4.4" fill="#e0e0e0"/>
<circle cx="277.4" cy="785.8" r="4.4" fill="#e0e0e0"/>
<circle cx="322.2" cy="228.1" r="4.4" fill="#e0e0e0"/>
<circle cx="325.6" cy="404.6" r="4.4" fill="#e0e0e0"/>
<circle cx="227.1" cy="678.3" r="4.4" fill="#e0e0e0"/>
<circle cx="331.9" cy="293.8" r="4.4" fill="#e0e0e0"/>
<circle cx="245.1" cy="549.1" r="4.4" fill="#e0e0e0"/>
<circle cx="237.1" cy="750.2" r="4.4" fill="#e0e0e0"/>
<circle cx="231.3" cy="644.8" r="4.4" fill="#e0e0e0"/>
<circle cx="414.9" cy="301.5" r="4.4" fill="#e0e0e0"/>
<circle cx="344.7" cy="379.2" r="4.4" fill="#e0e0e0"/>
<circle cx="383.9" cy="212.7" r="4.4" fill="#e0e0e0"/>
<circle cx="199.8" cy="668.7" r="4.4" fill="#e0e0e0"/>
<circle cx="349.0" cy="464.7" r="4.4" fill="#e0e0e0"/>
<circle cx="326.1" cy="378.2" r="4.4" fill="#e0e0e0"/>
<circle cx="278.7" cy="799.5" r="4.4" fill="#e0e0e0"/>
<circle cx="235.2" cy="710.3" r="4.4" fill="#e0e0e0"/>
<circle cx="276.8" cy="771.0" r="4.4" fill="#e0e0e0"/>
<circle cx="205.0" cy="579.8" r="4.4" fill="#e0e0e0"/>
<circle cx="411.9" cy="316.2" r="4.4" fill="#e0e0e0"/>
<circle cx="486.1" cy="360.0" r="4.4" fill="#e0e0e0"/>
<circle cx="306.0" cy="230.0" r="4.4" fill="#e0e0e0"/>
<circle cx="314.0" cy="268.1" r="4.4" fill="#e0e0e0"/>
<circle cx="153.7" cy="120.1" r="4.4" fill="#e0e0e0"/>
<circle cx="206.5" cy="594.9" r="4.4" fill="#e0e0e0"/>
<circle cx="453.4" cy="289.1" r="4.4" fill="#e0e0e0"/>
<circle cx="392.0" cy="226.8" r="4.4" fill="#e0e0e0"/>
<circle cx="229.6" cy="159.7" r="4.4" fill="#e0e0e0"/>
<circle cx="250.5" cy="671.5" r="4.4" fill="#e0e0e0"/>
<circle cx="487.3" cy="371.9" r="4.4" fill="#e0e0e0"/>
<circle cx="331.6" cy="252.6" r="4.4" fill="#e0e0e0"/>
<circle cx="348.0" cy="229.0" r="4.4" fill="#e0e0e0"/>
<circle cx="423.0" cy="554.1" r="4.4" fill="#e0e0e0"/>
<circle cx="249.7" cy="741.4" r="4.4" fill="#e0e0e0"/>
<circle cx="239.6" cy="750.2" r="4.4" fill="#e0e0e0"/>
<circle cx="235.3" cy="668.6" r="4.4" fill="#e0e0e0"/>
<circle cx="266.5" cy="805.7" r="4.4" fill="#e0e0e0"/>
<circle cx="404.2" cy="271.1" r="4.4" fill="#e0e0e0"/>
<circle cx="345.2" cy="404.4" r="4.4" fill="#e0e0e0"/>
<circle cx="338.6" cy="381.8" r="4.4" fill="#e0e0e0"/>
<circle cx="358.5" cy="370.0" r="4.4" fill="#e0e0e0"/>
<circle cx="400.9" cy="311.2" r="4.4" fill="#e0e0e0"/>
<circle cx="326.0" cy="384.1" r="4.4" fill="#e0e0e0"/>
<circle cx="198.6" cy="629.9" r="4.4" fill="#e0e0e0"/>
<circle cx="548.0" cy="373.9" r="4.4" fill="#e0e0e0"/>
<circle cx="233.9" cy="107.7" r="4.4" fill="#e0e0e0"/>
<circle cx="498.5" cy="360.9" r="4.4" fill="#e0e0e0"/>
<circle cx="489.5" cy="339.5" r="4.4" fill="#e0e0e0"/>
<circle cx="331.5" cy="365.1" r="4.4" fill="#e0e0e0"/>
<circle cx="230.8" cy="610.9" r="4.4" fill="#e0e0e0"/>
<circle cx="210.2" cy="628.3" r="4.4" fill="#e0e0e0"/>
<circle cx="512.5" cy="394.2" r="4.4" fill="#e0e0e0"/>
<circle cx="269.5" cy="819.8" r="4.4" fill="#e0e0e0"/>
<circle cx="377.3" cy="211.9" r="4.4" fill="#e0e0e0"/>
<circle cx="379.2" cy="256.4" r="4.4" fill="#e0e0e0"/>
<circle cx="205.0" cy="673.9" r="4.4" fill="#e0e0e0"/>
<circle cx="332.9" cy="295.7" r="4.4" fill="#e0e0e0"/>
<circle cx="541.3" cy="363.0" r="4.4" fill="#e0e0e0"/>
<circle cx="243.1" cy="670.8" r="4.4" fill="#e0e0e0"/>
<circle cx="401.8" cy="302.3" r="4.4" fill="#e0e0e0"/>
<circle cx="232.7" cy="165.4" r="4.4" fill="#e0e0e0"/>
<circle cx="503.3" cy="439.2" r="4.4" fill="#e0e0e0"/>
<circle cx="244.9" cy="791.9" r="4.4" fill="#e0e0e0"/>
<circle cx="354.6" cy="219.8" r="4.4" fill="#e0e0e0"/>
<circle cx="383.2" cy="264.3" r="4.4" fill="#e0e0e0"/>
<circle cx="334.9" cy="285.0" r="4.4" fill="#e0e0e0"/>
<circle cx="444.3" cy="222.7" r="4.4" fill="#e0e0e0"/>
<circle cx="243.4" cy="688.7" r="4.4" fill="#e0e0e0"/>
<circle cx="320.2" cy="362.8" r="4.4" fill="#e0e0e0"/>
<circle cx="496.5" cy="336.9" r="4.4" fill="#e0e0e0"/>
<circle cx="482.5" cy="408.4" r="4.4" fill="#e0e0e0"/>
<circle cx="212.5" cy="696.8" r="4.4" fill="#e0e0e0"/>
<circle cx="283.3" cy="183.3" r="4.4" fill="#e0e0e0"/>
<circle cx="223.4" cy="747.4" r="4.4" fill="#e0e0e0"/>
<circle cx="408.5" cy="298.6" r="4.4" fill="#e0e0e0"/>
<circle cx="274.1" cy="791.3" r="4.4" fill="#e0e0e0"/>
<circle cx="218.4" cy="695.8" r="4.4" fill="#e0e0e0"/>
<circle cx="421.9" cy="548.5" r="4.4" fill="#e0e0e0"/>
<circle cx="411.9" cy="525.5" r="4.4" fill="#e0e0e0"/>
<circle cx="315.4" cy="265.8" r="4.4" fill="#e0e0e0"/>
<circle cx="265.1" cy="758.1" r="4.4" fill="#e0e0e0"/>
<circle cx="268.1" cy="673.5" r="4.4" fill="#e0e0e0"/>
<circle cx="394.3" cy="232.3" r="4.4" fill="#e0e0e0"/>
<circle cx="263.4" cy="755.1" r="4.4" fill="#e0e0e0"/>
<circle cx="410.9" cy="530.5" r="4.4" fill="#e0e0e0"/>
<circle cx="305.1" cy="246.5" r="4.4" fill="#e0e0e0"/>
<circle cx="546.8" cy="404.0" r="4.4" fill="#e0e0e0"/>
<circle cx="310.3" cy="231.1" r="4.4" fill="#e0e0e0"/>
<circle cx="509.3" cy="356.8" r="4.4" fill="#e0e0e0"/>
<circle cx="265.7" cy="627.2" r="4.4" fill="#e0e0e0"/>
<circle cx="361.9" cy="213.1" r="4.4" fill="#e0e0e0"/>
<circle cx="206.5" cy="184.5" r="4.4" fill="#e0e0e0"/>
<circle cx="317.3" cy="390.6" r="4.4" fill="#e0e0e0"/>
<circle cx="169.0" cy="609.0" r="4.4" fill="#e0e0e0"/>
<circle cx="203.6" cy="673.9" r="4.4" fill="#e0e0e0"/>
<circle cx="400.8" cy="570.3" r="4.4" fill="#e0e0e0"/>
<circle cx="323.9" cy="409.4" r="4.4" fill="#e0e0e0"/>
<circle cx="312.7" cy="249.4" r="4.4" fill="#e0e0e0"/>
<circle cx="323.5" cy="278.6" r="4.4" fill="#e0e0e0"/>
<circle cx="217.1" cy="706.4" r="4.4" fill="#e0e0e0"/>
<circle cx="318.4" cy="380.5" r="4.4" fill="#e0e0e0"/>
<circle cx="524.0" cy="410.4" r="4.4" fill="#e0e0e0"/>
<circle cx="407.6" cy="536.9" r="4.4" fill="#e0e0e0"/>
<circle cx="253.7" cy="703.6" r="4.4" fill="#e0e0e0"/>
<circle cx="308.3" cy="309.2" r="4.4" fill="#e0e0e0"/>
<circle cx="264.1" cy="709.7" r="4.4" fill="#e0e0e0"/>
<circle cx="379.5" cy="247.4" r="4.4" fill="#e0e0e0"/>
<circle cx="325.7" cy="236.5" r="4.4" fill="#e0e0e0"/>
<circle cx="455.3" cy="328.7" r="4.4" fill="#e0e0e0"/>
<circle cx="354.2" cy="465.1" r="4.4" fill="#e0e0e0"/>
<circle cx="202.4" cy="80.5" r="4.4" fill="#e0e0e0"/>
<circle cx="199.9" cy="649.6" r="4.4" fill="#e0e0e0"/>
<circle cx="536.1" cy="365.4" r="4.4" fill="#e0e0e0"/>
<circle cx="484.9" cy="357.1" r="4.4" fill="#e0e0e0"/>
<circle cx="382.1" cy="252.7" r="4.4" fill="#e0e0e0"/>
<circle cx="506.4" cy="377.4" r="4.4" fill="#e0e0e0"/>
<circle cx="446.4" cy="247.4" r="4.4" fill="#e0e0e0"/>
<circle cx="374.2" cy="251.1" r="4.4" fill="#e0e0e0"/>
<circle cx="354.7" cy="380.0" r="4.4" fill="#e0e0e0"/>
<circle cx="387.8" cy="205.3" r="4.4" fill="#e0e0e0"/>
<circle cx="426.3" cy="252.4" r="4.4" fill="#e0e0e0"/>
<circle cx="532.2" cy="391.8" r="4.4" fill="#e0e0e0"/>
<circle cx="171.4" cy="585.8" r="4.4" fill="#e0e0e0"/>
<circle cx="489.4" cy="338.2" r="4.4" fill="#e0e0e0"/>
<circle cx="233.9" cy="706.3" r="4.4" fill="#e0e0e0"/>
<circle cx="270.4" cy="651.1" r="4.4" fill="#e0e0e0"/>
<circle cx="477.6" cy="329.8" r="4.4" fill="#e0e0e0"/>
<circle cx="310.3" cy="399.3" r="4.4" fill="#e0e0e0"/>
<circle cx="223.9" cy="655.5" r="4.4" fill="#e0e0e0"/>
<circle cx="257.7" cy="621.3" r="4.4" fill="#e0e0e0"/>
<circle cx="300.3" cy="270.4" r="4.4" fill="#e0e0e0"/>
<circle cx="235.1" cy="743.1" r="4.4" fill="#e0e0e0"/>
<circle cx="194.1" cy="193.5" r="4.4" fill="#e0e0e0"/>
<circle cx="535.6" cy="417.4" r="4.4" fill="#e0e0e0"/>
<circle cx="223.0" cy="173.1" r="4.4" fill="#e0e0e0"/>
<circle cx="266.0" cy="792.1" r="4.4" fill="#e0e0e0"/>
<circle cx="351.0" cy="362.3" r="4.4" fill="#e0e0e0"/>
<circle cx="355.7" cy="379.7" r="4.4" fill="#e0e0e0"/>
<circle cx="230.5" cy="688.4" r="4.4" fill="#e0e0e0"/>
<circle cx="340.1" cy="340.1" r="4.4" fill="#e0e0e0"/>
<circle cx="205.5" cy="178.8" r="4.4" fill="#e0e0e0"/>
<circle cx="320.1" cy="228.2" r="4.4" fill="#e0e0e0"/>
<circle cx="368.3" cy="213.9" r="4.4" fill="#e0e0e0"/>
<circle cx="268.3" cy="269.0" r="4.4" fill="#e0e0e0"/>
<circle cx="488.3" cy="435.0" r="4.4" fill="#e0e0e0"/>
<circle cx="421.3" cy="249.6" r="4.4" fill="#e0e0e0"/>
<circle cx="179.6" cy="102.9" r="4.4" fill="#e0e0e0"/>
<circle cx="316.7" cy="396.0" r="4.4" fill="#e0e0e0"/>
<circle cx="450.2" cy="225.0" r="4.4" fill="#e0e0e0"/>
<circle cx="226.5" cy="554.6" r="4.4" fill="#e0e0e0"/>
<circle cx="194.0" cy="618.8" r="4.4" fill="#e0e0e0"/>
<circle cx="328.7" cy="325.5" r="4.4" fill="#e0e0e0"/>
<circle cx="350.7" cy="387.5" r="4.4" fill="#e0e0e0"/>
<circle cx="324.3" cy="221.5" r="4.4" fill="#e0e0e0"/>
<circle cx="195.3" cy="655.3" r="4.4" fill="#e0e0e0"/>
<circle cx="182.9" cy="167.3" r="4.4" fill="#e0e0e0"/>
<circle cx="374.6" cy="215.2" r="4.4" fill="#e0e0e0"/>
<circle cx="265.0" cy="648.6" r="4.4" fill="#e0e0e0"/>
<circle cx="330.1" cy="275.8" r="4.4" fill="#e0e0e0"/>
<circle cx="418.5" cy="296.8" r="4.4" fill="#e0e0e0"/>
<circle cx="242.6" cy="771.5" r="4.4" fill="#e0e0e0"/>
<circle cx="242.1" cy="617.1" r="4.4" fill="#e0e0e0"/>
<circle cx="215.5" cy="198.1" r="4.4" fill="#e0e0e0"/>
<circle cx="402.5" cy="536.7" r="4.4" fill="#e0e0e0"/>
<circle cx="255.1" cy="601.8" r="4.4" fill="#e0e0e0"/>
<circle cx="362.8" cy="215.1" r="4.4" fill="#e0e0e0"/>
<circle cx="309.7" cy="220.2" r="4.4" fill="#e0e0e0"/>
<circle cx="123.3" cy="571.7" r="4.4" fill="#e0e0e0"/>
<circle cx="331.7" cy="304.0" r="4.4" fill="#e0e0e0"/>
<circle cx="468.1" cy="310.6" r="4.4" fill="#e0e0e0"/>
<circle cx="458.3" cy="272.1" r="4.4" fill="#e0e0e0"/>
<circle cx="526.3" cy="432.9" r="4.4" fill="#e0e0e0"/>
<circle cx="259.2" cy="700.2" r="4.4" fill="#e0e0e0"/>
<circle cx="335.1" cy="386.0" r="4.4" fill="#e0e0e0"/>
<circle cx="205.7" cy="619.0" r="4.4" fill="#e0e0e0"/>
<circle cx="263.1" cy="616.9" r="4.4" fill="#e0e0e0"/>
<circle cx="261.2" cy="765.5" r="4.4" fill="#e0e0e0"/>
<circle cx="237.2" cy="581.5" r="4.4" fill="#e0e0e0"/>
<circle cx="332.7" cy="272.2" r="4.4" fill="#e0e0e0"/>
<circle cx="219.8" cy="663.2" r="4.4" fill="#e0e0e0"/>
<circle cx="517.4" cy="400.9" r="4.4" fill="#e0e0e0"/>
<circle cx="498.6" cy="372.5" r="4.4" fill="#e0e0e0"/>
<circle cx="342.9" cy="328.1" r="4.4" fill="#e0e0e0"/>
<circle cx="351.4" cy="347.4" r="4.4" fill="#e0e0e0"/>
<circle cx="270.5" cy="738.3" r="4.4" fill="#e0e0e0"/>
<circle cx="332.3" cy="320.7" r="4.4" fill="#e0e0e0"/>
<circle cx="209.4" cy="622.4" r="4.4" fill="#e0e0e0"/>
<circle cx="345.6" cy="335.3" r="4.4" fill="#e0e0e0"/>
<circle cx="460.9" cy="246.2" r="4.4" fill="#e0e0e0"/>
<circle cx="360.3" cy="218.2" r="4.4" fill="#e0e0e0"/>
<circle cx="333.7" cy="401.1" r="4.4" fill="#e0e0e0"/>
<circle cx="159.6" cy="126.8" r="4.4" fill="#e0e0e0"/>
<circle cx="505.7" cy="361.8" r="4.4" fill="#e0e0e0"/>
<circle cx="236.2" cy="696.5" r="4.4" fill="#e0e0e0"/>
<circle cx="372.7" cy="219.5" r="4.4" fill="#e0e0e0"/>
<circle cx="530.4" cy="381.3" r="4.4" fill="#e0e0e0"/>
<circle cx="542.7" cy="378.3" r="4.4" fill="#e0e0e0"/>
<circle cx="547.7" cy="399.2" r="4.4" fill="#e0e0e0"/>
<circle cx="326.3" cy="397.8" r="4.4" fill="#e0e0e0"/>
<circle cx="234.7" cy="686.1" r="4.4" fill="#e0e0e0"/>
<circle cx="409.5" cy="267.4" r="4.4" fill="#e0e0e0"/>
<circle cx="198.9" cy="605.7" r="4.4" fill="#e0e0e0"/>
<circle cx="306.3" cy="283.6" r="4.4" fill="#e0e0e0"/>
<circle cx="229.8" cy="683.0" r="4.4" fill="#e0e0e0"/>
<circle cx="324.1" cy="280.5" r="4.4" fill="#e0e0e0"/>
<circle cx="322.5" cy="377.8" r="4.4" fill="#e0e0e0"/>
<circle cx="486.1" cy="434.1" r="4.4" fill="#e0e0e0"/>
<circle cx="260.4" cy="828.6" r="4.4" fill="#e0e0e0"/>
<circle cx="313.8" cy="289.5" r="4.4" fill="#e0e0e0"/>
<circle cx="244.2" cy="743.7" r="4.4" fill="#e0e0e0"/>
<circle cx="201.5" cy="655.2" r="4.4" fill="#e0e0e0"/>
<circle cx="529.1" cy="428.7" r="4.4" fill="#e0e0e0"/>
<circle cx="487.6" cy="377.8" r="4.4" fill="#e0e0e0"/>
<circle cx="188.9" cy="648.6" r="4.4" fill="#e0e0e0"/>
<circle cx="270.3" cy="685.7" r="4.4" fill="#e0e0e0"/>
<circle cx="318.1" cy="371.9" r="4.4" fill="#e0e0e0"/>
<circle cx="469.1" cy="311.1" r="4.4" fill="#e0e0e0"/>
<circle cx="252.8" cy="736.3" r="4.4" fill="#e0e0e0"/>
<circle cx="415.3" cy="314.7" r="4.4" fill="#e0e0e0"/>
<circle cx="524.6" cy="423.3" r="4.4" fill="#e0e0e0"/>
<circle cx="322.3" cy="257.2" r="4.4" fill="#e0e0e0"/>
<circle cx="492.3" cy="338.8" r="4.4" fill="#e0e0e0"/>
<circle cx="258.1" cy="755.3" r="4.4" fill="#e0e0e0"/>
<circle cx="340.0" cy="402.7" r="4.4" fill="#e0e0e0"/>
<circle cx="354.1" cy="226.0" r="4.4" fill="#e0e0e0"/>
<circle cx="449.5" cy="320.7" r="4.4" fill="#e0e0e0"/>
<circle cx="454.9" cy="240.5" r="4.4" fill="#e0e0e0"/>
<circle cx="230.3" cy="705.9" r="4.4" fill="#e0e0e0"/>
<circle cx="494.2" cy="393.4" r="4.4" fill="#e0e0e0"/>
<circle cx="410.1" cy="267.2" r="4.4" fill="#e0e0e0"/>
<circle cx="255.9" cy="764.7" r="4.4" fill="#e0e0e0"/>
<circle cx="514.1" cy="413.4" r="4.4" fill="#e0e0e0"/>
<circle cx="233.9" cy="635.1" r="4.4" fill="#e0e0e0"/>
<circle cx="210.8" cy="570.2" r="4.4" fill="#e0e0e0"/>
<circle cx="213.3" cy="701.2" r="4.4" fill="#e0e0e0"/>
<circle cx="256.1" cy="701.9" r="4.4" fill="#e0e0e0"/>
<circle cx="248.4" cy="746.4" r="4.4" fill="#e0e0e0"/>
<circle cx="237.2" cy="737.7" r="4.4" fill="#e0e0e0"/>
<circle cx="260.6" cy="712.5" r="4.4" fill="#e0e0e0"/>
<circle cx="371.6" cy="224.5" r="4.4" fill="#e0e0e0"/>
<circle cx="320.7" cy="404.2" r="4.4" fill="#e0e0e0"/>
<circle cx="469.6" cy="306.4" r="4.4" fill="#e0e0e0"/>
<circle cx="391.7" cy="214.8" r="4.4" fill="#e0e0e0"/>
<circle cx="498.7" cy="396.9" r="4.4" fill="#e0e0e0"/>
<circle cx="498.1" cy="432.9" r="4.4" fill="#e0e0e0"/>
<circle cx="303.9" cy="255.5" r="4.4" fill="#e0e0e0"/>
<circle cx="319.7" cy="641.2" r="4.4" fill="#e0e0e0"/>
<circle cx="480.1" cy="427.9" r="4.4" fill="#e0e0e0"/>
<circle cx="217.3" cy="68.2" r="4.4" fill="#e0e0e0"/>
<circle cx="281.7" cy="232.5" r="4.4" fill="#e0e0e0"/>
<circle cx="545.6" cy="395.1" r="4.4" fill="#e0e0e0"/>
<circle cx="330.8" cy="268.7" r="4.4" fill="#e0e0e0"/>
<circle cx="433.3" cy="224.5" r="4.4" fill="#e0e0e0"/>
<circle cx="544.5" cy="390.4" r="4.4" fill="#e0e0e0"/>
<circle cx="531.0" cy="363.1" r="4.4" fill="#e0e0e0"/>
<circle cx="355.8" cy="442.0" r="4.4" fill="#e0e0e0"/>
<circle cx="175.3" cy="194.9" r="4.4" fill="#e0e0e0"/>
<circle cx="207.1" cy="624.8" r="4.4" fill="#e0e0e0"/>
<circle cx="496.7" cy="485.3" r="4.4" fill="#e0e0e0"/>
<circle cx="211.3" cy="644.5" r="4.4" fill="#e0e0e0"/>
<circle cx="322.3" cy="266.4" r="4.4" fill="#e0e0e0"/>
<circle cx="491.8" cy="459.2" r="4.4" fill="#e0e0e0"/>
<circle cx="197.3" cy="632.7" r="4.4" fill="#e0e0e0"/>
<circle cx="299.8" cy="282.5" r="4.4" fill="#e0e0e0"/>
<circle cx="489.0" cy="424.9" r="4.4" fill="#e0e0e0"/>
<circle cx="246.3" cy="622.7" r="4.4" fill="#e0e0e0"/>
<circle cx="216.0" cy="84.0" r="4.4" fill="#e0e0e0"/>
<circle cx="247.4" cy="754.0" r="4.4" fill="#e0e0e0"/>
<circle cx="500.3" cy="362.7" r="4.4" fill="#e0e0e0"/>
<circle cx="222.7" cy="632.1" r="4.4" fill="#e0e0e0"/>
<circle cx="493.5" cy="382.6" r="4.4" fill="#e0e0e0"/>
<circle cx="375.3" cy="223.9" r="4.4" fill="#e0e0e0"/>
<circle cx="246.2" cy="747.1" r="4.4" fill="#e0e0e0"/>
<circle cx="225.1" cy="751.0" r="4.4" fill="#e0e0e0"/>
<circle cx="389.1" cy="232.7" r="4.4" fill="#e0e0e0"/>
<circle cx="510.0" cy="346.7" r="4.4" fill="#e0e0e0"/>
<circle cx="442.8" cy="243.6" r="4.4" fill="#e0e0e0"/>
<circle cx="256.5" cy="779.7" r="4.4" fill="#e0e0e0"/>
<circle cx="391.1" cy="231.5" r="4.4" fill="#e0e0e0"/>
<circle cx="498.0" cy="397.4" r="4.4" fill="#e0e0e0"/>
<circle cx="330.7" cy="239.0" r="4.4" fill="#e0e0e0"/>
<circle cx="402.0" cy="535.9" r="4.4" fill="#e0e0e0"/>
<circle cx="444.7" cy="249.9" r="4.4" fill="#e0e0e0"/>
<circle cx="224.9" cy="680.7" r="4.4" fill="#e0e0e0"/>
<circle cx="287.2" cy="254.0" r="4.4" fill="#e0e0e0"/>
<circle cx="536.7" cy="398.7" r="4.4" fill="#e0e0e0"/>
<circle cx="496.9" cy="405.7" r="4.4" fill="#e0e0e0"/>
<circle cx="522.5" cy="430.7" r="4.4" fill="#e0e0e0"/>
<circle cx="233.0" cy="656.0" r="4.4" fill="#e0e0e0"/>
<circle cx="207.0" cy="586.8" r="4.4" fill="#e0e0e0"/>
<circle cx="324.2" cy="242.9" r="4.4" fill="#e0e0e0"/>
<circle cx="215.8" cy="651.5" r="4.4" fill="#e0e0e0"/>
<circle cx="528.7" cy="350.9" r="4.4" fill="#e0e0e0"/>
<circle cx="220.0" cy="748.1" r="4.4" fill="#e0e0e0"/>
<circle cx="330.2" cy="256.1" r="4.4" fill="#e0e0e0"/>
<circle cx="448.2" cy="234.8" r="4.4" fill="#e0e0e0"/>
<circle cx="266.3" cy="721.4" r="4.4" fill="#e0e0e0"/>
<circle cx="161.0" cy="94.7" r="4.4" fill="#e0e0e0"/>
<circle cx="522.3" cy="435.3" r="4.4" fill="#e0e0e0"/>
<circle cx="349.3" cy="425.1" r="4.4" fill="#e0e0e0"/>
<circle cx="407.1" cy="531.9" r="4.4" fill="#e0e0e0"/>
<circle cx="221.1" cy="130.5" r="4.4" fill="#e0e0e0"/>
<circle cx="537.2" cy="383.2" r="4.4" fill="#e0e0e0"/>
<circle cx="516.1" cy="377.6" r="4.4" fill="#e0e0e0"/>
<circle cx="209.7" cy="676.3" r="4.4" fill="#e0e0e0"/>
<circle cx="512.3" cy="386.6" r="4.4" fill="#e0e0e0"/>
<circle cx="338.3" cy="604.2" r="4.4" fill="#e0e0e0"/>
<circle cx="366.8" cy="221.4" r="4.4" fill="#e0e0e0"/>
<circle cx="403.8" cy="519.6" r="4.4" fill="#e0e0e0"/>
<circle cx="469.0" cy="288.5" r="4.4" fill="#e0e0e0"/>
<circle cx="331.7" cy="386.6" r="4.4" fill="#e0e0e0"/>
<circle cx="328.1" cy="321.3" r="4.4" fill="#e0e0e0"/>
<circle cx="238.9" cy="548.9" r="4.4" fill="#e0e0e0"/>
<circle cx="424.1" cy="247.3" r="4.4" fill="#e0e0e0"/>
<circle cx="397.9" cy="518.0" r="4.4" fill="#e0e0e0"/>
<circle cx="403.8" cy="590.6" r="4.4" fill="#e0e0e0"/>
<circle cx="461.4" cy="238.2" r="4.4" fill="#e0e0e0"/>
<circle cx="388.9" cy="209.1" r="4.4" fill="#e0e0e0"/>
<circle cx="544.5" cy="401.2" r="4.4" fill="#e0e0e0"/>
<circle cx="323.2" cy="262.9" r="4.4" fill="#e0e0e0"/>
<circle cx="217.8" cy="171.2" r="4.4" fill="#e0e0e0"/>
<circle cx="162.7" cy="98.6" r="4.4" fill="#e0e0e0"/>
<circle cx="425.8" cy="240.4" r="4.4" fill="#e0e0e0"/>
<circle cx="403.1" cy="599.7" r="4.4" fill="#e0e0e0"/>
<circle cx="514.7" cy="348.8" r="4.4" fill="#e0e0e0"/>
<circle cx="304.6" cy="261.0" r="4.4" fill="#e0e0e0"/>
<circle cx="296.7" cy="212.5" r="4.4" fill="#e0e0e0"/>
<circle cx="331.1" cy="280.0" r="4.4" fill="#e0e0e0"/>
<circle cx="520.1" cy="414.8" r="4.4" fill="#e0e0e0"/>
<circle cx="168.2" cy="128.4" r="4.4" fill="#e0e0e0"/>
<circle cx="533.5" cy="422.4" r="4.4" fill="#e0e0e0"/>
<circle cx="318.3" cy="247.4" r="4.4" fill="#e0e0e0"/>
<circle cx="500.1" cy="431.8" r="4.4" fill="#e0e0e0"/>
<circle cx="526.3" cy="412.6" r="4.4" fill="#e0e0e0"/>
<circle cx="501.6" cy="399.6" r="4.4" fill="#e0e0e0"/>
<circle cx="223.3" cy="609.0" r="4.4" fill="#e0e0e0"/>
<circle cx="470.4" cy="281.7" r="4.4" fill="#e0e0e0"/>
<circle cx="408.8" cy="524.4" r="4.4" fill="#e0e0e0"/>
<circle cx="499.1" cy="478.7" r="4.4" fill="#e0e0e0"/>
<circle cx="343.5" cy="339.3" r="4.4" fill="#e0e0e0"/>
<circle cx="523.9" cy="372.5" r="4.4" fill="#e0e0e0"/>
<circle cx="168.0" cy="114.5" r="4.4" fill="#e0e0e0"/>
<circle cx="256.0" cy="671.3" r="4.4" fill="#e0e0e0"/>
<circle cx="357.0" cy="442.2" r="4.4" fill="#e0e0e0"/>
<circle cx="222.0" cy="584.2" r="4.4" fill="#e0e0e0"/>
<circle cx="349.1" cy="349.6" r="4.4" fill="#e0e0e0"/>
<circle cx="339.6" cy="317.6" r="4.4" fill="#e0e0e0"/>
<circle cx="253.3" cy="665.2" r="4.4" fill="#e0e0e0"/>
<circle cx="276.6" cy="770.5" r="4.4" fill="#e0e0e0"/>
<circle cx="250.1" cy="749.5" r="4.4" fill="#e0e0e0"/>
<circle cx="168.3" cy="610.0" r="4.4" fill="#e0e0e0"/>
<circle cx="492.7" cy="426.4" r="4.4" fill="#e0e0e0"/>
<circle cx="113.0" cy="536.0" r="4.4" fill="#e0e0e0"/>
<circle cx="327.8" cy="247.5" r="4.4" fill="#e0e0e0"/>
<circle cx="374.3" cy="209.5" r="4.4" fill="#e0e0e0"/>
<circle cx="420.1" cy="324.2" r="4.4" fill="#e0e0e0"/>
<circle cx="387.1" cy="223.3" r="4.4" fill="#e0e0e0"/>
<circle cx="327.1" cy="279.3" r="4.4" fill="#e0e0e0"/>
<circle cx="244.0" cy="688.0" r="4.4" fill="#e0e0e0"/>
<circle cx="328.7" cy="378.8" r="4.4" fill="#e0e0e0"/>
<circle cx="355.3" cy="363.5" r="4.4" fill="#e0e0e0"/>
<circle cx="189.1" cy="127.1" r="4.4" fill="#e0e0e0"/>
<circle cx="405.9" cy="605.9" r="4.4" fill="#e0e0e0"/>
<circle cx="206.7" cy="680.3" r="4.4" fill="#e0e0e0"/>
<circle cx="348.3" cy="437.0" r="4.4" fill="#e0e0e0"/>
<circle cx="470.1" cy="298.5" r="4.4" fill="#e0e0e0"/>
<circle cx="443.6" cy="253.9" r="4.4" fill="#e0e0e0"/>
<circle cx="149.1" cy="101.2" r="4.4" fill="#e0e0e0"/>
<circle cx="212.0" cy="687.6" r="4.4" fill="#e0e0e0"/>
<circle cx="254.5" cy="691.9" r="4.4" fill="#e0e0e0"/>
<circle cx="335.5" cy="282.6" r="4.4" fill="#e0e0e0"/>
<circle cx="315.3" cy="371.4" r="4.4" fill="#e0e0e0"/>
<circle cx="369.2" cy="215.6" r="4.4" fill="#e0e0e0"/>
<circle cx="402.2" cy="593.0" r="4.4" fill="#e0e0e0"/>
<circle cx="122.5" cy="574.0" r="4.4" fill="#e0e0e0"/>
<circle cx="365.3" cy="216.4" r="4.4" fill="#e0e0e0"/>
<circle cx="253.8" cy="749.6" r="4.4" fill="#e0e0e0"/>
<circle cx="275.0" cy="811.3" r="4.4" fill="#e0e0e0"/>
<circle cx="268.7" cy="690.5" r="4.4" fill="#e0e0e0"/>
<circle cx="120.8" cy="626.7" r="4.4" fill="#e0e0e0"/>
<circle cx="274.9" cy="754.6" r="4.4" fill="#e0e0e0"/>
<circle cx="240.2" cy="676.3" r="4.4" fill="#e0e0e0"/>
<circle cx="392.4" cy="222.5" r="4.4" fill="#e0e0e0"/>
<circle cx="351.8" cy="218.6" r="4.4" fill="#e0e0e0"/>
<circle cx="314.9" cy="247.8" r="4.4" fill="#e0e0e0"/>
<circle cx="273.4" cy="763.5" r="4.4" fill="#e0e0e0"/>
<circle cx="427.9" cy="283.9" r="4.4" fill="#e0e0e0"/>
<circle cx="334.6" cy="253.6" r="4.4" fill="#e0e0e0"/>
<circle cx="311.9" cy="290.5" r="4.4" fill="#e0e0e0"/>
<circle cx="311.6" cy="225.8" r="4.4" fill="#e0e0e0"/>
<circle cx="305.3" cy="263.7" r="4.4" fill="#e0e0e0"/>
<circle cx="406.9" cy="522.0" r="4.4" fill="#e0e0e0"/>
<circle cx="387.0" cy="230.5" r="4.4" fill="#e0e0e0"/>
<circle cx="395.2" cy="222.3" r="4.4" fill="#e0e0e0"/>
<circle cx="540.0" cy="392.6" r="4.4" fill="#e0e0e0"/>
<circle cx="209.6" cy="593.2" r="4.4" fill="#e0e0e0"/>
<circle cx="407.9" cy="566.8" r="4.4" fill="#e0e0e0"/>
<circle cx="436.7" cy="220.9" r="4.4" fill="#e0e0e0"/>
<circle cx="251.8" cy="739.8" r="4.4" fill="#e0e0e0"/>
<circle cx="233.0" cy="761.2" r="4.4" fill="#e0e0e0"/>
<circle cx="549.2" cy="389.5" r="4.4" fill="#e0e0e0"/>
<circle cx="498.4" cy="350.5" r="4.4" fill="#e0e0e0"/>
<circle cx="319.1" cy="232.3" r="4.4" fill="#e0e0e0"/>
<circle cx="235.2" cy="598.3" r="4.4" fill="#e0e0e0"/>
<circle cx="218.0" cy="687.5" r="4.4" fill="#e0e0e0"/>
<circle cx="339.9" cy="624.6" r="4.4" fill="#e0e0e0"/>
<circle cx="429.8" cy="246.4" r="4.4" fill="#e0e0e0"/>
<circle cx="310.5" cy="293.2" r="4.4" fill="#e0e0e0"/>
<circle cx="508.3" cy="366.6" r="4.4" fill="#e0e0e0"/>
<circle cx="471.6" cy="321.9" r="4.4" fill="#e0e0e0"/>
<circle cx="276.6" cy="690.4" r="4.4" fill="#e0e0e0"/>
<circle cx="494.9" cy="348.5" r="4.4" fill="#e0e0e0"/>
<circle cx="544.9" cy="400.7" r="4.4" fill="#e0e0e0"/>
<circle cx="513.7" cy="363.1" r="4.4" fill="#e0e0e0"/>
<circle cx="498.4" cy="468.9" r="4.4" fill="#e0e0e0"/>
<circle cx="254.6" cy="733.1" r="4.4" fill="#e0e0e0"/>
<circle cx="368.4" cy="219.6" r="4.4" fill="#e0e0e0"/>
<circle cx="480.4" cy="424.0" r="4.4" fill="#e0e0e0"/>
<circle cx="382.0" cy="537.8" r="4.4" fill="#e0e0e0"/>
<circle cx="330.9" cy="347.6" r="4.4" fill="#e0e0e0"/>
<circle cx="492.6" cy="444.6" r="4.4" fill="#e0e0e0"/>
<circle cx="350.2" cy="446.8" r="4.4" fill="#e0e0e0"/>
<circle cx="423.1" cy="237.9" r="4.4" fill="#e0e0e0"/>
<circle cx="268.4" cy="650.8" r="4.4" fill="#e0e0e0"/>
<circle cx="494.5" cy="337.6" r="4.4" fill="#e0e0e0"/>
<circle cx="545.8" cy="369.2" r="4.4" fill="#e0e0e0"/>
<circle cx="514.8" cy="427.4" r="4.4" fill="#e0e0e0"/>
<circle cx="494.6" cy="378.3" r="4.4" fill="#e0e0e0"/>
<circle cx="345.3" cy="337.6" r="4.4" fill="#e0e0e0"/>
<circle cx="224.0" cy="599.6" r="4.4" fill="#e0e0e0"/>
<circle cx="499.9" cy="454.7" r="4.4" fill="#e0e0e0"/>
<circle cx="210.2" cy="602.5" r="4.4" fill="#e0e0e0"/>
<circle cx="220.6" cy="172.3" r="4.4" fill="#e0e0e0"/>
<circle cx="324.1" cy="264.0" r="4.4" fill="#e0e0e0"/>
<circle cx="360.1" cy="226.4" r="4.4" fill="#e0e0e0"/>
<circle cx="347.8" cy="431.4" r="4.4" fill="#e0e0e0"/>
<circle cx="322.0" cy="241.8" r="4.4" fill="#e0e0e0"/>
<circle cx="372.9" cy="207.5" r="4.4" fill="#e0e0e0"/>
<circle cx="261.7" cy="316.7" r="4.4" fill="#e0e0e0"/>
<circle cx="266.9" cy="708.5" r="4.4" fill="#e0e0e0"/>
<circle cx="281.1" cy="623.5" r="4.4" fill="#e0e0e0"/>
<circle cx="166.1" cy="70.9" r="4.4" fill="#e0e0e0"/>
<circle cx="248.6" cy="761.2" r="4.4" fill="#e0e0e0"/>
<circle cx="346.0" cy="232.7" r="4.4" fill="#e0e0e0"/>
<circle cx="308.9" cy="619.8" r="4.4" fill="#e0e0e0"/>
<circle cx="248.9" cy="637.9" r="4.4" fill="#e0e0e0"/>
<circle cx="405.6" cy="600.3" r="4.4" fill="#e0e0e0"/>
<circle cx="195.1" cy="196.2" r="4.4" fill="#e0e0e0"/>
<circle cx="265.2" cy="810.7" r="4.4" fill="#e0e0e0"/>
<circle cx="421.9" cy="319.6" r="4.4" fill="#e0e0e0"/>
<circle cx="355.7" cy="355.2" r="4.4" fill="#e0e0e0"/>
<circle cx="191.4" cy="164.1" r="4.4" fill="#e0e0e0"/>
<circle cx="525.4" cy="420.9" r="4.4" fill="#e0e0e0"/>
<circle cx="173.5" cy="114.3" r="4.4" fill="#e0e0e0"/>
<circle cx="214.8" cy="686.4" r="4.4" fill="#e0e0e0"/>
<circle cx="458.8" cy="291.2" r="4.4" fill="#e0e0e0"/>
<circle cx="379.1" cy="216.9" r="4.4" fill="#e0e0e0"/>
<circle cx="215.5" cy="681.7" r="4.4" fill="#e0e0e0"/>
<circle cx="414.4" cy="307.0" r="4.4" fill="#e0e0e0"/>
<circle cx="454.9" cy="253.4" r="4.4" fill="#e0e0e0"/>
<circle cx="473.5" cy="286.0" r="4.4" fill="#e0e0e0"/>
<circle cx="256.4" cy="700.8" r="4.4" fill="#e0e0e0"/>
<circle cx="535.0" cy="388.4" r="4.4" fill="#e0e0e0"/>
<circle cx="184.7" cy="596.7" r="4.4" fill="#e0e0e0"/>
<circle cx="205.7" cy="645.2" r="4.4" fill="#e0e0e0"/>
<circle cx="323.8" cy="378.4" r="4.4" fill="#e0e0e0"/>
<circle cx="169.0" cy="127.4" r="4.4" fill="#e0e0e0"/>
<circle cx="424.9" cy="253.0" r="4.4" fill="#e0e0e0"/>
<circle cx="177.5" cy="166.6" r="4.4" fill="#e0e0e0"/>
<circle cx="337.9" cy="399.3" r="4.4" fill="#e0e0e0"/>
<circle cx="259.7" cy="796.2" r="4.4" fill="#e0e0e0"/>
<circle cx="524.1" cy="355.4" r="4.4" fill="#e0e0e0"/>
<circle cx="503.1" cy="396.4" r="4.4" fill="#e0e0e0"/>
<circle cx="398.7" cy="225.7" r="4.4" fill="#e0e0e0"/>
<circle cx="355.3" cy="424.3" r="4.4" fill="#e0e0e0"/>
<circle cx="291.7" cy="197.5" r="4.4" fill="#e0e0e0"/>
<circle cx="350.4" cy="220.5" r="4.4" fill="#e0e0e0"/>
<circle cx="278.1" cy="684.3" r="4.4" fill="#e0e0e0"/>
<circle cx="310.2" cy="280.7" r="4.4" fill="#e0e0e0"/>
<circle cx="241.2" cy="670.7" r="4.4" fill="#e0e0e0"/>
<circle cx="155.7" cy="117.9" r="4.4" fill="#e0e0e0"/>
<circle cx="377.3" cy="213.2" r="4.4" fill="#e0e0e0"/>
<circle cx="475.9" cy="544.3" r="4.4" fill="#e0e0e0"/>
<circle cx="243.6" cy="789.1" r="4.4" fill="#e0e0e0"/>
<circle cx="543.5" cy="402.0" r="4.4" fill="#e0e0e0"/>
<circle cx="468.4" cy="282.2" r="4.4" fill="#e0e0e0"/>
<circle cx="339.4" cy="371.4" r="4.4" fill="#e0e0e0"/>
<circle cx="219.9" cy="627.1" r="4.4" fill="#e0e0e0"/>
<circle cx="327.0" cy="391.2" r="4.4" fill="#e0e0e0"/>
<circle cx="492.1" cy="361.3" r="4.4" fill="#e0e0e0"/>
<circle cx="334.3" cy="344.2" r="4.4" fill="#e0e0e0"/>
<circle cx="216.0" cy="62.5" r="4.4" fill="#e0e0e0"/>
<circle cx="358.4" cy="217.4" r="4.4" fill="#e0e0e0"/>
<circle cx="324.6" cy="404.8" r="4.4" fill="#e0e0e0"/>
<circle cx="149.6" cy="91.9" r="4.4" fill="#e0e0e0"/>
<circle cx="236.4" cy="667.7" r="4.4" fill="#e0e0e0"/>
<circle cx="534.6" cy="404.2" r="4.4" fill="#e0e0e0"/>
<circle cx="224.7" cy="638.5" r="4.4" fill="#e0e0e0"/>
<circle cx="202.8" cy="658.1" r="4.4" fill="#e0e0e0"/>
<circle cx="532.4" cy="405.6" r="4.4" fill="#e0e0e0"/>
<circle cx="199.2" cy="674.1" r="4.4" fill="#e0e0e0"/>
<circle cx="488.4" cy="336.2" r="4.4" fill="#e0e0e0"/>
<circle cx="452.1" cy="251.1" r="4.4" fill="#e0e0e0"/>
<circle cx="493.3" cy="447.6" r="4.4" fill="#e0e0e0"/>
<circle cx="330.3" cy="268.6" r="4.4" fill="#e0e0e0"/>
<circle cx="306.8" cy="240.3" r="4.4" fill="#e0e0e0"/>
<circle cx="343.9" cy="613.2" r="4.4" fill="#e0e0e0"/>
<circle cx="236.5" cy="136.3" r="4.4" fill="#e0e0e0"/>
<circle cx="253.5" cy="754.1" r="4.4" fill="#e0e0e0"/>
<circle cx="298.6" cy="619.4" r="4.4" fill="#e0e0e0"/>
<circle cx="395.5" cy="232.1" r="4.4" fill="#e0e0e0"/>
<circle cx="324.7" cy="355.5" r="4.4" fill="#e0e0e0"/>
<circle cx="345.9" cy="232.0" r="4.4" fill="#e0e0e0"/>
<circle cx="256.8" cy="663.3" r="4.4" fill="#e0e0e0"/>
<circle cx="194.2" cy="642.7" r="4.4" fill="#e0e0e0"/>
<circle cx="195.8" cy="628.9" r="4.4" fill="#e0e0e0"/>
<circle cx="203.7" cy="657.6" r="4.4" fill="#e0e0e0"/>
<circle cx="255.3" cy="650.2" r="4.4" fill="#e0e0e0"/>
<circle cx="523.2" cy="416.7" r="4.4" fill="#e0e0e0"/>
<circle cx="496.8" cy="418.3" r="4.4" fill="#e0e0e0"/>
<circle cx="260.9" cy="717.8" r="4.4" fill="#e0e0e0"/>
<circle cx="162.1" cy="105.2" r="4.4" fill="#e0e0e0"/>
<circle cx="345.3" cy="349.9" r="4.4" fill="#e0e0e0"/>
<circle cx="440.3" cy="236.0" r="4.4" fill="#e0e0e0"/>
<circle cx="253.3" cy="692.6" r="4.4" fill="#e0e0e0"/>
<circle cx="212.8" cy="739.3" r="4.4" fill="#e0e0e0"/>
<circle cx="362.7" cy="222.4" r="4.4" fill="#e0e0e0"/>
<circle cx="230.1" cy="163.1" r="4.4" fill="#e0e0e0"/>
<circle cx="201.6" cy="147.4" r="4.4" fill="#e0e0e0"/>
<circle cx="313.2" cy="276.5" r="4.4" fill="#e0e0e0"/>
<circle cx="408.1" cy="269.4" r="4.4" fill="#e0e0e0"/>
<circle cx="330.7" cy="355.5" r="4.4" fill="#e0e0e0"/>
<circle cx="327.4" cy="277.4" r="4.4" fill="#e0e0e0"/>
<circle cx="320.8" cy="236.7" r="4.4" fill="#e0e0e0"/>
<circle cx="461.9" cy="279.7" r="4.4" fill="#e0e0e0"/>
<circle cx="480.6" cy="306.8" r="4.4" fill="#e0e0e0"/>
<circle cx="487.6" cy="332.5" r="4.4" fill="#e0e0e0"/>
<circle cx="534.6" cy="419.0" r="4.4" fill="#e0e0e0"/>
<circle cx="439.2" cy="254.7" r="4.4" fill="#e0e0e0"/>
<circle cx="411.4" cy="596.1" r="4.4" fill="#e0e0e0"/>
<circle cx="268.4" cy="268.8" r="4.4" fill="#e0e0e0"/>
<circle cx="426.3" cy="238.8" r="4.4" fill="#e0e0e0"/>
<circle cx="344.9" cy="343.6" r="4.4" fill="#e0e0e0"/>
<circle cx="319.6" cy="286.2" r="4.4" fill="#e0e0e0"/>
<circle cx="388.3" cy="267.2" r="4.4" fill="#e0e0e0"/>
<circle cx="388.2" cy="227.0" r="4.4" fill="#e0e0e0"/>
<circle cx="318.6" cy="372.4" r="4.4" fill="#e0e0e0"/>
<circle cx="425.4" cy="228.1" r="4.4" fill="#e0e0e0"/>
<circle cx="317.1" cy="240.6" r="4.4" fill="#e0e0e0"/>
<circle cx="335.3" cy="234.7" r="4.4" fill="#e0e0e0"/>
<circle cx="361.0" cy="225.3" r="4.4" fill="#e0e0e0"/>
<circle cx="402.1" cy="520.5" r="4.4" fill="#e0e0e0"/>
<circle cx="219.0" cy="712.8" r="4.4" fill="#e0e0e0"/>
<circle cx="487.8" cy="350.7" r="4.4" fill="#e0e0e0"/>
<circle cx="235.4" cy="716.4" r="4.4" fill="#e0e0e0"/>
<circle cx="327.2" cy="374.9" r="4.4" fill="#e0e0e0"/>
<circle cx="496.0" cy="461.7" r="4.4" fill="#e0e0e0"/>
<circle cx="499.4" cy="430.2" r="4.4" fill="#e0e0e0"/>
<circle cx="457.9" cy="235.0" r="4.4" fill="#e0e0e0"/>
<circle cx="267.7" cy="654.2" r="4.4" fill="#e0e0e0"/>
<circle cx="386.4" cy="212.0" r="4.4" fill="#e0e0e0"/>
<circle cx="476.3" cy="316.9" r="4.4" fill="#e0e0e0"/>
<circle cx="258.8" cy="795.5" r="4.4" fill="#e0e0e0"/>
<circle cx="247.9" cy="615.9" r="4.4" fill="#e0e0e0"/>
<circle cx="236.4" cy="672.2" r="4.4" fill="#e0e0e0"/>
<circle cx="339.0" cy="386.2" r="4.4" fill="#e0e0e0"/>
<circle cx="211.5" cy="734.3" r="4.4" fill="#e0e0e0"/>
<circle cx="349.5" cy="457.9" r="4.4" fill="#e0e0e0"/>
<circle cx="471.1" cy="294.2" r="4.4" fill="#e0e0e0"/>
<circle cx="221.1" cy="705.8" r="4.4" fill="#e0e0e0"/>
<circle cx="275.2" cy="709.6" r="4.4" fill="#e0e0e0"/>
<circle cx="348.0" cy="357.1" r="4.4" fill="#e0e0e0"/>
<circle cx="311.1" cy="262.5" r="4.4" fill="#e0e0e0"/>
<circle cx="418.8" cy="229.6" r="4.4" fill="#e0e0e0"/>
<circle cx="332.3" cy="231.7" r="4.4" fill="#e0e0e0"/>
<circle cx="357.0" cy="366.2" r="4.4" fill="#e0e0e0"/>
<circle cx="296.0" cy="212.0" r="4.4" fill="#e0e0e0"/>
<circle cx="263.7" cy="799.6" r="4.4" fill="#e0e0e0"/>
<circle cx="531.0" cy="396.2" r="4.4" fill="#e0e0e0"/>
<circle cx="263.1" cy="765.8" r="4.4" fill="#e0e0e0"/>
<circle cx="394.6" cy="209.6" r="4.4" fill="#e0e0e0"/>
<circle cx="266.9" cy="292.2" r="4.4" fill="#e0e0e0"/>
<circle cx="236.5" cy="87.8" r="4.4" fill="#e0e0e0"/>
<circle cx="254.0" cy="632.0" r="4.4" fill="#e0e0e0"/>
<circle cx="235.1" cy="696.9" r="4.4" fill="#e0e0e0"/>
<circle cx="435.2" cy="237.1" r="4.4" fill="#e0e0e0"/>
<circle cx="227.5" cy="693.1" r="4.4" fill="#e0e0e0"/>
<circle cx="315.0" cy="393.1" r="4.4" fill="#e0e0e0"/>
<circle cx="419.7" cy="297.3" r="4.4" fill="#e0e0e0"/>
<circle cx="361.9" cy="225.1" r="4.4" fill="#e0e0e0"/>
<circle cx="327.7" cy="248.8" r="4.4" fill="#e0e0e0"/>
<circle cx="549.5" cy="379.2" r="4.4" fill="#e0e0e0"/>
<circle cx="232.5" cy="684.8" r="4.4" fill="#e0e0e0"/>
<circle cx="276.7" cy="260.8" r="4.4" fill="#e0e0e0"/>
<circle cx="450.5" cy="223.7" r="4.4" fill="#e0e0e0"/>
<circle cx="362.1" cy="217.1" r="4.4" fill="#e0e0e0"/>
<circle cx="333.9" cy="286.1" r="4.4" fill="#e0e0e0"/>
<circle cx="341.4" cy="392.1" r="4.4" fill="#e0e0e0"/>
<circle cx="450.0" cy="251.5" r="4.4" fill="#e0e0e0"/>
<circle cx="260.1" cy="806.5" r="4.4" fill="#e0e0e0"/>
<circle cx="357.9" cy="215.2" r="4.4" fill="#e0e0e0"/>
<circle cx="259.8" cy="777.9" r="4.4" fill="#e0e0e0"/>
<circle cx="433.0" cy="247.0" r="4.4" fill="#e0e0e0"/>
<circle cx="451.4" cy="235.8" r="4.4" fill="#e0e0e0"/>
<circle cx="533.0" cy="380.9" r="4.4" fill="#e0e0e0"/>
<circle cx="206.6" cy="697.7" r="4.4" fill="#e0e0e0"/>
<circle cx="404.8" cy="315.0" r="4.4" fill="#e0e0e0"/>
<circle cx="193.1" cy="106.8" r="4.4" fill="#e0e0e0"/>
<circle cx="497.0" cy="459.6" r="4.4" fill="#e0e0e0"/>
<circle cx="327.1" cy="303.8" r="4.4" fill="#e0e0e0"/>
<circle cx="305.2" cy="266.0" r="4.4" fill="#e0e0e0"/>
<circle cx="445.0" cy="229.1" r="4.4" fill="#e0e0e0"/>
<circle cx="483.0" cy="417.0" r="4.4" fill="#e0e0e0"/>
<circle cx="483.3" cy="435.0" r="4.4" fill="#e0e0e0"/>
<circle cx="275.1" cy="819.6" r="4.4" fill="#e0e0e0"/>
<circle cx="250.5" cy="728.3" r="4.4" fill="#e0e0e0"/>
<circle cx="199.9" cy="644.7" r="4.4" fill="#e0e0e0"/>
<circle cx="435.8" cy="262.7" r="4.4" fill="#e0e0e0"/>
<circle cx="256.0" cy="667.8" r="4.4" fill="#e0e0e0"/>
<circle cx="523.2" cy="416.7" r="4.4" fill="#e0e0e0"/>
<circle cx="345.3" cy="335.4" r="4.4" fill="#e0e0e0"/>
<circle cx="355.4" cy="374.2" r="4.4" fill="#e0e0e0"/>
<circle cx="225.9" cy="737.9" r="4.4" fill="#e0e0e0"/>
<circle cx="180.3" cy="186.1" r="4.4" fill="#e0e0e0"/>
<circle cx="270.1" cy="678.1" r="4.4" fill="#e0e0e0"/>
<circle cx="352.1" cy="361.9" r="4.4" fill="#e0e0e0"/>
<circle cx="500.8" cy="418.6" r="4.4" fill="#e0e0e0"/>
<circle cx="498.7" cy="408.7" r="4.4" fill="#e0e0e0"/>
<circle cx="488.5" cy="429.0" r="4.4" fill="#e0e0e0"/>
<circle cx="412.3" cy="313.8" r="4.4" fill="#e0e0e0"/>
<circle cx="515.1" cy="404.3" r="4.4" fill="#e0e0e0"/>
<circle cx="545.0" cy="404.8" r="4.4" fill="#e0e0e0"/>
<circle cx="228.7" cy="765.2" r="4.4" fill="#e0e0e0"/>
<circle cx="326.7" cy="246.0" r="4.4" fill="#e0e0e0"/>
<circle cx="326.7" cy="264.0" r="4.4" fill="#e0e0e0"/>
<circle cx="246.5" cy="759.9" r="4.4" fill="#e0e0e0"/>
<circle cx="241.5" cy="115.1" r="4.4" fill="#e0e0e0"/>
<circle cx="329.7" cy="268.6" r="4.4" fill="#e0e0e0"/>
<circle cx="327.0" cy="375.6" r="4.4" fill="#e0e0e0"/>
<circle cx="486.3" cy="343.3" r="4.4" fill="#e0e0e0"/>
<circle cx="535.5" cy="376.5" r="4.4" fill="#e0e0e0"/>
<circle cx="316.9" cy="270.2" r="4.4" fill="#e0e0e0"/>
<circle cx="273.9" cy="740.7" r="4.4" fill="#e0e0e0"/>
<circle cx="173.5" cy="583.4" r="4.4" fill="#e0e0e0"/>
<circle cx="199.6" cy="80.8" r="4.4" fill="#e0e0e0"/>
<circle cx="247.9" cy="686.1" r="4.4" fill="#e0e0e0"/>
<circle cx="295.8" cy="623.8" r="4.4" fill="#e0e0e0"/>
<circle cx="200.7" cy="54.5" r="4.4" fill="#e0e0e0"/>
<circle cx="182.6" cy="82.4" r="4.4" fill="#e0e0e0"/>
<circle cx="358.1" cy="442.9" r="4.4" fill="#e0e0e0"/>
<circle cx="347.8" cy="229.9" r="4.4" fill="#e0e0e0"/>
<circle cx="264.1" cy="809.6" r="4.4" fill="#e0e0e0"/>
<circle cx="353.3" cy="431.0" r="4.4" fill="#e0e0e0"/>
<circle cx="405.0" cy="518.8" r="4.4" fill="#e0e0e0"/>
<circle cx="334.3" cy="409.3" r="4.4" fill="#e0e0e0"/>
<circle cx="266.5" cy="681.3" r="4.4" fill="#e0e0e0"/>
<circle cx="234.3" cy="723.2" r="4.4" fill="#e0e0e0"/>
<circle cx="326.2" cy="681.6" r="4.4" fill="#e0e0e0"/>
<circle cx="390.0" cy="250.2" r="4.4" fill="#e0e0e0"/>
<circle cx="236.9" cy="689.5" r="4.4" fill="#e0e0e0"/>
<circle cx="401.4" cy="568.9" r="4.4" fill="#e0e0e0"/>
<circle cx="239.7" cy="722.1" r="4.4" fill="#e0e0e0"/>
<circle cx="334.6" cy="328.4" r="4.4" fill="#e0e0e0"/>
<circle cx="524.2" cy="348.9" r="4.4" fill="#e0e0e0"/>
<circle cx="401.7" cy="590.1" r="4.4" fill="#e0e0e0"/>
<circle cx="389.9" cy="537.2" r="4.4" fill="#e0e0e0"/>
<circle cx="352.5" cy="382.1" r="4.4" fill="#e0e0e0"/>
<circle cx="271.6" cy="834.7" r="4.4" fill="#e0e0e0"/>
<circle cx="473.4" cy="307.8" r="4.4" fill="#e0e0e0"/>
<circle cx="339.9" cy="402.2" r="4.4" fill="#e0e0e0"/>
<circle cx="229.1" cy="641.3" r="4.4" fill="#e0e0e0"/>
<circle cx="315.1" cy="235.4" r="4.4" fill="#e0e0e0"/>
<circle cx="267.9" cy="828.1" r="4.4" fill="#e0e0e0"/>
<circle cx="498.8" cy="352.4" r="4.4" fill="#e0e0e0"/>
<circle cx="208.6" cy="609.3" r="4.4" fill="#e0e0e0"/>
<circle cx="251.7" cy="619.0" r="4.4" fill="#e0e0e0"/>
<circle cx="265.6" cy="748.1" r="4.4" fill="#e0e0e0"/>
<circle cx="375.5" cy="222.3" r="4.4" fill="#e0e0e0"/>
<circle cx="238.0" cy="772.4" r="4.4" fill="#e0e0e0"/>
<circle cx="209.1" cy="712.1" r="4.4" fill="#e0e0e0"/>
<circle cx="498.4" cy="421.4" r="4.4" fill="#e0e0e0"/>
<circle cx="327.0" cy="276.4" r="4.4" fill="#e0e0e0"/>
<circle cx="321.3" cy="233.8" r="4.4" fill="#e0e0e0"/>
<circle cx="337.9" cy="388.4" r="4.4" fill="#e0e0e0"/>
<circle cx="229.7" cy="726.2" r="4.4" fill="#e0e0e0"/>
<circle cx="201.0" cy="598.9" r="4.4" fill="#e0e0e0"/>
<circle cx="155.6" cy="115.9" r="4.4" fill="#e0e0e0"/>
<circle cx="253.2" cy="639.5" r="4.4" fill="#e0e0e0"/>
<circle cx="253.8" cy="704.1" r="4.4" fill="#e0e0e0"/>
<circle cx="488.0" cy="339.7" r="4.4" fill="#e0e0e0"/>
<circle cx="534.5" cy="420.6" r="4.4" fill="#e0e0e0"/>
<circle cx="288.0" cy="627.5" r="4.4" fill="#e0e0e0"/>
<circle cx="266.6" cy="748.9" r="4.4" fill="#e0e0e0"/>
<circle cx="240.1" cy="664.9" r="4.4" fill="#e0e0e0"/>
<circle cx="193.8" cy="56.4" r="4.4" fill="#e0e0e0"/>
<circle cx="494.1" cy="346.2" r="4.4" fill="#e0e0e0"/>
<circle cx="245.0" cy="700.2" r="4.4" fill="#e0e0e0"/>
<circle cx="255.8" cy="633.1" r="4.4" fill="#e0e0e0"/>
<circle cx="245.0" cy="706.3" r="4.4" fill="#e0e0e0"/>
<circle cx="173.9" cy="130.2" r="4.4" fill="#e0e0e0"/>
<circle cx="518.7" cy="429.0" r="4.4" fill="#e0e0e0"/>
<circle cx="262.1" cy="827.9" r="4.4" fill="#e0e0e0"/>
<circle cx="258.9" cy="796.9" r="4.4" fill="#e0e0e0"/>
<circle cx="257.2" cy="701.1" r="4.4" fill="#e0e0e0"/>
<circle cx="265.3" cy="712.1" r="4.4" fill="#e0e0e0"/>
<circle cx="225.1" cy="760.8" r="4.4" fill="#e0e0e0"/>
<circle cx="402.9" cy="579.6" r="4.4" fill="#e0e0e0"/>
<circle cx="388.7" cy="216.0" r="4.4" fill="#e0e0e0"/>
<circle cx="246.9" cy="655.2" r="4.4" fill="#e0e0e0"/>
<circle cx="351.2" cy="228.2" r="4.4" fill="#e0e0e0"/>
<circle cx="305.2" cy="611.6" r="4.4" fill="#e0e0e0"/>
<circle cx="391.0" cy="257.8" r="4.4" fill="#e0e0e0"/>
<circle cx="472.4" cy="326.5" r="4.4" fill="#e0e0e0"/>
<circle cx="487.3" cy="426.2" r="4.4" fill="#e0e0e0"/>
<circle cx="498.4" cy="392.9" r="4.4" fill="#e0e0e0"/>
<circle cx="524.5" cy="409.8" r="4.4" fill="#e0e0e0"/>
<circle cx="258.9" cy="820.7" r="4.4" fill="#e0e0e0"/>
<circle cx="349.2" cy="436.0" r="4.4" fill="#e0e0e0"/>
<circle cx="440.7" cy="226.4" r="4.4" fill="#e0e0e0"/>
<circle cx="518.3" cy="401.5" r="4.4" fill="#e0e0e0"/>
<circle cx="332.1" cy="337.4" r="4.4" fill="#e0e0e0"/>
<circle cx="227.4" cy="727.5" r="4.4" fill="#e0e0e0"/>
<circle cx="183.2" cy="585.6" r="4.4" fill="#e0e0e0"/>
<circle cx="409.3" cy="598.4" r="4.4" fill="#e0e0e0"/>
<circle cx="342.7" cy="371.6" r="4.4" fill="#e0e0e0"/>
<circle cx="216.4" cy="124.5" r="4.4" fill="#e0e0e0"/>
<circle cx="340.8" cy="367.3" r="4.4" fill="#e0e0e0"/>
<circle cx="156.5" cy="106.0" r="4.4" fill="#e0e0e0"/>
<circle cx="264.3" cy="819.7" r="4.4" fill="#e0e0e0"/>
<circle cx="165.3" cy="152.8" r="4.4" fill="#e0e0e0"/>
<circle cx="456.5" cy="243.5" r="4.4" fill="#e0e0e0"/>
<circle cx="405.4" cy="295.1" r="4.4" fill="#e0e0e0"/>
<circle cx="243.4" cy="763.8" r="4.4" fill="#e0e0e0"/>
<circle cx="208.2" cy="637.8" r="4.4" fill="#e0e0e0"/>
<circle cx="344.3" cy="227.1" r="4.4" fill="#e0e0e0"/>
<circle cx="163.8" cy="164.8" r="4.4" fill="#e0e0e0"/>
<circle cx="504.0" cy="353.8" r="4.4" fill="#e0e0e0"/>
<circle cx="449.7" cy="235.2" r="4.4" fill="#e0e0e0"/>
<circle cx="541.3" cy="368.2" r="4.4" fill="#e0e0e0"/>
<circle cx="505.4" cy="410.5" r="4.4" fill="#e0e0e0"/>
<circle cx="426.4" cy="286.0" r="4.4" fill="#e0e0e0"/>
<circle cx="328.7" cy="323.5" r="4.4" fill="#e0e0e0"/>
<circle cx="353.0" cy="417.3" r="4.4" fill="#e0e0e0"/>
<circle cx="301.3" cy="626.1" r="4.4" fill="#e0e0e0"/>
<circle cx="507.5" cy="370.9" r="4.4" fill="#e0e0e0"/>
<circle cx="369.8" cy="213.9" r="4.4" fill="#e0e0e0"/>
<circle cx="510.3" cy="366.7" r="4.4" fill="#e0e0e0"/>
<circle cx="393.8" cy="225.5" r="4.4" fill="#e0e0e0"/>
<circle cx="264.1" cy="807.1" r="4.4" fill="#e0e0e0"/>
<circle cx="294.5" cy="627.5" r="4.4" fill="#e0e0e0"/>
<circle cx="320.8" cy="371.8" r="4.4" fill="#e0e0e0"/>
<circle cx="355.7" cy="350.0" r="4.4" fill="#e0e0e0"/>
<circle cx="210.9" cy="112.7" r="4.4" fill="#e0e0e0"/>
<circle cx="421.2" cy="248.7" r="4.4" fill="#e0e0e0"/>
<circle cx="310.6" cy="291.7" r="4.4" fill="#e0e0e0"/>
<circle cx="347.8" cy="227.3" r="4.4" fill="#e0e0e0"/>
<circle cx="507.0" cy="408.3" r="4.4" fill="#e0e0e0"/>
<circle cx="256.1" cy="703.6" r="4.4" fill="#e0e0e0"/>
<circle cx="497.1" cy="350.8" r="4.4" fill="#e0e0e0"/>
<circle cx="319.2" cy="232.6" r="4.4" fill="#e0e0e0"/>
<circle cx="330.1" cy="393.5" r="4.4" fill="#e0e0e0"/>
<circle cx="247.0" cy="678.9" r="4.4" fill="#e0e0e0"/>
<circle cx="446.1" cy="244.5" r="4.4" fill="#e0e0e0"/>
<circle cx="227.5" cy="606.5" r="4.4" fill="#e0e0e0"/>
<circle cx="373.1" cy="223.0" r="4.4" fill="#e0e0e0"/>
<circle cx="422.9" cy="247.5" r="4.4" fill="#e0e0e0"/>
<circle cx="219.2" cy="740.5" r="4.4" fill="#e0e0e0"/>
<circle cx="495.3" cy="433.5" r="4.4" fill="#e0e0e0"/>
<circle cx="357.4" cy="370.2" r="4.4" fill="#e0e0e0"/>
<circle cx="159.6" cy="158.2" r="4.4" fill="#e0e0e0"/>
<circle cx="219.7" cy="751.7" r="4.4" fill="#e0e0e0"/>
<circle cx="406.3" cy="298.5" r="4.4" fill="#e0e0e0"/>
<circle cx="235.1" cy="704.6" r="4.4" fill="#e0e0e0"/>
<circle cx="403.6" cy="271.9" r="4.4" fill="#e0e0e0"/>
<circle cx="409.5" cy="594.7" r="4.4" fill="#e0e0e0"/>
<circle cx="383.1" cy="537.3" r="4.4" fill="#e0e0e0"/>
<circle cx="269.4" cy="818.9" r="4.4" fill="#e0e0e0"/>
<circle cx="513.0" cy="402.1" r="4.4" fill="#e0e0e0"/>
<circle cx="203.7" cy="664.2" r="4.4" fill="#e0e0e0"/>
<circle cx="307.2" cy="223.7" r="4.4" fill="#e0e0e0"/>
<circle cx="350.5" cy="378.6" r="4.4" fill="#e0e0e0"/>
<circle cx="507.7" cy="395.7" r="4.4" fill="#e0e0e0"/>
<circle cx="274.1" cy="774.0" r="4.4" fill="#e0e0e0"/>
<circle cx="174.4" cy="165.2" r="4.4" fill="#e0e0e0"/>
<circle cx="258.6" cy="819.7" r="4.4" fill="#e0e0e0"/>
<circle cx="424.4" cy="232.8" r="4.4" fill="#e0e0e0"/>
<circle cx="350.2" cy="231.1" r="4.4" fill="#e0e0e0"/>
<circle cx="193.8" cy="593.8" r="4.4" fill="#e0e0e0"/>
<circle cx="355.0" cy="430.2" r="4.4" fill="#e0e0e0"/>
<circle cx="503.8" cy="412.5" r="4.4" fill="#e0e0e0"/>
<circle cx="213.8" cy="161.7" r="4.4" fill="#e0e0e0"/>
<circle cx="326.1" cy="303.4" r="4.4" fill="#e0e0e0"/>
<circle cx="529.1" cy="376.2" r="4.4" fill="#e0e0e0"/>
<circle cx="267.2" cy="809.8" r="4.4" fill="#e0e0e0"/>
<circle cx="230.2" cy="169.6" r="4.4" fill="#e0e0e0"/>
<circle cx="153.6" cy="155.6" r="4.4" fill="#e0e0e0"/>
<circle cx="507.6" cy="411.2" r="4.4" fill="#e0e0e0"/>
<circle cx="150.0" cy="81.6" r="4.4" fill="#e0e0e0"/>
<circle cx="532.8" cy="365.9" r="4.4" fill="#e0e0e0"/>
<circle cx="543.3" cy="377.5" r="4.4" fill="#e0e0e0"/>
<circle cx="311.5" cy="399.8" r="4.4" fill="#e0e0e0"/>
<circle cx="336.9" cy="240.3" r="4.4" fill="#e0e0e0"/>
<circle cx="490.5" cy="420.7" r="4.4" fill="#e0e0e0"/>
<circle cx="526.2" cy="363.3" r="4.4" fill="#e0e0e0"/>
<circle cx="317.5" cy="405.1" r="4.4" fill="#e0e0e0"/>
<circle cx="438.1" cy="235.7" r="4.4" fill="#e0e0e0"/>
<circle cx="340.7" cy="347.8" r="4.4" fill="#e0e0e0"/>
<circle cx="299.1" cy="268.3" r="4.4" fill="#e0e0e0"/>
<circle cx="169.5" cy="196.6" r="4.4" fill="#e0e0e0"/>
<circle cx="270.6" cy="808.2" r="4.4" fill="#e0e0e0"/>
<circle cx="507.5" cy="366.4" r="4.4" fill="#e0e0e0"/>
<circle cx="182.6" cy="93.5" r="4.4" fill="#e0e0e0"/>
<circle cx="260.4" cy="764.8" r="4.4" fill="#e0e0e0"/>
<circle cx="177.0" cy="63.2" r="4.4" fill="#e0e0e0"/>
<circle cx="530.5" cy="354.1" r="4.4" fill="#e0e0e0"/>
<circle cx="413.6" cy="551.4" r="4.4" fill="#e0e0e0"/>
<circle cx="398.1" cy="230.3" r="4.4" fill="#e0e0e0"/>
<circle cx="266.4" cy="654.4" r="4.4" fill="#e0e0e0"/>
<circle cx="275.0" cy="209.0" r="4.4" fill="#e0e0e0"/>
<circle cx="321.2" cy="237.5" r="4.4" fill="#e0e0e0"/>
<circle cx="258.4" cy="744.2" r="4.4" fill="#e0e0e0"/>
<circle cx="338.0" cy="384.9" r="4.4" fill="#e0e0e0"/>
<circle cx="263.2" cy="668.3" r="4.4" fill="#e0e0e0"/>
<circle cx="452.7" cy="230.4" r="4.4" fill="#e0e0e0"/>
<circle cx="288.0" cy="208.0" r="4.4" fill="#e0e0e0"/>
<circle cx="520.0" cy="355.0" r="4.4" fill="#e0e0e0"/>
<circle cx="550.8" cy="389.7" r="4.4" fill="#e0e0e0"/>
<circle cx="224.9" cy="675.0" r="4.4" fill="#e0e0e0"/>
<circle cx="306.5" cy="266.4" r="4.4" fill="#e0e0e0"/>
<circle cx="487.5" cy="344.7" r="4.4" fill="#e0e0e0"/>
<circle cx="268.8" cy="670.4" r="4.4" fill="#e0e0e0"/>
<circle cx="229.9" cy="763.0" r="4.4" fill="#e0e0e0"/>
<circle cx="482.0" cy="310.9" r="4.4" fill="#e0e0e0"/>
<circle cx="320.9" cy="287.9" r="4.4" fill="#e0e0e0"/>
<circle cx="452.0" cy="240.7" r="4.4" fill="#e0e0e0"/>
<circle cx="261.9" cy="785.2" r="4.4" fill="#e0e0e0"/>
<circle cx="251.7" cy="711.3" r="4.4" fill="#e0e0e0"/>
<circle cx="395.9" cy="214.5" r="4.4" fill="#e0e0e0"/>
<circle cx="256.2" cy="591.3" r="4.4" fill="#e0e0e0"/>
<circle cx="272.8" cy="626.7" r="4.4" fill="#e0e0e0"/>
<circle cx="379.9" cy="216.9" r="4.4" fill="#e0e0e0"/>
<circle cx="246.3" cy="588.4" r="4.4" fill="#e0e0e0"/>
<circle cx="482.1" cy="325.1" r="4.4" fill="#e0e0e0"/>
<circle cx="257.6" cy="659.5" r="4.4" fill="#e0e0e0"/>
<circle cx="330.1" cy="247.2" r="4.4" fill="#e0e0e0"/>
<circle cx="517.4" cy="398.0" r="4.4" fill="#e0e0e0"/>
<circle cx="319.4" cy="645.1" r="4.4" fill="#e0e0e0"/>
<circle cx="522.8" cy="426.0" r="4.4" fill="#e0e0e0"/>
<circle cx="268.3" cy="708.7" r="4.4" fill="#e0e0e0"/>
<circle cx="309.9" cy="257.3" r="4.4" fill="#e0e0e0"/>
<circle cx="534.4" cy="372.7" r="4.4" fill="#e0e0e0"/>
<circle cx="270.4" cy="818.7" r="4.4" fill="#e0e0e0"/>
<circle cx="215.8" cy="692.2" r="4.4" fill="#e0e0e0"/>
<circle cx="268.9" cy="731.9" r="4.4" fill="#e0e0e0"/>
<circle cx="206.4" cy="702.2" r="4.4" fill="#e0e0e0"/>
<circle cx="335.1" cy="237.0" r="4.4" fill="#e0e0e0"/>
<circle cx="219.5" cy="180.4" r="4.4" fill="#e0e0e0"/>
<circle cx="387.9" cy="226.6" r="4.4" fill="#e0e0e0"/>
<circle cx="302.5" cy="274.5" r="4.4" fill="#e0e0e0"/>
<circle cx="220.3" cy="670.1" r="4.4" fill="#e0e0e0"/>
<circle cx="384.8" cy="276.1" r="4.4" fill="#e0e0e0"/>
<circle cx="404.2" cy="270.4" r="4.4" fill="#e0e0e0"/>
<circle cx="481.1" cy="340.1" r="4.4" fill="#e0e0e0"/>
<circle cx="495.0" cy="431.9" r="4.4" fill="#e0e0e0"/>
<circle cx="242.8" cy="695.0" r="4.4" fill="#e0e0e0"/>
<circle cx="489.4" cy="385.9" r="4.4" fill="#e0e0e0"/>
<circle cx="430.5" cy="246.8" r="4.4" fill="#e0e0e0"/>
<circle cx="221.7" cy="694.2" r="4.4" fill="#e0e0e0"/>
<circle cx="504.2" cy="372.1" r="4.4" fill="#e0e0e0"/>
<circle cx="521.2" cy="397.5" r="4.4" fill="#e0e0e0"/>
<circle cx="306.8" cy="267.3" r="4.4" fill="#e0e0e0"/>
<circle cx="270.1" cy="677.3" r="4.4" fill="#e0e0e0"/>
<circle cx="259.6" cy="766.0" r="4.4" fill="#e0e0e0"/>
<circle cx="524.6" cy="410.9" r="4.4" fill="#e0e0e0"/>
<circle cx="412.8" cy="574.4" r="4.4" fill="#e0e0e0"/>
<circle cx="189.8" cy="620.7" r="4.4" fill="#e0e0e0"/>
<circle cx="485.9" cy="335.3" r="4.4" fill="#e0e0e0"/>
<circle cx="170.5" cy="91.8" r="4.4" fill="#e0e0e0"/>
<circle cx="522.4" cy="381.6" r="4.4" fill="#e0e0e0"/>
<circle cx="269.4" cy="732.2" r="4.4" fill="#e0e0e0"/>
<circle cx="494.7" cy="368.3" r="4.4" fill="#e0e0e0"/>
<circle cx="487.7" cy="358.3" r="4.4" fill="#e0e0e0"/>
<circle cx="483.3" cy="425.3" r="4.4" fill="#e0e0e0"/>
<circle cx="355.9" cy="228.7" r="4.4" fill="#e0e0e0"/>
<circle cx="227.0" cy="705.1" r="4.4" fill="#e0e0e0"/>
<circle cx="319.5" cy="684.4" r="4.4" fill="#e0e0e0"/>
<circle cx="252.4" cy="623.7" r="4.4" fill="#e0e0e0"/>
<circle cx="240.9" cy="778.5" r="4.4" fill="#e0e0e0"/>
<circle cx="303.1" cy="254.2" r="4.4" fill="#e0e0e0"/>
<circle cx="546.0" cy="398.7" r="4.4" fill="#e0e0e0"/>
<circle cx="355.0" cy="442.5" r="4.4" fill="#e0e0e0"/>
<circle cx="358.7" cy="357.6" r="4.4" fill="#e0e0e0"/>
<circle cx="499.6" cy="420.4" r="4.4" fill="#e0e0e0"/>
<circle cx="256.2" cy="648.0" r="4.4" fill="#e0e0e0"/>
<circle cx="215.1" cy="171.5" r="4.4" fill="#e0e0e0"/>
<circle cx="244.2" cy="637.3" r="4.4" fill="#e0e0e0"/>
<circle cx="265.1" cy="634.7" r="4.4" fill="#e0e0e0"/>
<circle cx="490.0" cy="454.2" r="4.4" fill="#e0e0e0"/>
<circle cx="261.4" cy="680.4" r="4.4" fill="#e0e0e0"/>
<circle cx="343.7" cy="344.2" r="4.4" fill="#e0e0e0"/>
<circle cx="256.7" cy="722.8" r="4.4" fill="#e0e0e0"/>
<circle cx="213.8" cy="710.1" r="4.4" fill="#e0e0e0"/>
<circle cx="165.6" cy="601.0" r="4.4" fill="#e0e0e0"/>
<circle cx="480.3" cy="325.0" r="4.4" fill="#e0e0e0"/>
<circle cx="271.7" cy="832.6" r="4.4" fill="#e0e0e0"/>
<circle cx="325.8" cy="244.6" r="4.4" fill="#e0e0e0"/>
<circle cx="505.8" cy="414.6" r="4.4" fill="#e0e0e0"/>
<circle cx="204.0" cy="630.9" r="4.4" fill="#e0e0e0"/>
<circle cx="493.3" cy="331.7" r="4.4" fill="#e0e0e0"/>
<circle cx="273.6" cy="717.9" r="4.4" fill="#e0e0e0"/>
<circle cx="540.2" cy="383.9" r="4.4" fill="#e0e0e0"/>
<circle cx="265.5" cy="670.1" r="4.4" fill="#e0e0e0"/>
<circle cx="353.2" cy="376.2" r="4.4" fill="#e0e0e0"/>
<circle cx="446.2" cy="224.6" r="4.4" fill="#e0e0e0"/>
<circle cx="263.0" cy="735.0" r="4.4" fill="#e0e0e0"/>
<circle cx="512.6" cy="428.5" r="4.4" fill="#e0e0e0"/>
<circle cx="545.2" cy="377.3" r="4.4" fill="#e0e0e0"/>
<circle cx="450.6" cy="326.4" r="4.4" fill="#e0e0e0"/>
<circle cx="474.0" cy="295.0" r="4.4" fill="#e0e0e0"/>
<circle cx="490.0" cy="330.4" r="4.4" fill="#e0e0e0"/>
<circle cx="495.5" cy="431.1" r="4.4" fill="#e0e0e0"/>
<circle cx="482.2" cy="430.5" r="4.4" fill="#e0e0e0"/>
<circle cx="527.7" cy="388.3" r="4.4" fill="#e0e0e0"/>
<circle cx="257.1" cy="642.2" r="4.4" fill="#e0e0e0"/>
<circle cx="203.9" cy="705.9" r="4.4" fill="#e0e0e0"/>
<circle cx="226.8" cy="702.6" r="4.4" fill="#e0e0e0"/>
<circle cx="484.8" cy="346.2" r="4.4" fill="#e0e0e0"/>
<circle cx="504.7" cy="443.1" r="4.4" fill="#e0e0e0"/>
<circle cx="345.2" cy="402.5" r="4.4" fill="#e0e0e0"/>
<circle cx="188.3" cy="625.3" r="4.4" fill="#e0e0e0"/>
<circle cx="441.9" cy="306.9" r="4.4" fill="#e0e0e0"/>
<circle cx="372.8" cy="208.4" r="4.4" fill="#e0e0e0"/>
<circle cx="520.7" cy="375.0" r="4.4" fill="#e0e0e0"/>
<circle cx="251.2" cy="788.3" r="4.4" fill="#e0e0e0"/>
<circle cx="209.8" cy="691.1" r="4.4" fill="#e0e0e0"/>
<circle cx="236.3" cy="781.6" r="4.4" fill="#e0e0e0"/>
<circle cx="163.9" cy="142.3" r="4.4" fill="#e0e0e0"/>
<circle cx="344.7" cy="395.5" r="4.4" fill="#e0e0e0"/>
<circle cx="497.3" cy="393.5" r="4.4" fill="#e0e0e0"/>
<circle cx="425.3" cy="231.1" r="4.4" fill="#e0e0e0"/>
<circle cx="491.5" cy="359.6" r="4.4" fill="#e0e0e0"/>
<circle cx="260.1" cy="821.7" r="4.4" fill="#e0e0e0"/>
<circle cx="270.4" cy="667.9" r="4.4" fill="#e0e0e0"/>
<circle cx="278.0" cy="695.4" r="4.4" fill="#e0e0e0"/>
<circle cx="252.2" cy="675.8" r="4.4" fill="#e0e0e0"/>
<circle cx="236.5" cy="775.4" r="4.4" fill="#e0e0e0"/>
<circle cx="485.6" cy="360.0" r="4.4" fill="#e0e0e0"/>
<circle cx="335.4" cy="603.2" r="4.4" fill="#e0e0e0"/>
<circle cx="221.5" cy="657.4" r="4.4" fill="#e0e0e0"/>
<circle cx="274.0" cy="614.6" r="4.4" fill="#e0e0e0"/>
<circle cx="416.6" cy="324.2" r="4.4" fill="#e0e0e0"/>
<circle cx="319.1" cy="404.0" r="4.4" fill="#e0e0e0"/>
<circle cx="390.3" cy="244.0" r="4.4" fill="#e0e0e0"/>
<circle cx="313.8" cy="249.5" r="4.4" fill="#e0e0e0"/>
<circle cx="331.1" cy="301.1" r="4.4" fill="#e0e0e0"/>
<circle cx="242.7" cy="753.9" r="4.4" fill="#e0e0e0"/>
<circle cx="491.5" cy="366.5" r="4.4" fill="#e0e0e0"/>
<circle cx="341.8" cy="232.2" r="4.4" fill="#e0e0e0"/>
<circle cx="236.2" cy="602.7" r="4.4" fill="#e0e0e0"/>
<circle cx="227.5" cy="642.0" r="4.4" fill="#e0e0e0"/>
<circle cx="208.7" cy="664.8" r="4.4" fill="#e0e0e0"/>
<circle cx="381.1" cy="274.7" r="4.4" fill="#e0e0e0"/>
<circle cx="240.7" cy="786.5" r="4.4" fill="#e0e0e0"/>
<circle cx="490.2" cy="447.5" r="4.4" fill="#e0e0e0"/>
<circle cx="155.5" cy="150.1" r="4.4" fill="#e0e0e0"/>
<circle cx="368.9" cy="226.3" r="4.4" fill="#e0e0e0"/>
<circle cx="328.3" cy="621.4" r="4.4" fill="#e0e0e0"/>
<circle cx="346.8" cy="392.6" r="4.4" fill="#e0e0e0"/>
<circle cx="220.4" cy="750.6" r="4.4" fill="#e0e0e0"/>
<circle cx="352.6" cy="448.4" r="4.4" fill="#e0e0e0"/>
<circle cx="413.7" cy="548.9" r="4.4" fill="#e0e0e0"/>
<circle cx="191.9" cy="131.1" r="4.4" fill="#e0e0e0"/>
<circle cx="266.2" cy="814.0" r="4.4" fill="#e0e0e0"/>
<circle cx="213.1" cy="731.9" r="4.4" fill="#e0e0e0"/>
<circle cx="421.9" cy="244.5" r="4.4" fill="#e0e0e0"/>
<circle cx="472.6" cy="283.9" r="4.4" fill="#e0e0e0"/>
<circle cx="333.7" cy="276.2" r="4.4" fill="#e0e0e0"/>
<circle cx="340.0" cy="406.5" r="4.4" fill="#e0e0e0"/>
<circle cx="488.7" cy="429.0" r="4.4" fill="#e0e0e0"/>
<circle cx="342.6" cy="388.0" r="4.4" fill="#e0e0e0"/>
<circle cx="526.3" cy="355.0" r="4.4" fill="#e0e0e0"/>
<circle cx="178.2" cy="100.5" r="4.4" fill="#e0e0e0"/>
<circle cx="366.7" cy="213.0" r="4.4" fill="#e0e0e0"/>
<circle cx="150.9" cy="120.6" r="4.4" fill="#e0e0e0"/>
<circle cx="188.2" cy="586.4" r="4.4" fill="#e0e0e0"/>
<circle cx="199.6" cy="125.3" r="4.4" fill="#e0e0e0"/>
<circle cx="417.4" cy="305.7" r="4.4" fill="#e0e0e0"/>
<circle cx="347.9" cy="427.9" r="4.4" fill="#e0e0e0"/>
<circle cx="512.8" cy="346.5" r="4.4" fill="#e0e0e0"/>
<circle cx="226.5" cy="674.0" r="4.4" fill="#e0e0e0"/>
<circle cx="163.8" cy="106.2" r="4.4" fill="#e0e0e0"/>
<circle cx="307.8" cy="233.2" r="4.4" fill="#e0e0e0"/>
<circle cx="241.2" cy="699.9" r="4.4" fill="#e0e0e0"/>
<circle cx="466.7" cy="277.1" r="4.4" fill="#e0e0e0"/>
<circle cx="281.0" cy="232.0" r="4.4" fill="#e0e0e0"/>
<circle cx="523.3" cy="423.8" r="4.4" fill="#e0e0e0"/>
<circle cx="496.7" cy="346.1" r="4.4" fill="#e0e0e0"/>
<circle cx="274.3" cy="703.1" r="4.4" fill="#e0e0e0"/>
<circle cx="315.8" cy="383.4" r="4.4" fill="#e0e0e0"/>
<circle cx="440.5" cy="265.3" r="4.4" fill="#e0e0e0"/>
<circle cx="501.8" cy="383.6" r="4.4" fill="#e0e0e0"/>
<circle cx="318.0" cy="286.2" r="4.4" fill="#e0e0e0"/>
<circle cx="205.9" cy="624.3" r="4.4" fill="#e0e0e0"/>
<circle cx="334.7" cy="363.7" r="4.4" fill="#e0e0e0"/>
<circle cx="240.0" cy="668.6" r="4.4" fill="#e0e0e0"/>
<circle cx="350.4" cy="468.0" r="4.4" fill="#e0e0e0"/>
<circle cx="497.1" cy="426.9" r="4.4" fill="#e0e0e0"/>
<circle cx="226.8" cy="731.4" r="4.4" fill="#e0e0e0"/>
<circle cx="341.9" cy="411.3" r="4.4" fill="#e0e0e0"/>
<circle cx="437.2" cy="304.7" r="4.4" fill="#e0e0e0"/>
<circle cx="385.2" cy="220.5" r="4.4" fill="#e0e0e0"/>
<circle cx="470.5" cy="299.1" r="4.4" fill="#e0e0e0"/>
<circle cx="539.3" cy="366.0" r="4.4" fill="#e0e0e0"/>
<circle cx="223.2" cy="730.3" r="4.4" fill="#e0e0e0"/>
<circle cx="505.4" cy="408.7" r="4.4" fill="#e0e0e0"/>
<circle cx="274.5" cy="747.2" r="4.4" fill="#e0e0e0"/>
<circle cx="519.5" cy="378.3" r="4.4" fill="#e0e0e0"/>
<circle cx="302.3" cy="237.1" r="4.4" fill="#e0e0e0"/>
<circle cx="346.0" cy="435.3" r="4.4" fill="#e0e0e0"/>
<circle cx="334.9" cy="266.8" r="4.4" fill="#e0e0e0"/>
<circle cx="483.2" cy="357.9" r="4.4" fill="#e0e0e0"/>
<circle cx="305.1" cy="224.4" r="4.4" fill="#e0e0e0"/>
<circle cx="316.0" cy="377.3" r="4.4" fill="#e0e0e0"/>
<circle cx="271.7" cy="610.8" r="4.4" fill="#e0e0e0"/>
<circle cx="310.6" cy="216.0" r="4.4" fill="#e0e0e0"/>
<circle cx="309.7" cy="619.4" r="4.4" fill="#e0e0e0"/>
<circle cx="279.9" cy="671.8" r="4.4" fill="#e0e0e0"/>
<circle cx="493.7" cy="419.2" r="4.4" fill="#e0e0e0"/>
<circle cx="349.9" cy="427.9" r="4.4" fill="#e0e0e0"/>
<circle cx="353.4" cy="379.7" r="4.4" fill="#e0e0e0"/>
<circle cx="253.8" cy="717.7" r="4.4" fill="#e0e0e0"/>
<circle cx="450.3" cy="226.2" r="4.4" fill="#e0e0e0"/>
<circle cx="195.9" cy="598.5" r="4.4" fill="#e0e0e0"/>
<circle cx="213.3" cy="583.0" r="4.4" fill="#e0e0e0"/>
<circle cx="515.8" cy="407.8" r="4.4" fill="#e0e0e0"/>
<circle cx="489.8" cy="379.5" r="4.4" fill="#e0e0e0"/>
<circle cx="383.2" cy="537.6" r="4.4" fill="#e0e0e0"/>
<circle cx="534.0" cy="411.8" r="4.4" fill="#e0e0e0"/>
<circle cx="504.1" cy="420.3" r="4.4" fill="#e0e0e0"/>
<circle cx="446.3" cy="235.3" r="4.4" fill="#e0e0e0"/>
<circle cx="384.3" cy="261.5" r="4.4" fill="#e0e0e0"/>
<circle cx="150.4" cy="109.1" r="4.4" fill="#d1aab7"/>
<circle cx="528.2" cy="358.6" r="4.4" fill="#d7bec7"/>
<circle cx="252.3" cy="755.4" r="4.4" fill="#c98fa2"/>
<circle cx="333.3" cy="229.2" r="4.4" fill="#cc98a9"/>
<circle cx="452.6" cy="587.1" r="4.4" fill="#ac5672"/>
<circle cx="382.3" cy="730.2" r="4.4" fill="#aa536e"/>
<circle cx="274.3" cy="744.9" r="4.4" fill="#cfa2b1"/>
<circle cx="240.5" cy="124.1" r="4.4" fill="#d0a6b4"/>
<circle cx="498.2" cy="483.3" r="4.4" fill="#c6899d"/>
<circle cx="250.0" cy="764.0" r="4.4" fill="#cd9eae"/>
<circle cx="183.7" cy="257.7" r="4.4" fill="#d0a7b5"/>
<circle cx="358.6" cy="735.2" r="4.4" fill="#a44a66"/>
<circle cx="529.5" cy="373.4" r="4.4" fill="#d9c7ce"/>
<circle cx="219.5" cy="617.8" r="4.4" fill="#cfa2b1"/>
<circle cx="349.2" cy="712.5" r="4.4" fill="#ab5571"/>
<circle cx="284.2" cy="621.5" r="4.4" fill="#cc9aab"/>
<circle cx="493.4" cy="540.3" r="4.4" fill="#ba6c85"/>
<circle cx="162.7" cy="168.6" r="4.4" fill="#d1a9b6"/>
<circle cx="150.7" cy="130.3" r="4.4" fill="#ce9eae"/>
<circle cx="457.9" cy="313.9" r="4.4" fill="#ba6d85"/>
<circle cx="482.3" cy="422.6" r="4.4" fill="#be758c"/>
<circle cx="234.6" cy="224.7" r="4.4" fill="#d3afbc"/>
<circle cx="191.4" cy="280.2" r="4.4" fill="#d7bcc5"/>
<circle cx="467.8" cy="583.7" r="4.4" fill="#b86982"/>
<circle cx="492.6" cy="562.8" r="4.4" fill="#c17d93"/>
<circle cx="353.1" cy="743.8" r="4.4" fill="#8d2848"/>
<circle cx="478.1" cy="503.0" r="4.4" fill="#c27e94"/>
<circle cx="505.1" cy="448.2" r="4.4" fill="#c07990"/>
<circle cx="209.6" cy="609.3" r="4.4" fill="#d9c4cb"/>
<circle cx="383.9" cy="666.7" r="4.4" fill="#cc98a9"/>
<circle cx="346.8" cy="623.0" r="4.4" fill="#ba6c85"/>
<circle cx="443.7" cy="265.5" r="4.4" fill="#bc7189"/>
<circle cx="376.0" cy="740.0" r="4.4" fill="#8b2444"/>
<circle cx="152.5" cy="108.9" r="4.4" fill="#d5b7c1"/>
<circle cx="413.8" cy="319.7" r="4.4" fill="#d8c3cb"/>
<circle cx="232.1" cy="95.7" r="4.4" fill="#d8c1c9"/>
<circle cx="466.3" cy="273.0" r="4.4" fill="#d5b8c2"/>
<circle cx="458.0" cy="324.2" r="4.4" fill="#c98fa2"/>
<circle cx="319.5" cy="403.0" r="4.4" fill="#be758c"/>
<circle cx="472.7" cy="561.0" r="4.4" fill="#c38196"/>
<circle cx="471.2" cy="522.8" r="4.4" fill="#b76780"/>
<circle cx="431.7" cy="265.6" r="4.4" fill="#d0a7b5"/>
<circle cx="310.8" cy="392.6" r="4.4" fill="#ce9faf"/>
<circle cx="488.7" cy="433.3" r="4.4" fill="#c38096"/>
<circle cx="354.8" cy="739.3" r="4.4" fill="#b86882"/>
<circle cx="425.4" cy="246.7" r="4.4" fill="#d5b8c2"/>
<circle cx="199.6" cy="629.7" r="4.4" fill="#cc98a9"/>
<circle cx="495.0" cy="515.3" r="4.4" fill="#b4637d"/>
<circle cx="445.0" cy="320.0" r="4.4" fill="#9f4360"/>
<circle cx="478.4" cy="525.3" r="4.4" fill="#bc728a"/>
<circle cx="328.0" cy="399.3" r="4.4" fill="#ba6c85"/>
<circle cx="480.1" cy="547.5" r="4.4" fill="#b76881"/>
<circle cx="343.0" cy="738.9" r="4.4" fill="#933150"/>
<circle cx="179.9" cy="85.7" r="4.4" fill="#d8c2ca"/>
<circle cx="313.3" cy="398.9" r="4.4" fill="#d3b0bc"/>
<circle cx="187.8" cy="65.8" r="4.4" fill="#cfa2b1"/>
<circle cx="200.1" cy="116.4" r="4.4" fill="#d2aebb"/>
<circle cx="447.5" cy="324.0" r="4.4" fill="#bb6f88"/>
<circle cx="368.1" cy="723.6" r="4.4" fill="#a9516d"/>
<circle cx="433.0" cy="295.0" r="4.4" fill="#9f4360"/>
<circle cx="237.1" cy="111.2" r="4.4" fill="#cc99aa"/>
<circle cx="467.6" cy="569.1" r="4.4" fill="#b3617b"/>
<circle cx="221.3" cy="69.8" r="4.4" fill="#dbcbd1"/>
<circle cx="413.3" cy="306.2" r="4.4" fill="#d9c7cd"/>
<circle cx="524.7" cy="392.1" r="4.4" fill="#d1abb8"/>
<circle cx="317.8" cy="668.2" r="4.4" fill="#c78a9e"/>
<circle cx="152.6" cy="133.0" r="4.4" fill="#cb95a7"/>
<circle cx="494.0" cy="426.3" r="4.4" fill="#cfa3b2"/>
<circle cx="156.8" cy="166.8" r="4.4" fill="#d4b5c0"/>
<circle cx="453.8" cy="586.4" r="4.4" fill="#b05c77"/>
<circle cx="492.0" cy="392.5" r="4.4" fill="#d4b2be"/>
<circle cx="297.0" cy="254.0" r="4.4" fill="#d4b2be"/>
<circle cx="295.1" cy="611.3" r="4.4" fill="#ca93a5"/>
<circle cx="375.7" cy="744.2" r="4.4" fill="#b4627c"/>
<circle cx="169.7" cy="68.0" r="4.4" fill="#d2acb9"/>
<circle cx="192.3" cy="172.8" r="4.4" fill="#d1a9b7"/>
<circle cx="215.7" cy="151.0" r="4.4" fill="#ce9eae"/>
<circle cx="317.3" cy="731.2" r="4.4" fill="#b15d78"/>
<circle cx="465.4" cy="514.3" r="4.4" fill="#bc7189"/>
<circle cx="253.6" cy="748.4" r="4.4" fill="#d4b3be"/>
<circle cx="375.0" cy="735.0" r="4.4" fill="#b6657f"/>
<circle cx="459.7" cy="326.0" r="4.4" fill="#bb6f87"/>
<circle cx="318.2" cy="398.0" r="4.4" fill="#d4b3bf"/>
<circle cx="317.0" cy="366.0" r="4.4" fill="#d7bec7"/>
<circle cx="270.5" cy="641.8" r="4.4" fill="#c27f95"/>
<circle cx="195.9" cy="473.4" r="4.4" fill="#d6bac4"/>
<circle cx="473.6" cy="575.2" r="4.4" fill="#ac5671"/>
<circle cx="391.7" cy="688.6" r="4.4" fill="#ca93a5"/>
<circle cx="327.0" cy="695.6" r="4.4" fill="#bd728a"/>
<circle cx="426.1" cy="263.7" r="4.4" fill="#cfa3b2"/>
<circle cx="345.4" cy="749.0" r="4.4" fill="#953453"/>
<circle cx="471.5" cy="555.3" r="4.4" fill="#b6667f"/>
<circle cx="486.0" cy="536.0" r="4.4" fill="#b3617b"/>
<circle cx="385.5" cy="675.8" r="4.4" fill="#ab5470"/>
<circle cx="322.5" cy="400.5" r="4.4" fill="#cfa4b3"/>
<circle cx="473.2" cy="512.0" r="4.4" fill="#ab5470"/>
<circle cx="329.2" cy="401.4" r="4.4" fill="#b4637d"/>
<circle cx="462.6" cy="487.5" r="4.4" fill="#ae5974"/>
<circle cx="348.5" cy="727.6" r="4.4" fill="#933150"/>
<circle cx="227.7" cy="128.0" r="4.4" fill="#d9c5cc"/>
<circle cx="189.1" cy="122.7" r="4.4" fill="#dbccd2"/>
<circle cx="163.0" cy="88.6" r="4.4" fill="#c88da0"/>
<circle cx="312.4" cy="400.7" r="4.4" fill="#bc7189"/>
<circle cx="387.5" cy="668.9" r="4.4" fill="#bf788f"/>
<circle cx="469.4" cy="558.7" r="4.4" fill="#b3617b"/>
<circle cx="359.9" cy="749.8" r="4.4" fill="#8b2445"/>
<circle cx="152.7" cy="90.2" r="4.4" fill="#c98fa2"/>
<circle cx="201.5" cy="603.8" r="4.4" fill="#cd9dad"/>
<circle cx="402.5" cy="318.1" r="4.4" fill="#d5b7c2"/>
<circle cx="463.0" cy="584.1" r="4.4" fill="#ac5672"/>
<circle cx="346.5" cy="739.0" r="4.4" fill="#a8506c"/>
<circle cx="186.9" cy="183.4" r="4.4" fill="#d1a9b7"/>
<circle cx="316.7" cy="393.8" r="4.4" fill="#c5859a"/>
<circle cx="495.4" cy="474.6" r="4.4" fill="#d2acb9"/>
<circle cx="475.6" cy="514.7" r="4.4" fill="#a24764"/>
<circle cx="475.3" cy="541.7" r="4.4" fill="#ab5571"/>
<circle cx="317.7" cy="729.9" r="4.4" fill="#b05c77"/>
<circle cx="490.8" cy="533.1" r="4.4" fill="#c48398"/>
<circle cx="288.6" cy="638.1" r="4.4" fill="#c6879c"/>
<circle cx="449.1" cy="294.1" r="4.4" fill="#cea0b0"/>
<circle cx="220.3" cy="249.9" r="4.4" fill="#d1a9b7"/>
<circle cx="186.0" cy="166.6" r="4.4" fill="#dbccd1"/>
<circle cx="270.2" cy="774.0" r="4.4" fill="#d4b4bf"/>
<circle cx="353.4" cy="735.2" r="4.4" fill="#8e2949"/>
<circle cx="181.5" cy="70.6" r="4.4" fill="#d8c3cb"/>
<circle cx="475.4" cy="499.4" r="4.4" fill="#ac5671"/>
<circle cx="534.3" cy="411.8" r="4.4" fill="#d8c3cb"/>
<circle cx="285.0" cy="601.7" r="4.4" fill="#d0a5b4"/>
<circle cx="445.0" cy="277.3" r="4.4" fill="#be768d"/>
<circle cx="177.0" cy="186.7" r="4.4" fill="#d1abb8"/>
<circle cx="247.8" cy="640.5" r="4.4" fill="#cfa2b1"/>
<circle cx="391.3" cy="665.3" r="4.4" fill="#a24663"/>
<circle cx="323.8" cy="375.3" r="4.4" fill="#cd9cac"/>
<circle cx="349.5" cy="724.3" r="4.4" fill="#a04361"/>
<circle cx="272.3" cy="673.3" r="4.4" fill="#c990a3"/>
<circle cx="481.0" cy="570.5" r="4.4" fill="#b05d77"/>
<circle cx="343.8" cy="725.9" r="4.4" fill="#ac5671"/>
<circle cx="366.9" cy="729.0" r="4.4" fill="#943251"/>
<circle cx="174.8" cy="86.6" r="4.4" fill="#d6bcc5"/>
<circle cx="427.3" cy="277.1" r="4.4" fill="#c88da0"/>
<circle cx="280.7" cy="657.3" r="4.4" fill="#d1aab7"/>
<circle cx="471.7" cy="374.0" r="4.4" fill="#c88ca0"/>
<circle cx="334.0" cy="604.5" r="4.4" fill="#bd748b"/>
<circle cx="338.5" cy="719.9" r="4.4" fill="#b05c77"/>
<circle cx="225.2" cy="63.0" r="4.4" fill="#d4b3bf"/>
<circle cx="479.9" cy="565.9" r="4.4" fill="#bd738b"/>
<circle cx="182.3" cy="128.8" r="4.4" fill="#dbccd1"/>
<circle cx="343.8" cy="618.1" r="4.4" fill="#b76781"/>
<circle cx="324.2" cy="655.6" r="4.4" fill="#be768d"/>
<circle cx="365.5" cy="738.2" r="4.4" fill="#b4627c"/>
<circle cx="231.1" cy="179.6" r="4.4" fill="#dac8ce"/>
<circle cx="469.6" cy="565.6" r="4.4" fill="#ac5672"/>
<circle cx="532.9" cy="353.5" r="4.4" fill="#d2aeba"/>
<circle cx="327.4" cy="698.6" r="4.4" fill="#af5b76"/>
<circle cx="392.1" cy="688.0" r="4.4" fill="#a24663"/>
<circle cx="326.2" cy="226.0" r="4.4" fill="#d6bbc5"/>
<circle cx="151.2" cy="88.4" r="4.4" fill="#c5869a"/>
<circle cx="470.2" cy="572.2" r="4.4" fill="#af5b76"/>
<circle cx="406.3" cy="309.7" r="4.4" fill="#d0a6b4"/>
<circle cx="246.2" cy="690.6" r="4.4" fill="#d1abb8"/>
<circle cx="342.8" cy="744.8" r="4.4" fill="#93304f"/>
<circle cx="162.3" cy="79.8" r="4.4" fill="#cb95a7"/>
<circle cx="353.7" cy="747.7" r="4.4" fill="#8e2949"/>
<circle cx="361.7" cy="753.0" r="4.4" fill="#a54b67"/>
<circle cx="477.7" cy="554.6" r="4.4" fill="#b4627c"/>
<circle cx="329.1" cy="671.8" r="4.4" fill="#c17c92"/>
<circle cx="327.8" cy="277.3" r="4.4" fill="#d7bdc6"/>
<circle cx="462.2" cy="251.3" r="4.4" fill="#c88da1"/>
<circle cx="347.2" cy="745.9" r="4.4" fill="#9f4260"/>
<circle cx="247.8" cy="639.0" r="4.4" fill="#d8c0c8"/>
<circle cx="382.0" cy="738.2" r="4.4" fill="#93304f"/>
<circle cx="484.7" cy="505.5" r="4.4" fill="#c5869a"/>
<circle cx="220.5" cy="122.8" r="4.4" fill="#d4b2be"/>
<circle cx="295.6" cy="225.0" r="4.4" fill="#cc98a9"/>
<circle cx="163.9" cy="155.4" r="4.4" fill="#cea0af"/>
<circle cx="476.2" cy="500.8" r="4.4" fill="#ab5570"/>
<circle cx="272.0" cy="754.0" r="4.4" fill="#cfa4b3"/>
<circle cx="222.4" cy="153.0" r="4.4" fill="#d3b1bd"/>
<circle cx="469.4" cy="577.7" r="4.4" fill="#ac5672"/>
<circle cx="536.7" cy="356.7" r="4.4" fill="#d7bec7"/>
<circle cx="178.3" cy="117.3" r="4.4" fill="#dcd0d4"/>
<circle cx="359.4" cy="730.1" r="4.4" fill="#9e415f"/>
<circle cx="347.3" cy="725.5" r="4.4" fill="#a34865"/>
<circle cx="495.7" cy="530.2" r="4.4" fill="#c48398"/>
<circle cx="318.4" cy="383.7" r="4.4" fill="#d1aab8"/>
<circle cx="458.8" cy="590.3" r="4.4" fill="#c07a90"/>
<circle cx="337.8" cy="713.3" r="4.4" fill="#b2607b"/>
<circle cx="163.2" cy="124.3" r="4.4" fill="#d7bcc6"/>
<circle cx="501.2" cy="460.1" r="4.4" fill="#cd9eae"/>
<circle cx="357.3" cy="721.0" r="4.4" fill="#9c3d5b"/>
<circle cx="475.8" cy="526.8" r="4.4" fill="#aa536f"/>
<circle cx="478.9" cy="512.0" r="4.4" fill="#c27e94"/>
<circle cx="325.6" cy="697.2" r="4.4" fill="#af5b76"/>
<circle cx="468.4" cy="508.6" r="4.4" fill="#b86983"/>
<circle cx="515.3" cy="350.9" r="4.4" fill="#d8c2ca"/>
<circle cx="345.1" cy="723.3" r="4.4" fill="#912d4d"/>
<circle cx="437.7" cy="304.3" r="4.4" fill="#ba6d86"/>
<circle cx="344.4" cy="615.9" r="4.4" fill="#c6889c"/>
<circle cx="469.8" cy="498.2" r="4.4" fill="#bf788f"/>
<circle cx="361.3" cy="727.0" r="4.4" fill="#b25f7a"/>
<circle cx="474.6" cy="531.8" r="4.4" fill="#c07a90"/>
<circle cx="357.4" cy="742.8" r="4.4" fill="#af5a75"/>
<circle cx="175.3" cy="472.5" r="4.4" fill="#dac9cf"/>
<circle cx="500.6" cy="483.7" r="4.4" fill="#d0a7b5"/>
<circle cx="417.4" cy="299.0" r="4.4" fill="#d1aab7"/>
<circle cx="494.2" cy="517.5" r="4.4" fill="#c5859a"/>
<circle cx="377.5" cy="745.2" r="4.4" fill="#a8506c"/>
<circle cx="347.6" cy="715.7" r="4.4" fill="#aa536f"/>
<circle cx="328.1" cy="697.1" r="4.4" fill="#b05c77"/>
<circle cx="468.5" cy="508.2" r="4.4" fill="#ba6c85"/>
<circle cx="367.8" cy="737.1" r="4.4" fill="#973655"/>
<circle cx="491.1" cy="509.9" r="4.4" fill="#ba6c85"/>
<circle cx="338.8" cy="611.6" r="4.4" fill="#ae5974"/>
<circle cx="310.4" cy="731.4" r="4.4" fill="#973654"/>
<circle cx="175.7" cy="196.1" r="4.4" fill="#d3afbb"/>
<circle cx="141.1" cy="429.2" r="4.4" fill="#d9c4cb"/>
<circle cx="300.8" cy="724.2" r="4.4" fill="#973655"/>
<circle cx="162.9" cy="255.8" r="4.4" fill="#d3b2bd"/>
<circle cx="355.1" cy="732.9" r="4.4" fill="#973755"/>
<circle cx="424.1" cy="261.1" r="4.4" fill="#c88da0"/>
<circle cx="315.2" cy="393.0" r="4.4" fill="#ba6d86"/>
<circle cx="442.8" cy="262.4" r="4.4" fill="#b76881"/>
<circle cx="493.3" cy="534.7" r="4.4" fill="#b15f79"/>
<circle cx="321.4" cy="691.6" r="4.4" fill="#c27e94"/>
<circle cx="337.9" cy="618.0" r="4.4" fill="#b3617b"/>
<circle cx="495.7" cy="458.9" r="4.4" fill="#c07990"/>
<circle cx="295.3" cy="725.0" r="4.4" fill="#b3627c"/>
<circle cx="150.1" cy="125.8" r="4.4" fill="#cc99aa"/>
<circle cx="255.8" cy="715.0" r="4.4" fill="#d9c4cc"/>
<circle cx="187.8" cy="175.3" r="4.4" fill="#d5b6c1"/>
<circle cx="160.9" cy="122.9" r="4.4" fill="#d5b5c0"/>
<circle cx="340.8" cy="359.8" r="4.4" fill="#d6bbc5"/>
<circle cx="444.1" cy="302.4" r="4.4" fill="#ca91a3"/>
<circle cx="300.1" cy="732.6" r="4.4" fill="#9f415f"/>
<circle cx="457.0" cy="294.6" r="4.4" fill="#b86882"/>
<circle cx="373.4" cy="250.3" r="4.4" fill="#d2aebb"/>
<circle cx="472.9" cy="521.0" r="4.4" fill="#c27f94"/>
<circle cx="234.0" cy="144.4" r="4.4" fill="#d7bfc8"/>
<circle cx="241.8" cy="122.6" r="4.4" fill="#cd9bab"/>
<circle cx="375.5" cy="730.6" r="4.4" fill="#a04360"/>
<circle cx="365.0" cy="728.0" r="4.4" fill="#871d3e"/>
<circle cx="157.5" cy="145.9" r="4.4" fill="#d9c4cb"/>
<circle cx="445.3" cy="274.8" r="4.4" fill="#d1a9b7"/>
<circle cx="520.8" cy="364.6" r="4.4" fill="#cd9dad"/>
<circle cx="461.7" cy="479.2" r="4.4" fill="#ad5873"/>
<circle cx="362.4" cy="714.2" r="4.4" fill="#9f425f"/>
<circle cx="317.8" cy="659.1" r="4.4" fill="#bf778e"/>
<circle cx="321.5" cy="704.0" r="4.4" fill="#c48298"/>
<circle cx="463.6" cy="246.2" r="4.4" fill="#cb95a7"/>
<circle cx="416.7" cy="315.8" r="4.4" fill="#d0a6b4"/>
<circle cx="502.1" cy="384.8" r="4.4" fill="#d4b5c0"/>
<circle cx="325.0" cy="392.2" r="4.4" fill="#c78b9f"/>
<circle cx="320.3" cy="402.8" r="4.4" fill="#d2adba"/>
<circle cx="469.9" cy="531.5" r="4.4" fill="#ba6c85"/>
<circle cx="313.6" cy="384.2" r="4.4" fill="#d9c5cc"/>
<circle cx="334.0" cy="392.8" r="4.4" fill="#d8c1c9"/>
<circle cx="491.4" cy="560.6" r="4.4" fill="#ad5772"/>
<circle cx="442.5" cy="367.5" r="4.4" fill="#b4627c"/>
<circle cx="468.9" cy="572.6" r="4.4" fill="#aa536e"/>
<circle cx="490.2" cy="514.4" r="4.4" fill="#a44a66"/>
<circle cx="309.4" cy="732.5" r="4.4" fill="#b05d77"/>
<circle cx="305.3" cy="721.8" r="4.4" fill="#a74f6b"/>
<circle cx="464.1" cy="501.1" r="4.4" fill="#a24764"/>
<circle cx="445.4" cy="276.5" r="4.4" fill="#c98ea1"/>
<circle cx="205.8" cy="143.8" r="4.4" fill="#cfa4b3"/>
<circle cx="385.0" cy="716.7" r="4.4" fill="#b4627c"/>
<circle cx="195.7" cy="198.8" r="4.4" fill="#d9c6cd"/>
<circle cx="302.6" cy="730.7" r="4.4" fill="#993a58"/>
<circle cx="489.4" cy="550.8" r="4.4" fill="#ac5672"/>
<circle cx="467.7" cy="505.0" r="4.4" fill="#be748c"/>
<circle cx="187.3" cy="209.7" r="4.4" fill="#d6bac4"/>
<circle cx="312.1" cy="396.6" r="4.4" fill="#bf788f"/>
<circle cx="534.2" cy="350.9" r="4.4" fill="#cfa4b2"/>
<circle cx="172.4" cy="164.5" r="4.4" fill="#ce9eae"/>
<circle cx="256.4" cy="617.9" r="4.4" fill="#ca92a4"/>
<circle cx="337.5" cy="282.0" r="4.4" fill="#bf778e"/>
<circle cx="335.0" cy="356.7" r="4.4" fill="#d2abb8"/>
<circle cx="262.4" cy="779.6" r="4.4" fill="#d6bbc5"/>
<circle cx="463.9" cy="583.6" r="4.4" fill="#ac5672"/>
<circle cx="498.6" cy="475.6" r="4.4" fill="#ba6c85"/>
<circle cx="459.8" cy="262.8" r="4.4" fill="#cc98a9"/>
<circle cx="321.2" cy="672.3" r="4.4" fill="#be758d"/>
<circle cx="267.5" cy="624.9" r="4.4" fill="#d4b2be"/>
<circle cx="327.7" cy="409.2" r="4.4" fill="#b76881"/>
<circle cx="230.7" cy="586.7" r="4.4" fill="#d4b3bf"/>
<circle cx="204.8" cy="623.2" r="4.4" fill="#d5b8c2"/>
<circle cx="381.1" cy="269.0" r="4.4" fill="#cc9aab"/>
<circle cx="155.6" cy="137.3" r="4.4" fill="#d4b2be"/>
<circle cx="473.2" cy="541.7" r="4.4" fill="#be758c"/>
<circle cx="518.6" cy="395.1" r="4.4" fill="#d7bdc6"/>
<circle cx="489.0" cy="435.0" r="4.4" fill="#c48398"/>
<circle cx="266.3" cy="706.6" r="4.4" fill="#d1a8b6"/>
<circle cx="421.3" cy="245.3" r="4.4" fill="#d3b2bd"/>
<circle cx="170.8" cy="472.8" r="4.4" fill="#d4b2be"/>
<circle cx="327.2" cy="318.4" r="4.4" fill="#d1a9b6"/>
<circle cx="152.7" cy="110.8" r="4.4" fill="#ca91a3"/>
<circle cx="437.5" cy="287.7" r="4.4" fill="#be768d"/>
<circle cx="448.0" cy="352.5" r="4.4" fill="#c38297"/>
<circle cx="345.3" cy="725.9" r="4.4" fill="#8e2949"/>
<circle cx="491.3" cy="506.7" r="4.4" fill="#be748c"/>
<circle cx="256.6" cy="784.8" r="4.4" fill="#d2aeba"/>
<circle cx="375.5" cy="719.0" r="4.4" fill="#b2607a"/>
<circle cx="275.3" cy="734.5" r="4.4" fill="#d0a6b4"/>
<circle cx="341.7" cy="611.4" r="4.4" fill="#c6889c"/>
<circle cx="470.1" cy="510.6" r="4.4" fill="#b05d77"/>
<circle cx="185.1" cy="188.0" r="4.4" fill="#dcd1d5"/>
<circle cx="475.0" cy="372.5" r="4.4" fill="#cc98a9"/>
<circle cx="330.7" cy="606.9" r="4.4" fill="#b2607a"/>
<circle cx="378.9" cy="244.1" r="4.4" fill="#cfa4b3"/>
<circle cx="186.8" cy="99.9" r="4.4" fill="#d3b1bd"/>
<circle cx="390.2" cy="641.2" r="4.4" fill="#c78b9f"/>
<circle cx="213.7" cy="126.2" r="4.4" fill="#d3afbb"/>
<circle cx="271.0" cy="747.1" r="4.4" fill="#d8c0c8"/>
<circle cx="494.1" cy="539.5" r="4.4" fill="#ac5671"/>
<circle cx="354.9" cy="711.1" r="4.4" fill="#a84f6c"/>
<circle cx="443.2" cy="240.5" r="4.4" fill="#cc99aa"/>
<circle cx="492.4" cy="532.4" r="4.4" fill="#b76780"/>
<circle cx="198.9" cy="164.9" r="4.4" fill="#cfa2b1"/>
<circle cx="154.7" cy="106.0" r="4.4" fill="#c6899d"/>
<circle cx="465.4" cy="512.8" r="4.4" fill="#af5b76"/>
<circle cx="473.7" cy="501.4" r="4.4" fill="#ba6c85"/>
<circle cx="351.8" cy="750.7" r="4.4" fill="#af5b76"/>
<circle cx="428.1" cy="264.7" r="4.4" fill="#c27f94"/>
<circle cx="301.1" cy="725.0" r="4.4" fill="#a04360"/>
<circle cx="348.0" cy="622.6" r="4.4" fill="#b86982"/>
<circle cx="489.9" cy="528.9" r="4.4" fill="#b3607b"/>
<circle cx="322.0" cy="378.1" r="4.4" fill="#d3afbb"/>
<circle cx="497.7" cy="465.6" r="4.4" fill="#b5647e"/>
<circle cx="443.0" cy="292.0" r="4.4" fill="#d0a6b4"/>
<circle cx="365.5" cy="728.7" r="4.4" fill="#9f4360"/>
<circle cx="354.9" cy="709.1" r="4.4" fill="#b76881"/>
<circle cx="225.0" cy="760.1" r="4.4" fill="#c88da0"/>
<circle cx="489.1" cy="549.0" r="4.4" fill="#c48398"/>
<circle cx="185.4" cy="199.3" r="4.4" fill="#d8c0c8"/>
<circle cx="193.9" cy="82.0" r="4.4" fill="#d5b8c2"/>
<circle cx="464.9" cy="243.4" r="4.4" fill="#cea0af"/>
<circle cx="489.3" cy="457.7" r="4.4" fill="#c07b91"/>
<circle cx="350.5" cy="748.9" r="4.4" fill="#9e415f"/>
<circle cx="297.4" cy="623.8" r="4.4" fill="#d4b3be"/>
<circle cx="180.9" cy="206.4" r="4.4" fill="#d1a9b7"/>
<circle cx="266.7" cy="628.1" r="4.4" fill="#ce9faf"/>
<circle cx="187.8" cy="113.5" r="4.4" fill="#cc9aab"/>
<circle cx="465.9" cy="518.2" r="4.4" fill="#ad5873"/>
<circle cx="211.4" cy="105.9" r="4.4" fill="#d8c2ca"/>
<circle cx="321.1" cy="654.7" r="4.4" fill="#c48499"/>
<circle cx="306.7" cy="118.3" r="4.4" fill="#d0a5b4"/>
<circle cx="196.5" cy="83.7" r="4.4" fill="#d1a9b7"/>
<circle cx="166.3" cy="86.4" r="4.4" fill="#d5b6c1"/>
<circle cx="454.0" cy="260.2" r="4.4" fill="#ca91a4"/>
<circle cx="499.7" cy="451.1" r="4.4" fill="#b4627c"/>
<circle cx="200.9" cy="139.4" r="4.4" fill="#dbced3"/>
<circle cx="495.1" cy="438.9" r="4.4" fill="#cb97a8"/>
<circle cx="213.4" cy="165.1" r="4.4" fill="#d2acb9"/>
<circle cx="449.8" cy="269.7" r="4.4" fill="#d3b2bd"/>
<circle cx="211.0" cy="85.7" r="4.4" fill="#d9c7ce"/>
<circle cx="450.2" cy="331.4" r="4.4" fill="#c88da0"/>
<circle cx="195.3" cy="101.0" r="4.4" fill="#ce9faf"/>
<circle cx="347.9" cy="709.8" r="4.4" fill="#8d2847"/>
<circle cx="356.8" cy="716.9" r="4.4" fill="#8e2949"/>
<circle cx="481.7" cy="373.3" r="4.4" fill="#c38297"/>
<circle cx="151.2" cy="149.3" r="4.4" fill="#d3b1bd"/>
<circle cx="234.6" cy="262.8" r="4.4" fill="#d6bac4"/>
<circle cx="471.9" cy="528.6" r="4.4" fill="#a9516d"/>
<circle cx="501.0" cy="456.3" r="4.4" fill="#cfa4b3"/>
<circle cx="467.3" cy="496.3" r="4.4" fill="#bc7089"/>
<circle cx="458.9" cy="246.2" r="4.4" fill="#cb96a7"/>
<circle cx="534.5" cy="376.1" r="4.4" fill="#d1a8b6"/>
<circle cx="492.4" cy="337.6" r="4.4" fill="#d4b4c0"/>
<circle cx="508.8" cy="408.4" r="4.4" fill="#d1a8b6"/>
<circle cx="350.8" cy="738.8" r="4.4" fill="#9c3e5c"/>
<circle cx="437.0" cy="278.0" r="4.4" fill="#9f4360"/>
<circle cx="354.3" cy="373.6" r="4.4" fill="#d5b7c2"/>
<circle cx="214.8" cy="191.8" r="4.4" fill="#d0a5b4"/>
<circle cx="162.8" cy="149.2" r="4.4" fill="#d4b5c0"/>
<circle cx="208.4" cy="66.1" r="4.4" fill="#d6bbc5"/>
<circle cx="367.8" cy="725.2" r="4.4" fill="#a04361"/>
<circle cx="469.4" cy="298.0" r="4.4" fill="#c98ea2"/>
<circle cx="444.0" cy="343.0" r="4.4" fill="#cc98a9"/>
<circle cx="356.9" cy="748.2" r="4.4" fill="#a44a67"/>
<circle cx="377.8" cy="740.1" r="4.4" fill="#a9516d"/>
<circle cx="487.4" cy="569.4" r="4.4" fill="#b05d78"/>
<circle cx="450.8" cy="324.0" r="4.4" fill="#b96b84"/>
<circle cx="493.7" cy="531.6" r="4.4" fill="#bd748b"/>
<circle cx="472.1" cy="500.7" r="4.4" fill="#ab5571"/>
<circle cx="343.6" cy="707.7" r="4.4" fill="#ae5974"/>
<circle cx="208.7" cy="191.5" r="4.4" fill="#d9c4cc"/>
<circle cx="257.2" cy="667.6" r="4.4" fill="#c5869b"/>
<circle cx="328.1" cy="611.7" r="4.4" fill="#a74e6b"/>
<circle cx="347.4" cy="717.1" r="4.4" fill="#b76781"/>
<circle cx="461.6" cy="299.1" r="4.4" fill="#b96a83"/>
<circle cx="332.0" cy="617.9" r="4.4" fill="#be768d"/>
<circle cx="330.0" cy="400.3" r="4.4" fill="#d9c5cc"/>
<circle cx="374.3" cy="736.3" r="4.4" fill="#8d2848"/>
<circle cx="176.8" cy="82.4" r="4.4" fill="#d1abb8"/>
<circle cx="474.8" cy="553.3" r="4.4" fill="#bc7088"/>
<circle cx="477.9" cy="522.9" r="4.4" fill="#c38196"/>
<circle cx="362.9" cy="738.5" r="4.4" fill="#ae5974"/>
<circle cx="204.7" cy="634.7" r="4.4" fill="#cd9cac"/>
<circle cx="191.0" cy="123.8" r="4.4" fill="#cd9cac"/>
<circle cx="468.0" cy="488.3" r="4.4" fill="#a9516d"/>
<circle cx="252.9" cy="722.7" r="4.4" fill="#d8c1c9"/>
<circle cx="378.2" cy="730.0" r="4.4" fill="#ab5571"/>
<circle cx="361.5" cy="739.1" r="4.4" fill="#a54c68"/>
<circle cx="181.4" cy="148.7" r="4.4" fill="#d4b3bf"/>
<circle cx="480.7" cy="569.9" r="4.4" fill="#ba6d86"/>
<circle cx="163.9" cy="108.5" r="4.4" fill="#d8c3cb"/>
<circle cx="492.7" cy="543.0" r="4.4" fill="#bd738b"/>
<circle cx="486.0" cy="564.9" r="4.4" fill="#bf778e"/>
<circle cx="217.6" cy="723.5" r="4.4" fill="#d7bfc8"/>
<circle cx="174.9" cy="167.4" r="4.4" fill="#dcd2d5"/>
<circle cx="296.7" cy="253.3" r="4.4" fill="#d4b2be"/>
<circle cx="237.3" cy="123.8" r="4.4" fill="#d3b1bd"/>
<circle cx="202.3" cy="175.2" r="4.4" fill="#d8c2ca"/>
<circle cx="243.0" cy="621.7" r="4.4" fill="#ca93a5"/>
<circle cx="499.4" cy="404.1" r="4.4" fill="#d6bbc4"/>
<circle cx="350.1" cy="344.8" r="4.4" fill="#d3b1bd"/>
<circle cx="488.9" cy="543.6" r="4.4" fill="#c38096"/>
<circle cx="284.8" cy="789.1" r="4.4" fill="#922e4e"/>
<circle cx="489.8" cy="445.7" r="4.4" fill="#c6899d"/>
<circle cx="444.1" cy="316.8" r="4.4" fill="#d3b1bd"/>
<circle cx="219.3" cy="59.2" r="4.4" fill="#dbccd1"/>
<circle cx="200.8" cy="119.4" r="4.4" fill="#dbccd1"/>
<circle cx="190.5" cy="128.3" r="4.4" fill="#d7bdc6"/>
<circle cx="154.4" cy="106.3" r="4.4" fill="#cfa2b1"/>
<circle cx="152.2" cy="152.6" r="4.4" fill="#cb95a7"/>
<circle cx="282.8" cy="628.4" r="4.4" fill="#d3afbb"/>
<circle cx="171.8" cy="478.1" r="4.4" fill="#d8c2ca"/>
<circle cx="316.3" cy="731.9" r="4.4" fill="#b86982"/>
<circle cx="188.5" cy="134.8" r="4.4" fill="#dbced2"/>
<circle cx="447.0" cy="332.0" r="4.4" fill="#993957"/>
<circle cx="325.7" cy="381.4" r="4.4" fill="#cc9aab"/>
<circle cx="336.0" cy="392.6" r="4.4" fill="#d4b2be"/>
<circle cx="181.9" cy="125.4" r="4.4" fill="#d3b0bc"/>
<circle cx="364.3" cy="748.9" r="4.4" fill="#a24663"/>
<circle cx="380.0" cy="725.0" r="4.4" fill="#a04361"/>
<circle cx="173.9" cy="100.7" r="4.4" fill="#d3b2bd"/>
<circle cx="364.6" cy="717.6" r="4.4" fill="#973655"/>
<circle cx="150.2" cy="104.4" r="4.4" fill="#d7bfc8"/>
<circle cx="351.5" cy="753.5" r="4.4" fill="#9b3c5a"/>
<circle cx="473.0" cy="404.0" r="4.4" fill="#d4b2be"/>
<circle cx="461.8" cy="249.5" r="4.4" fill="#cb95a7"/>
<circle cx="495.3" cy="428.2" r="4.4" fill="#c78b9f"/>
<circle cx="475.2" cy="562.5" r="4.4" fill="#bd738b"/>
<circle cx="441.1" cy="304.1" r="4.4" fill="#d3aebb"/>
<circle cx="441.9" cy="283.1" r="4.4" fill="#c38297"/>
<circle cx="474.8" cy="559.1" r="4.4" fill="#ba6d86"/>
<circle cx="326.1" cy="388.0" r="4.4" fill="#c48297"/>
<circle cx="329.1" cy="619.8" r="4.4" fill="#bb6f87"/>
<circle cx="344.1" cy="738.3" r="4.4" fill="#a04361"/>
<circle cx="487.8" cy="324.8" r="4.4" fill="#c88ca0"/>
<circle cx="335.0" cy="647.2" r="4.4" fill="#ba6b84"/>
<circle cx="192.0" cy="172.1" r="4.4" fill="#dbccd1"/>
<circle cx="536.5" cy="388.6" r="4.4" fill="#d1aab7"/>
<circle cx="197.6" cy="170.5" r="4.4" fill="#d1a9b7"/>
<circle cx="469.5" cy="508.5" r="4.4" fill="#bd738b"/>
<circle cx="472.2" cy="548.6" r="4.4" fill="#c5869a"/>
<circle cx="487.1" cy="438.4" r="4.4" fill="#be758d"/>
<circle cx="472.5" cy="404.2" r="4.4" fill="#d0a5b4"/>
<circle cx="379.0" cy="256.4" r="4.4" fill="#d1abb8"/>
<circle cx="237.9" cy="624.2" r="4.4" fill="#d7bcc6"/>
<circle cx="504.4" cy="452.9" r="4.4" fill="#cd9bab"/>
<circle cx="492.1" cy="559.4" r="4.4" fill="#b15f79"/>
<circle cx="493.8" cy="443.4" r="4.4" fill="#b6667f"/>
<circle cx="355.7" cy="742.4" r="4.4" fill="#943251"/>
<circle cx="451.8" cy="588.4" r="4.4" fill="#c27f95"/>
<circle cx="328.7" cy="618.7" r="4.4" fill="#bd728a"/>
<circle cx="213.1" cy="101.6" r="4.4" fill="#d1a8b6"/>
<circle cx="401.2" cy="321.0" r="4.4" fill="#cea1b0"/>
<circle cx="200.0" cy="180.0" r="4.4" fill="#d7bcc6"/>
<circle cx="436.5" cy="280.2" r="4.4" fill="#c48499"/>
<circle cx="349.7" cy="345.8" r="4.4" fill="#cc99aa"/>
<circle cx="310.6" cy="386.0" r="4.4" fill="#d1aab8"/>
<circle cx="313.1" cy="399.2" r="4.4" fill="#d9c5cc"/>
<circle cx="360.6" cy="739.9" r="4.4" fill="#b25f79"/>
<circle cx="161.1" cy="134.3" r="4.4" fill="#cb97a8"/>
<circle cx="485.5" cy="429.4" r="4.4" fill="#b76881"/>
<circle cx="338.5" cy="350.8" r="4.4" fill="#dac9cf"/>
<circle cx="302.4" cy="722.7" r="4.4" fill="#b25f79"/>
<circle cx="391.7" cy="652.0" r="4.4" fill="#b3617b"/>
<circle cx="460.9" cy="254.0" r="4.4" fill="#c98fa2"/>
<circle cx="480.8" cy="342.7" r="4.4" fill="#d0a6b4"/>
<circle cx="157.4" cy="158.8" r="4.4" fill="#d4b4bf"/>
<circle cx="185.9" cy="77.1" r="4.4" fill="#d9c6cd"/>
<circle cx="458.1" cy="287.2" r="4.4" fill="#ca92a4"/>
<circle cx="245.1" cy="665.3" r="4.4" fill="#cc9aab"/>
<circle cx="266.1" cy="644.7" r="4.4" fill="#c48398"/>
<circle cx="211.5" cy="514.5" r="4.4" fill="#d6bac4"/>
<circle cx="226.2" cy="118.6" r="4.4" fill="#d7bec7"/>
<circle cx="365.9" cy="750.0" r="4.4" fill="#9c3e5c"/>
<circle cx="218.0" cy="56.9" r="4.4" fill="#d6bbc5"/>
<circle cx="455.6" cy="579.5" r="4.4" fill="#b2607a"/>
<circle cx="491.8" cy="431.2" r="4.4" fill="#c17d93"/>
<circle cx="357.0" cy="371.9" r="4.4" fill="#d6bac4"/>
<circle cx="265.3" cy="638.6" r="4.4" fill="#d2abb8"/>
<circle cx="218.4" cy="602.4" r="4.4" fill="#c88da0"/>
<circle cx="489.0" cy="546.0" r="4.4" fill="#b15e79"/>
<circle cx="463.3" cy="535.0" r="4.4" fill="#b4627c"/>
<circle cx="270.6" cy="756.3" r="4.4" fill="#d7bfc8"/>
<circle cx="380.2" cy="739.9" r="4.4" fill="#9b3c5a"/>
<circle cx="441.0" cy="270.5" r="4.4" fill="#b96a83"/>
<circle cx="486.0" cy="511.8" r="4.4" fill="#bf778e"/>
<circle cx="239.0" cy="756.1" r="4.4" fill="#d7bec7"/>
<circle cx="151.5" cy="114.2" r="4.4" fill="#c98ea1"/>
<circle cx="187.4" cy="80.4" r="4.4" fill="#d9c7ce"/>
<circle cx="493.5" cy="510.1" r="4.4" fill="#a44966"/>
<circle cx="480.0" cy="514.0" r="4.4" fill="#bf798f"/>
<circle cx="469.1" cy="530.2" r="4.4" fill="#c48398"/>
<circle cx="301.6" cy="726.7" r="4.4" fill="#b86982"/>
<circle cx="392.9" cy="693.8" r="4.4" fill="#ad5772"/>
<circle cx="486.9" cy="533.3" r="4.4" fill="#ae5a75"/>
<circle cx="161.4" cy="195.8" r="4.4" fill="#d2acb9"/>
<circle cx="192.2" cy="114.7" r="4.4" fill="#d2aeba"/>
<circle cx="381.2" cy="728.1" r="4.4" fill="#9a3b59"/>
<circle cx="329.1" cy="679.2" r="4.4" fill="#c5859a"/>
<circle cx="479.6" cy="420.1" r="4.4" fill="#d0a7b5"/>
<circle cx="324.2" cy="373.9" r="4.4" fill="#d7bfc8"/>
<circle cx="343.4" cy="709.4" r="4.4" fill="#a9516d"/>
<circle cx="371.0" cy="711.0" r="4.4" fill="#85183a"/>
<circle cx="157.1" cy="159.0" r="4.4" fill="#d5b6c1"/>
<circle cx="480.4" cy="559.4" r="4.4" fill="#bb6e86"/>
<circle cx="163.5" cy="158.3" r="4.4" fill="#d0a6b4"/>
<circle cx="221.3" cy="667.8" r="4.4" fill="#d3afbb"/>
<circle cx="196.1" cy="184.2" r="4.4" fill="#d5b5c0"/>
<circle cx="229.2" cy="163.8" r="4.4" fill="#d0a5b3"/>
<circle cx="387.6" cy="648.6" r="4.4" fill="#c48398"/>
<circle cx="153.3" cy="95.4" r="4.4" fill="#ce9eae"/>
<circle cx="388.1" cy="272.7" r="4.4" fill="#d3b0bc"/>
<circle cx="378.2" cy="723.8" r="4.4" fill="#9c3e5c"/>
<circle cx="482.3" cy="432.0" r="4.4" fill="#cc9aab"/>
<circle cx="368.5" cy="216.4" r="4.4" fill="#cc98a9"/>
<circle cx="492.4" cy="516.4" r="4.4" fill="#bf788f"/>
<circle cx="260.7" cy="724.0" r="4.4" fill="#d0a6b4"/>
<circle cx="386.2" cy="661.0" r="4.4" fill="#b5637d"/>
<circle cx="492.0" cy="415.8" r="4.4" fill="#c27f95"/>
<circle cx="348.0" cy="721.1" r="4.4" fill="#b5647e"/>
<circle cx="484.1" cy="541.0" r="4.4" fill="#b5657f"/>
<circle cx="345.3" cy="708.9" r="4.4" fill="#8e2949"/>
<circle cx="299.4" cy="729.4" r="4.4" fill="#b15e79"/>
<circle cx="316.1" cy="395.9" r="4.4" fill="#c58599"/>
<circle cx="405.9" cy="308.9" r="4.4" fill="#d7bcc5"/>
<circle cx="458.0" cy="275.2" r="4.4" fill="#bd748c"/>
<circle cx="274.1" cy="817.8" r="4.4" fill="#d2aebb"/>
<circle cx="377.1" cy="719.5" r="4.4" fill="#b5647d"/>
<circle cx="327.7" cy="696.4" r="4.4" fill="#cb95a7"/>
<circle cx="395.0" cy="685.0" r="4.4" fill="#ad5873"/>
<circle cx="231.7" cy="66.6" r="4.4" fill="#dcd1d5"/>
<circle cx="207.6" cy="135.3" r="4.4" fill="#d7bec7"/>
<circle cx="270.6" cy="726.9" r="4.4" fill="#d3afbb"/>
<circle cx="270.7" cy="623.7" r="4.4" fill="#c78b9f"/>
<circle cx="349.5" cy="745.4" r="4.4" fill="#af5b76"/>
<circle cx="465.8" cy="581.7" r="4.4" fill="#a9516d"/>
<circle cx="222.7" cy="106.9" r="4.4" fill="#d2aebb"/>
<circle cx="231.5" cy="145.6" r="4.4" fill="#ce9fae"/>
<circle cx="360.9" cy="719.8" r="4.4" fill="#9f415f"/>
<circle cx="319.8" cy="655.8" r="4.4" fill="#b76881"/>
<circle cx="360.5" cy="729.8" r="4.4" fill="#9b3c5a"/>
<circle cx="408.1" cy="307.2" r="4.4" fill="#cd9bab"/>
<circle cx="198.4" cy="65.2" r="4.4" fill="#cd9cad"/>
<circle cx="461.5" cy="571.7" r="4.4" fill="#ac5672"/>
<circle cx="428.4" cy="289.3" r="4.4" fill="#bf788f"/>
<circle cx="459.2" cy="266.5" r="4.4" fill="#c6889d"/>
<circle cx="347.0" cy="741.0" r="4.4" fill="#7e0c30"/>
<circle cx="486.0" cy="544.3" r="4.4" fill="#a54b68"/>
<circle cx="169.2" cy="193.1" r="4.4" fill="#d5b5c0"/>
<circle cx="189.4" cy="167.4" r="4.4" fill="#d0a7b5"/>
<circle cx="203.3" cy="293.8" r="4.4" fill="#d3afbb"/>
<circle cx="336.2" cy="617.7" r="4.4" fill="#c17d93"/>
<circle cx="162.3" cy="148.1" r="4.4" fill="#d2acb9"/>
<circle cx="317.3" cy="731.9" r="4.4" fill="#b05c77"/>
<circle cx="392.1" cy="653.0" r="4.4" fill="#af5b76"/>
<circle cx="442.0" cy="268.8" r="4.4" fill="#cb95a7"/>
<circle cx="367.1" cy="744.8" r="4.4" fill="#912d4d"/>
<circle cx="437.8" cy="275.1" r="4.4" fill="#cfa4b2"/>
<circle cx="329.4" cy="291.0" r="4.4" fill="#bf778e"/>
<circle cx="459.3" cy="252.4" r="4.4" fill="#d5b7c2"/>
<circle cx="342.9" cy="747.9" r="4.4" fill="#a54b68"/>
<circle cx="210.2" cy="86.3" r="4.4" fill="#d7c0c8"/>
<circle cx="193.8" cy="187.0" r="4.4" fill="#d6bac4"/>
<circle cx="480.5" cy="520.7" r="4.4" fill="#c48398"/>
<circle cx="494.2" cy="522.2" r="4.4" fill="#bc7088"/>
<circle cx="493.9" cy="516.5" r="4.4" fill="#c17b92"/>
<circle cx="500.2" cy="416.5" r="4.4" fill="#d4b3be"/>
<circle cx="308.6" cy="738.2" r="4.4" fill="#ae5974"/>
<circle cx="466.6" cy="503.1" r="4.4" fill="#a54a67"/>
<circle cx="335.3" cy="613.8" r="4.4" fill="#bb6f88"/>
<circle cx="327.3" cy="664.1" r="4.4" fill="#c38096"/>
<circle cx="346.4" cy="712.4" r="4.4" fill="#953352"/>
<circle cx="475.5" cy="506.8" r="4.4" fill="#ad5773"/>
<circle cx="184.3" cy="197.1" r="4.4" fill="#d7bec7"/>
<circle cx="348.2" cy="731.2" r="4.4" fill="#9f425f"/>
<circle cx="252.0" cy="724.2" r="4.4" fill="#cea0b0"/>
<circle cx="351.0" cy="735.5" r="4.4" fill="#a64d6a"/>
<circle cx="342.8" cy="709.2" r="4.4" fill="#9d3f5d"/>
<circle cx="338.8" cy="742.5" r="4.4" fill="#983756"/>
<circle cx="328.6" cy="613.0" r="4.4" fill="#ab5470"/>
<circle cx="339.7" cy="728.7" r="4.4" fill="#8b2444"/>
<circle cx="445.9" cy="303.9" r="4.4" fill="#c88ea1"/>
<circle cx="156.8" cy="111.3" r="4.4" fill="#d0a8b6"/>
<circle cx="478.5" cy="540.6" r="4.4" fill="#c48398"/>
<circle cx="167.6" cy="179.1" r="4.4" fill="#d4b5c0"/>
<circle cx="217.8" cy="137.5" r="4.4" fill="#dbcbd1"/>
<circle cx="212.1" cy="187.2" r="4.4" fill="#d3b1bd"/>
<circle cx="487.8" cy="532.6" r="4.4" fill="#b2607a"/>
<circle cx="498.8" cy="464.9" r="4.4" fill="#ba6d86"/>
<circle cx="450.6" cy="586.3" r="4.4" fill="#b86982"/>
<circle cx="350.0" cy="650.0" r="4.4" fill="#8b2444"/>
<circle cx="469.4" cy="493.7" r="4.4" fill="#bc7089"/>
<circle cx="362.6" cy="751.9" r="4.4" fill="#b05c77"/>
<circle cx="182.2" cy="265.6" r="4.4" fill="#d5b6c1"/>
<circle cx="164.0" cy="124.5" r="4.4" fill="#ce9faf"/>
<circle cx="470.7" cy="529.8" r="4.4" fill="#b4627d"/>
<circle cx="476.3" cy="531.9" r="4.4" fill="#ac5571"/>
<circle cx="407.8" cy="309.2" r="4.4" fill="#d6bbc5"/>
<circle cx="272.2" cy="655.9" r="4.4" fill="#c38297"/>
<circle cx="502.1" cy="462.9" r="4.4" fill="#b4637d"/>
<circle cx="207.7" cy="144.9" r="4.4" fill="#d7bcc5"/>
<circle cx="317.1" cy="652.6" r="4.4" fill="#cb97a8"/>
<circle cx="190.0" cy="123.2" r="4.4" fill="#dbcfd3"/>
<circle cx="482.0" cy="409.8" r="4.4" fill="#c6889c"/>
<circle cx="275.0" cy="666.1" r="4.4" fill="#cb95a7"/>
<circle cx="347.5" cy="720.3" r="4.4" fill="#9a3a59"/>
<circle cx="385.6" cy="732.1" r="4.4" fill="#a14663"/>
<circle cx="319.0" cy="389.3" r="4.4" fill="#bd728a"/>
<circle cx="484.8" cy="519.1" r="4.4" fill="#bc718a"/>
<circle cx="255.5" cy="795.1" r="4.4" fill="#d6bac4"/>
<circle cx="216.7" cy="177.2" r="4.4" fill="#d7bdc6"/>
<circle cx="494.4" cy="466.2" r="4.4" fill="#cfa2b1"/>
<circle cx="482.5" cy="429.3" r="4.4" fill="#cd9cac"/>
<circle cx="476.8" cy="580.2" r="4.4" fill="#b2607a"/>
<circle cx="174.1" cy="160.4" r="4.4" fill="#d2acb9"/>
<circle cx="472.5" cy="365.8" r="4.4" fill="#ba6d86"/>
<circle cx="392.8" cy="658.9" r="4.4" fill="#cb96a7"/>
<circle cx="220.4" cy="59.1" r="4.4" fill="#d7bdc6"/>
<circle cx="390.9" cy="644.3" r="4.4" fill="#c17b92"/>
<circle cx="333.7" cy="649.1" r="4.4" fill="#c07990"/>
<circle cx="420.8" cy="355.8" r="4.4" fill="#922e4e"/>
<circle cx="377.9" cy="737.6" r="4.4" fill="#a34865"/>
<circle cx="498.9" cy="386.5" r="4.4" fill="#ce9eae"/>
<circle cx="316.3" cy="729.2" r="4.4" fill="#a44966"/>
<circle cx="492.0" cy="536.6" r="4.4" fill="#ba6d86"/>
<circle cx="231.7" cy="78.2" r="4.4" fill="#d0a7b5"/>
<circle cx="174.9" cy="147.6" r="4.4" fill="#d9c7ce"/>
<circle cx="490.0" cy="472.1" r="4.4" fill="#c78a9d"/>
<circle cx="501.8" cy="457.7" r="4.4" fill="#d3b1bd"/>
<circle cx="478.2" cy="518.1" r="4.4" fill="#bf778e"/>
<circle cx="497.3" cy="412.9" r="4.4" fill="#cea0af"/>
<circle cx="155.9" cy="98.5" r="4.4" fill="#d5b6c1"/>
<circle cx="153.9" cy="97.8" r="4.4" fill="#cea1b0"/>
<circle cx="353.5" cy="363.5" r="4.4" fill="#d4b2be"/>
<circle cx="216.7" cy="154.1" r="4.4" fill="#dac8ce"/>
<circle cx="492.9" cy="543.8" r="4.4" fill="#c07990"/>
<circle cx="185.5" cy="630.8" r="4.4" fill="#d6bbc5"/>
<circle cx="199.0" cy="116.3" r="4.4" fill="#d9c5cc"/>
<circle cx="293.0" cy="723.9" r="4.4" fill="#983856"/>
<circle cx="352.0" cy="745.0" r="4.4" fill="#85183a"/>
<circle cx="249.8" cy="730.5" r="4.4" fill="#d7bdc7"/>
<circle cx="452.0" cy="584.0" r="4.4" fill="#a8506c"/>
<circle cx="471.4" cy="497.5" r="4.4" fill="#bb6e87"/>
<circle cx="482.1" cy="422.0" r="4.4" fill="#c07a90"/>
<circle cx="270.9" cy="774.2" r="4.4" fill="#d8c1c9"/>
<circle cx="197.7" cy="84.1" r="4.4" fill="#d7bec7"/>
<circle cx="368.9" cy="730.8" r="4.4" fill="#973655"/>
<circle cx="471.1" cy="532.6" r="4.4" fill="#c38196"/>
<circle cx="151.9" cy="131.3" r="4.4" fill="#d4b4bf"/>
<circle cx="334.8" cy="732.3" r="4.4" fill="#b76781"/>
<circle cx="332.1" cy="708.5" r="4.4" fill="#ba6c85"/>
<circle cx="164.0" cy="161.1" r="4.4" fill="#cb95a7"/>
<circle cx="231.2" cy="82.7" r="4.4" fill="#d6bac4"/>
<circle cx="197.5" cy="174.3" r="4.4" fill="#d5b8c3"/>
<circle cx="349.2" cy="707.2" r="4.4" fill="#8c2646"/>
<circle cx="355.8" cy="717.4" r="4.4" fill="#b2607a"/>
<circle cx="404.3" cy="314.6" r="4.4" fill="#d8c3cb"/>
<circle cx="186.5" cy="168.4" r="4.4" fill="#cea0af"/>
<circle cx="345.1" cy="608.8" r="4.4" fill="#a74f6b"/>
<circle cx="210.1" cy="153.0" r="4.4" fill="#dcd0d4"/>
<circle cx="185.4" cy="182.3" r="4.4" fill="#d1a9b6"/>
<circle cx="280.1" cy="622.2" r="4.4" fill="#cd9bab"/>
<circle cx="462.2" cy="246.6" r="4.4" fill="#d3b1bd"/>
<circle cx="485.5" cy="418.8" r="4.4" fill="#c78a9d"/>
<circle cx="319.4" cy="409.1" r="4.4" fill="#b4637d"/>
<circle cx="345.3" cy="749.5" r="4.4" fill="#922f4e"/>
<circle cx="359.3" cy="738.2" r="4.4" fill="#922e4d"/>
<circle cx="440.3" cy="270.3" r="4.4" fill="#bd728a"/>
<circle cx="414.0" cy="304.5" r="4.4" fill="#dac8ce"/>
<circle cx="332.0" cy="622.5" r="4.4" fill="#ad5873"/>
<circle cx="190.4" cy="154.1" r="4.4" fill="#dac9cf"/>
<circle cx="227.7" cy="568.9" r="4.4" fill="#d0a7b5"/>
<circle cx="345.1" cy="731.2" r="4.4" fill="#963453"/>
<circle cx="348.3" cy="741.8" r="4.4" fill="#b3607b"/>
<circle cx="224.2" cy="166.6" r="4.4" fill="#ce9fae"/>
<circle cx="156.1" cy="78.0" r="4.4" fill="#cc99aa"/>
<circle cx="478.4" cy="579.8" r="4.4" fill="#bd728a"/>
<circle cx="370.2" cy="743.3" r="4.4" fill="#a04461"/>
<circle cx="487.6" cy="536.6" r="4.4" fill="#c48499"/>
<circle cx="238.1" cy="121.3" r="4.4" fill="#d4b5c0"/>
<circle cx="175.0" cy="99.3" r="4.4" fill="#d0a7b5"/>
<circle cx="349.5" cy="614.5" r="4.4" fill="#bd738b"/>
<circle cx="334.0" cy="607.2" r="4.4" fill="#c17b92"/>
<circle cx="390.7" cy="682.0" r="4.4" fill="#ca91a4"/>
<circle cx="401.0" cy="306.1" r="4.4" fill="#d1a9b7"/>
<circle cx="159.8" cy="91.6" r="4.4" fill="#d2aeba"/>
<circle cx="496.7" cy="485.4" r="4.4" fill="#bd738b"/>
<circle cx="516.2" cy="408.2" r="4.4" fill="#d4b3bf"/>
<circle cx="479.6" cy="547.8" r="4.4" fill="#b4627c"/>
<circle cx="503.8" cy="441.8" r="4.4" fill="#c07990"/>
<circle cx="335.1" cy="732.2" r="4.4" fill="#ac5772"/>
<circle cx="157.5" cy="75.7" r="4.4" fill="#dacad0"/>
<circle cx="362.2" cy="715.8" r="4.4" fill="#a8516d"/>
<circle cx="172.0" cy="63.2" r="4.4" fill="#dac8ce"/>
<circle cx="418.0" cy="230.4" r="4.4" fill="#cfa4b2"/>
<circle cx="465.3" cy="514.9" r="4.4" fill="#b66680"/>
<circle cx="165.7" cy="178.6" r="4.4" fill="#dbccd2"/>
<circle cx="464.5" cy="582.0" r="4.4" fill="#b15e78"/>
<circle cx="202.3" cy="127.7" r="4.4" fill="#d7bec7"/>
<circle cx="467.2" cy="570.0" r="4.4" fill="#a44a66"/>
<circle cx="457.6" cy="292.3" r="4.4" fill="#c990a3"/>
<circle cx="475.1" cy="576.7" r="4.4" fill="#c48398"/>
<circle cx="359.8" cy="735.8" r="4.4" fill="#a44a66"/>
<circle cx="156.2" cy="95.1" r="4.4" fill="#d8c3cb"/>
<circle cx="463.6" cy="497.7" r="4.4" fill="#c17d93"/>
<circle cx="313.9" cy="740.2" r="4.4" fill="#9d3f5d"/>
<circle cx="483.5" cy="547.3" r="4.4" fill="#bb6f87"/>
<circle cx="495.4" cy="519.2" r="4.4" fill="#c5859a"/>
<circle cx="194.4" cy="116.6" r="4.4" fill="#dbced3"/>
<circle cx="450.9" cy="264.4" r="4.4" fill="#cc99aa"/>
<circle cx="481.4" cy="542.2" r="4.4" fill="#c07a91"/>
<circle cx="385.0" cy="732.2" r="4.4" fill="#b66680"/>
<circle cx="483.0" cy="305.0" r="4.4" fill="#ce9faf"/>
<circle cx="383.8" cy="736.4" r="4.4" fill="#9f4360"/>
<circle cx="478.7" cy="549.6" r="4.4" fill="#b4627c"/>
<circle cx="309.1" cy="724.7" r="4.4" fill="#922f4e"/>
<circle cx="206.6" cy="159.3" r="4.4" fill="#dbcfd3"/>
<circle cx="162.9" cy="124.0" r="4.4" fill="#d5b7c2"/>
<circle cx="314.3" cy="396.3" r="4.4" fill="#ba6c85"/>
<circle cx="470.9" cy="319.0" r="4.4" fill="#d4b2be"/>
<circle cx="472.6" cy="581.5" r="4.4" fill="#bf778f"/>
<circle cx="451.9" cy="323.2" r="4.4" fill="#b66680"/>
<circle cx="472.3" cy="557.5" r="4.4" fill="#aa536f"/>
<circle cx="366.7" cy="730.0" r="4.4" fill="#a54a67"/>
<circle cx="350.0" cy="747.3" r="4.4" fill="#a24764"/>
<circle cx="325.5" cy="402.0" r="4.4" fill="#ce9fae"/>
<circle cx="348.3" cy="731.7" r="4.4" fill="#af5a75"/>
<circle cx="352.1" cy="394.0" r="4.4" fill="#d8c1c9"/>
<circle cx="207.1" cy="177.1" r="4.4" fill="#dacad0"/>
<circle cx="341.5" cy="319.1" r="4.4" fill="#cea0b0"/>
<circle cx="332.0" cy="397.2" r="4.4" fill="#d8c1c9"/>
<circle cx="379.8" cy="732.2" r="4.4" fill="#a04461"/>
<circle cx="190.0" cy="80.0" r="4.4" fill="#d7bfc8"/>
<circle cx="226.6" cy="135.4" r="4.4" fill="#d1a9b7"/>
<circle cx="330.6" cy="365.1" r="4.4" fill="#d8c0c9"/>
<circle cx="162.5" cy="95.5" r="4.4" fill="#cd9dad"/>
<circle cx="173.9" cy="199.3" r="4.4" fill="#d4b2be"/>
<circle cx="324.9" cy="695.2" r="4.4" fill="#ca92a5"/>
<circle cx="288.3" cy="681.7" r="4.4" fill="#c38297"/>
<circle cx="364.0" cy="735.4" r="4.4" fill="#ad5773"/>
<circle cx="221.6" cy="151.1" r="4.4" fill="#cfa2b1"/>
<circle cx="451.6" cy="277.6" r="4.4" fill="#ce9eae"/>
<circle cx="501.1" cy="484.2" r="4.4" fill="#c38297"/>
<circle cx="265.8" cy="764.7" r="4.4" fill="#cb97a8"/>
<circle cx="474.7" cy="559.6" r="4.4" fill="#a9516d"/>
<circle cx="326.1" cy="738.4" r="4.4" fill="#ae5975"/>
<circle cx="199.8" cy="169.3" r="4.4" fill="#d6bbc5"/>
<circle cx="378.9" cy="278.5" r="4.4" fill="#d6b9c3"/>
<circle cx="482.1" cy="565.4" r="4.4" fill="#aa536f"/>
<circle cx="449.3" cy="302.1" r="4.4" fill="#cea0af"/>
<circle cx="350.9" cy="721.8" r="4.4" fill="#a44a67"/>
<circle cx="459.6" cy="296.9" r="4.4" fill="#c07990"/>
<circle cx="262.6" cy="729.3" r="4.4" fill="#d8c1c9"/>
<circle cx="491.0" cy="569.5" r="4.4" fill="#af5b76"/>
<circle cx="491.4" cy="463.5" r="4.4" fill="#b5647e"/>
<circle cx="391.7" cy="699.2" r="4.4" fill="#ba6d86"/>
<circle cx="460.7" cy="239.3" r="4.4" fill="#d5b7c2"/>
<circle cx="469.9" cy="494.3" r="4.4" fill="#aa536f"/>
<circle cx="166.3" cy="181.0" r="4.4" fill="#d3b0bc"/>
<circle cx="387.7" cy="660.7" r="4.4" fill="#bb6e87"/>
<circle cx="325.5" cy="677.1" r="4.4" fill="#c78a9e"/>
<circle cx="472.7" cy="288.0" r="4.4" fill="#cc98a9"/>
<circle cx="164.3" cy="115.6" r="4.4" fill="#d5b5c0"/>
<circle cx="493.0" cy="521.7" r="4.4" fill="#bc728a"/>
<circle cx="485.9" cy="571.0" r="4.4" fill="#b3617b"/>
<circle cx="167.1" cy="102.4" r="4.4" fill="#d6b9c3"/>
<circle cx="322.8" cy="696.7" r="4.4" fill="#bf788f"/>
<circle cx="463.1" cy="586.1" r="4.4" fill="#c5859a"/>
<circle cx="371.7" cy="730.9" r="4.4" fill="#a54c68"/>
<circle cx="157.8" cy="125.0" r="4.4" fill="#c5869b"/>
<circle cx="441.4" cy="266.1" r="4.4" fill="#cfa3b1"/>
<circle cx="313.7" cy="738.2" r="4.4" fill="#a9526e"/>
<circle cx="370.7" cy="717.8" r="4.4" fill="#a14462"/>
<circle cx="322.2" cy="670.0" r="4.4" fill="#b86982"/>
<circle cx="167.4" cy="65.8" r="4.4" fill="#d6bac4"/>
<circle cx="370.6" cy="744.6" r="4.4" fill="#b05c77"/>
<circle cx="361.8" cy="736.5" r="4.4" fill="#9b3c5a"/>
<circle cx="338.9" cy="612.0" r="4.4" fill="#cb96a7"/>
<circle cx="439.2" cy="276.8" r="4.4" fill="#c28095"/>
</g>
<g fill="none" stroke="#000" stroke-width="5.4" stroke-linejoin="round">
<path d="M185.80,75.50 L185.86,78.65 L185.93,81.80 L186.00,84.95 L186.07,88.10 L186.14,91.25 L186.22,94.39 L186.30,97.54 L186.39,100.68 L186.48,103.83 L186.58,106.97 L186.69,110.11 L186.80,113.25 L186.92,116.38 L187.05,119.52 L187.19,122.65 L187.34,125.78 L187.49,128.91 L187.66,132.04 L187.83,135.17 L188.02,138.29 L188.22,141.41 L188.43,144.53 L188.65,147.65 L188.89,150.76 L189.14,153.87 L189.40,156.98 L189.68,160.09 L189.98,163.19 L190.28,166.29 L190.61,169.39 L190.95,172.49 L191.31,175.58 L191.69,178.67 L192.08,181.75 L192.49,184.83 L192.92,187.91 L193.38,190.99 L193.85,194.06 L194.34,197.13 L194.85,200.19 L195.39,203.26 L195.94,206.31 L196.52,209.37 L197.12,212.42 L197.75,215.46 L198.40,218.50 L199.07,221.54 L199.77,224.57 L200.49,227.60 L201.25,230.63 L202.02,233.65 L202.83,236.66 L203.66,239.67 L204.52,242.68 L205.41,245.68 L206.32,248.67 L207.27,251.66 L208.25,254.65 L209.25,257.63 L210.29,260.61 L211.36,263.58 L212.46,266.54 L213.60,269.50 L214.77,272.46 L215.97,275.41 L217.20,278.35 L218.47,281.29 L219.78,284.22 L221.12,287.14 L222.49,290.06 L223.90,292.98 L225.36,295.88 L226.85,298.75 L228.39,301.60 L229.97,304.41 L231.60,307.18 L233.29,309.89 L235.02,312.54 L236.81,315.13 L238.66,317.64 L240.58,320.07 L242.55,322.40 L244.59,324.64 L246.70,326.77 L248.88,328.78 L251.13,330.68 L253.45,332.44 L255.86,334.07 L258.34,335.55 L260.91,336.88 L263.56,338.05 L266.30,339.05 L269.12,339.88 L272.02,340.54 L274.99,341.04 L278.03,341.39 L281.11,341.58 L284.24,341.63 L287.41,341.53 L290.60,341.29 L293.81,340.93 L297.04,340.43 L300.27,339.82 L303.49,339.08 L306.70,338.24 L309.89,337.28 L313.05,336.22 L316.17,335.07 L319.25,333.82 L322.27,332.49 L325.22,331.07 L328.11,329.57 L330.92,328.00 L333.65,326.36 L336.31,324.66 L338.91,322.91 L341.45,321.12 L343.95,319.29 L346.40,317.43 L348.83,315.54 L351.23,313.65 L353.62,311.74 L355.99,309.83 L358.37,307.93 L360.75,306.05 L363.15,304.18 L365.56,302.35 L368.01,300.55 L370.50,298.79 L373.02,297.09 L375.61,295.44 L378.25,293.86 L380.95,292.36 L383.74,290.93 L386.60,289.59 L389.54,288.35 L392.53,287.21 L395.58,286.18 L398.68,285.27 L401.81,284.48 L404.97,283.83 L408.14,283.31 L411.32,282.95 L414.50,282.74 L417.67,282.69 L420.82,282.81 L423.93,283.11 L427.01,283.60 L430.04,284.27 L433.02,285.13 L435.95,286.16 L438.83,287.34 L441.65,288.67 L444.42,290.13 L447.14,291.70 L449.80,293.38 L452.41,295.14 L454.97,296.99 L457.46,298.89 L459.90,300.84 L462.29,302.85 L464.61,304.91 L466.88,307.03 L469.10,309.19 L471.26,311.40 L473.36,313.67 L475.41,315.98 L477.40,318.34 L479.34,320.76 L481.22,323.21 L483.05,325.72 L484.82,328.27 L486.54,330.87 L488.20,333.51 L489.81,336.20 L491.36,338.93 L492.86,341.71 L494.30,344.53 L495.69,347.39 L497.03,350.30 L498.31,353.24 L499.54,356.23 L500.71,359.26 L501.84,362.32 L502.96,365.36 L504.10,368.36 L505.31,371.27 L506.61,374.05 L508.06,376.65 L509.67,379.04 L511.50,381.17 L513.57,383.00 L515.93,384.49 L518.59,385.61 L521.52,386.35 L524.67,386.72 L528.00,386.72 L531.46,386.34 L535.00,385.60"/>
<path d="M283.30,128.30 L282.20,130.22 L281.09,132.14 L279.96,134.06 L278.83,135.98 L277.70,137.89 L276.55,139.80 L275.40,141.71 L274.24,143.63 L273.08,145.54 L271.91,147.45 L270.74,149.36 L269.57,151.27 L268.40,153.18 L267.22,155.09 L266.05,157.01 L264.87,158.92 L263.70,160.84 L262.53,162.76 L261.36,164.68 L260.19,166.61 L259.03,168.53 L257.88,170.46 L256.73,172.40 L255.59,174.34 L254.45,176.28 L253.33,178.23 L252.21,180.18 L251.10,182.14 L250.01,184.10 L248.93,186.07 L247.85,188.05 L246.80,190.03 L245.75,192.02 L244.72,194.02 L243.71,196.02 L242.71,198.03 L241.73,200.05 L240.76,202.07 L239.82,204.11 L238.90,206.15 L237.99,208.20 L237.11,210.27 L236.25,212.34 L235.41,214.42 L234.59,216.51 L233.80,218.61 L233.03,220.72 L232.29,222.85 L231.58,224.98 L230.89,227.13 L230.23,229.29 L229.60,231.46 L229.00,233.65 L228.43,235.84 L227.89,238.05 L227.38,240.27 L226.91,242.51 L226.47,244.75 L226.06,246.99 L225.69,249.25 L225.36,251.51 L225.06,253.77 L224.79,256.04 L224.57,258.31 L224.38,260.58 L224.23,262.84 L224.13,265.11 L224.06,267.38 L224.03,269.64 L224.05,271.89 L224.11,274.14 L224.21,276.38 L224.36,278.61 L224.56,280.84 L224.79,283.05 L225.08,285.25 L225.41,287.43 L225.79,289.61 L226.22,291.76 L226.70,293.90 L227.23,296.02 L227.81,298.12 L228.44,300.20 L229.12,302.26 L229.86,304.29 L230.65,306.31 L231.49,308.29 L232.39,310.25 L233.35,312.19 L234.36,314.09 L235.43,315.96 L236.56,317.81 L237.75,319.62 L239.00,321.39 L240.30,323.13 L241.67,324.84 L243.10,326.51 L244.60,328.14 L246.15,329.73 L247.77,331.28 L249.45,332.79 L251.19,334.26 L252.98,335.67 L254.83,337.04 L256.72,338.36 L258.65,339.62 L260.63,340.83 L262.65,341.98 L264.70,343.08 L266.78,344.11 L268.88,345.07 L271.02,345.98 L273.17,346.81 L275.34,347.58 L277.53,348.27 L279.73,348.89 L281.93,349.43 L284.15,349.90 L286.36,350.29 L288.57,350.59 L290.77,350.81 L292.97,350.94 L295.16,350.99 L297.34,350.96 L299.51,350.85 L301.67,350.66 L303.82,350.40 L305.96,350.07 L308.09,349.66 L310.20,349.19 L312.31,348.65 L314.40,348.04 L316.48,347.37 L318.55,346.65 L320.60,345.86 L322.64,345.02 L324.66,344.13 L326.67,343.18 L328.66,342.19 L330.64,341.14 L332.60,340.06 L334.55,338.93 L336.48,337.75 L338.39,336.54 L340.28,335.30 L342.15,334.02 L344.01,332.71 L345.85,331.37 L347.68,330.00 L349.50,328.61 L351.30,327.19 L353.10,325.76 L354.88,324.32 L356.66,322.86 L358.43,321.39 L360.19,319.91 L361.95,318.42 L363.71,316.94 L365.47,315.45 L367.22,313.96 L368.98,312.48 L370.74,311.01 L372.50,309.55 L374.27,308.10 L376.04,306.66 L377.82,305.25 L379.60,303.85 L381.40,302.48 L383.21,301.13 L385.03,299.81 L386.86,298.52 L388.71,297.27 L390.57,296.05 L392.45,294.87 L394.35,293.74 L396.26,292.65 L398.19,291.61 L400.13,290.63 L402.10,289.71 L404.08,288.84 L406.07,288.05 L408.09,287.32 L410.12,286.67 L412.17,286.10 L414.23,285.61 L416.32,285.20 L418.42,284.88 L420.54,284.66 L422.67,284.54 L424.82,284.51 L426.99,284.59 L429.18,284.78 L431.39,285.09 L433.61,285.51 L435.85,286.05 L438.11,286.72 L440.39,287.51 L442.69,288.44 L445.00,289.50"/>
<path d="M144.30,554.00 L145.42,551.88 L146.55,549.76 L147.67,547.64 L148.78,545.53 L149.89,543.42 L151.00,541.31 L152.10,539.20 L153.20,537.09 L154.29,534.99 L155.38,532.88 L156.47,530.78 L157.54,528.67 L158.62,526.57 L159.69,524.47 L160.75,522.37 L161.80,520.26 L162.85,518.16 L163.90,516.06 L164.93,513.95 L165.97,511.84 L166.99,509.74 L168.01,507.63 L169.02,505.52 L170.02,503.41 L171.01,501.29 L172.00,499.17 L172.98,497.06 L173.95,494.93 L174.92,492.81 L175.87,490.68 L176.82,488.55 L177.76,486.41 L178.69,484.27 L179.61,482.13 L180.52,479.98 L181.42,477.83 L182.31,475.68 L183.19,473.52 L184.06,471.35 L184.92,469.18 L185.78,467.00 L186.62,464.82 L187.45,462.63 L188.27,460.44 L189.07,458.24 L189.87,456.03 L190.66,453.81 L191.43,451.59 L192.19,449.37 L192.94,447.13 L193.68,444.89 L194.41,442.64 L195.12,440.38 L195.82,438.11 L196.51,435.84 L197.19,433.56 L197.86,431.27 L198.52,428.97 L199.17,426.68 L199.82,424.37 L200.46,422.06 L201.09,419.75 L201.72,417.44 L202.35,415.12 L202.97,412.80 L203.59,410.48 L204.21,408.16 L204.83,405.84 L205.46,403.52 L206.08,401.20 L206.71,398.88 L207.34,396.56 L207.98,394.25 L208.62,391.93 L209.27,389.63 L209.92,387.32 L210.59,385.02 L211.26,382.73 L211.94,380.44 L212.64,378.16 L213.35,375.89 L214.07,373.62 L214.80,371.36 L215.55,369.12 L216.32,366.88 L217.10,364.65 L217.90,362.43 L218.72,360.22 L219.55,358.02 L220.41,355.84 L221.29,353.66 L222.19,351.50 L223.11,349.36 L224.06,347.23 L225.04,345.11 L226.03,343.01 L227.06,340.93 L228.11,338.86 L229.19,336.81 L230.31,334.78 L231.45,332.76 L232.62,330.76 L233.82,328.79 L235.06,326.83 L236.34,324.90 L237.64,322.98 L238.99,321.09 L240.37,319.22 L241.78,317.38 L243.25,315.58 L244.76,313.83 L246.31,312.14 L247.92,310.51 L249.58,308.96 L251.31,307.50 L253.09,306.13 L254.94,304.87 L256.85,303.72 L258.84,302.69 L260.89,301.79 L263.02,301.01 L265.20,300.35 L267.44,299.80 L269.72,299.34 L272.05,298.97 L274.40,298.67 L276.78,298.44 L279.17,298.27 L281.57,298.14 L283.97,298.05 L286.38,298.00 L288.78,297.97 L291.18,297.96 L293.59,297.98 L295.99,298.01 L298.39,298.05 L300.79,298.10 L303.19,298.15 L305.58,298.19 L307.97,298.24 L310.36,298.27 L312.75,298.29 L315.14,298.28 L317.52,298.26 L319.90,298.21 L322.27,298.12 L324.64,298.00 L327.00,297.84 L329.36,297.64 L331.72,297.39 L334.07,297.10 L336.42,296.78 L338.76,296.41 L341.10,296.02 L343.43,295.60 L345.76,295.15 L348.09,294.67 L350.41,294.17 L352.73,293.66 L355.05,293.13 L357.37,292.59 L359.68,292.03 L361.99,291.47 L364.30,290.90 L366.60,290.34 L368.90,289.77 L371.21,289.20 L373.51,288.65 L375.81,288.10 L378.10,287.56 L380.40,287.04 L382.70,286.53 L384.99,286.05 L387.29,285.58 L389.58,285.15 L391.87,284.74 L394.17,284.36 L396.46,284.02 L398.76,283.71 L401.05,283.44 L403.35,283.22 L405.65,283.04 L407.94,282.90 L410.24,282.82 L412.54,282.79 L414.85,282.82 L417.15,282.90 L419.46,283.05 L421.76,283.26 L424.07,283.53 L426.39,283.88 L428.70,284.30 L431.02,284.80 L433.34,285.37 L435.67,286.02 L438.00,286.76 L440.33,287.58 L442.66,288.50 L445.00,289.50"/>
<path d="M535.00,385.60 L533.05,385.35 L530.96,385.12 L528.76,384.94 L526.52,384.84 L524.27,384.86 L522.08,385.02 L519.99,385.36 L518.05,385.90 L516.31,386.68 L514.79,387.71 L513.49,388.96 L512.37,390.41 L511.41,392.01 L510.57,393.74 L509.83,395.56 L509.15,397.44 L508.52,399.34 L507.91,401.26 L507.33,403.19 L506.77,405.14 L506.24,407.09 L505.73,409.05 L505.24,411.02 L504.77,413.00 L504.32,414.99 L503.88,416.98 L503.46,418.98 L503.05,420.99 L502.65,423.00 L502.25,425.01 L501.87,427.02 L501.49,429.04 L501.12,431.06 L500.75,433.08 L500.38,435.10 L500.01,437.11 L499.64,439.13 L499.27,441.14 L498.89,443.15 L498.51,445.16 L498.12,447.16 L497.71,449.15 L497.30,451.14 L496.88,453.12 L496.45,455.10 L496.01,457.07 L495.57,459.04 L495.11,461.01 L494.65,462.97 L494.18,464.93 L493.71,466.88 L493.23,468.83 L492.75,470.78 L492.26,472.73 L491.77,474.68 L491.28,476.63 L490.78,478.57 L490.28,480.52 L489.78,482.47 L489.27,484.41 L488.77,486.36 L488.26,488.31 L487.76,490.26 L487.25,492.22 L486.75,494.17 L486.25,496.13 L485.75,498.10 L485.26,500.06 L484.76,502.03 L484.27,504.01 L483.79,505.99 L483.31,507.97 L482.83,509.96 L482.36,511.96 L481.89,513.96 L481.43,515.96 L480.96,517.97 L480.49,519.97 L480.02,521.98 L479.55,523.99 L479.07,526.00 L478.59,528.00 L478.10,530.01 L477.60,532.01 L477.09,534.00 L476.57,535.99 L476.05,537.98 L475.50,539.96 L474.95,541.93 L474.38,543.90 L473.79,545.86 L473.19,547.80 L472.57,549.74 L471.93,551.67 L471.27,553.58 L470.58,555.48 L469.88,557.37 L469.14,559.24 L468.39,561.10 L467.60,562.95 L466.79,564.78 L465.95,566.59 L465.08,568.38 L464.18,570.15 L463.24,571.90 L462.28,573.64 L461.28,575.35 L460.24,577.04 L459.18,578.71 L458.08,580.36 L456.95,581.99 L455.79,583.60 L454.59,585.18 L453.36,586.74 L452.10,588.28 L450.81,589.80 L449.48,591.29 L448.12,592.75 L446.73,594.20 L445.31,595.61 L443.85,597.01 L442.36,598.37 L440.84,599.72 L439.28,601.03 L437.70,602.32 L436.08,603.59 L434.43,604.82 L432.74,606.03 L431.03,607.21 L429.28,608.36 L427.50,609.49 L425.68,610.59 L423.84,611.65 L421.96,612.69 L420.05,613.70 L418.11,614.68 L416.14,615.62 L414.14,616.52 L412.13,617.38 L410.10,618.19 L408.07,618.94 L406.02,619.63 L403.97,620.26 L401.93,620.82 L399.89,621.30 L397.86,621.70 L395.85,622.02 L393.86,622.25 L391.89,622.38 L389.94,622.41 L388.03,622.34 L386.16,622.16 L384.33,621.86 L382.54,621.44 L380.80,620.90 L379.12,620.23 L377.49,619.42 L375.93,618.47 L374.43,617.38 L373.01,616.13 L371.66,614.74 L370.41,613.21 L369.26,611.56 L368.25,609.81 L367.39,607.97 L366.69,606.06 L366.17,604.08 L365.86,602.07 L365.75,600.04 L365.83,597.98 L366.07,595.91 L366.46,593.84 L366.97,591.77 L367.58,589.70 L368.26,587.66 L369.00,585.63 L369.77,583.64 L370.55,581.68 L371.34,579.75 L372.15,577.86 L372.98,575.99 L373.82,574.15 L374.67,572.34 L375.55,570.55 L376.45,568.78 L377.36,567.03 L378.30,565.29 L379.26,563.57 L380.25,561.86 L381.26,560.16 L382.30,558.47 L383.37,556.79 L384.46,555.11 L385.59,553.43 L386.74,551.76 L387.93,550.08 L389.15,548.39 L390.41,546.70 L391.70,545.00"/>
<path d="M475.00,545.00 L474.12,547.00 L473.22,548.99 L472.31,550.97 L471.39,552.93 L470.46,554.87 L469.52,556.80 L468.56,558.72 L467.59,560.63 L466.61,562.53 L465.63,564.41 L464.63,566.29 L463.62,568.15 L462.61,570.00 L461.58,571.85 L460.55,573.69 L459.51,575.51 L458.46,577.33 L457.40,579.15 L456.34,580.95 L455.27,582.76 L454.19,584.55 L453.11,586.34 L452.02,588.13 L450.93,589.91 L449.83,591.69 L448.72,593.47 L447.62,595.24 L446.51,597.01 L445.39,598.78 L444.27,600.55 L443.15,602.32 L442.03,604.09 L440.90,605.86 L439.77,607.63 L438.65,609.40 L437.52,611.18 L436.39,612.96 L435.25,614.74 L434.12,616.52 L432.99,618.31 L431.86,620.11 L430.73,621.91 L429.61,623.71 L428.48,625.52 L427.36,627.34 L426.23,629.17 L425.11,631.00 L423.99,632.83 L422.87,634.67 L421.75,636.52 L420.63,638.36 L419.50,640.21 L418.38,642.06 L417.25,643.91 L416.12,645.76 L414.99,647.61 L413.85,649.46 L412.71,651.31 L411.56,653.15 L410.41,654.99 L409.25,656.83 L408.08,658.66 L406.91,660.49 L405.73,662.31 L404.54,664.12 L403.35,665.92 L402.14,667.72 L400.92,669.51 L399.70,671.29 L398.46,673.05 L397.22,674.81 L395.96,676.55 L394.69,678.28 L393.41,680.00 L392.11,681.71 L390.80,683.40 L389.48,685.07 L388.14,686.73 L386.78,688.37 L385.41,689.99 L384.03,691.60 L382.63,693.19 L381.21,694.75 L379.77,696.30 L378.31,697.82 L376.84,699.33 L375.35,700.81 L373.83,702.27 L372.30,703.70 L370.75,705.11 L369.17,706.50 L367.58,707.86 L365.96,709.19 L364.32,710.49 L362.65,711.77 L360.96,713.02 L359.25,714.24 L357.51,715.43 L355.75,716.58 L353.96,717.71 L352.14,718.80 L350.30,719.87 L348.43,720.89 L346.53,721.89 L344.61,722.84 L342.66,723.76 L340.68,724.65 L338.69,725.49 L336.67,726.29 L334.64,727.04 L332.59,727.76 L330.53,728.42 L328.45,729.04 L326.37,729.60 L324.28,730.12 L322.18,730.58 L320.08,730.99 L317.97,731.34 L315.87,731.63 L313.76,731.86 L311.66,732.03 L309.57,732.14 L307.48,732.18 L305.40,732.16 L303.33,732.07 L301.28,731.91 L299.24,731.68 L297.22,731.38 L295.22,731.00 L293.23,730.55 L291.27,730.03 L289.32,729.45 L287.40,728.79 L285.50,728.08 L283.61,727.30 L281.75,726.46 L279.91,725.56 L278.09,724.60 L276.29,723.59 L274.51,722.53 L272.76,721.42 L271.03,720.26 L269.32,719.06 L267.63,717.81 L265.97,716.52 L264.33,715.19 L262.72,713.82 L261.12,712.41 L259.56,710.97 L258.01,709.50 L256.49,707.99 L255.00,706.46 L253.52,704.90 L252.07,703.32 L250.63,701.71 L249.21,700.08 L247.82,698.42 L246.43,696.75 L245.07,695.05 L243.71,693.35 L242.38,691.62 L241.05,689.88 L239.74,688.13 L238.43,686.37 L237.14,684.60 L235.86,682.82 L234.58,681.03 L233.31,679.25 L232.05,677.45 L230.79,675.66 L229.54,673.86 L228.29,672.07 L227.04,670.28 L225.79,668.50 L224.55,666.72 L223.30,664.95 L222.05,663.18 L220.80,661.43 L219.55,659.68 L218.29,657.95 L217.03,656.22 L215.77,654.50 L214.50,652.79 L213.23,651.09 L211.95,649.39 L210.67,647.71 L209.38,646.04 L208.09,644.37 L206.79,642.72 L205.48,641.07 L204.16,639.44 L202.84,637.81 L201.51,636.19 L200.16,634.59 L198.81,632.99 L197.45,631.40 L196.08,629.83 L194.69,628.26 L193.30,626.70"/>
</g>
<g stroke="#000" stroke-width="2.85" fill="none">
<line x1="89.8" y1="14.5" x2="89.8" y2="876.2"/>
<line x1="88.4" y1="874.8" x2="572.1" y2="874.8"/>
</g>
<g stroke="#333" stroke-width="2.85">
<line x1="132.1" y1="874.8" x2="132.1" y2="882.2"/>
<line x1="249.2" y1="874.8" x2="249.2" y2="882.2"/>
<line x1="366.3" y1="874.8" x2="366.3" y2="882.2"/>
<line x1="483.4" y1="874.8" x2="483.4" y2="882.2"/>
<line x1="82.5" y1="214.7" x2="89.8" y2="214.7"/>
<line x1="82.5" y1="440.0" x2="89.8" y2="440.0"/>
<line x1="82.5" y1="665.4" x2="89.8" y2="665.4"/>
</g>
<g fill="#4d4d4d" font-size="23.47" text-anchor="middle">
<text x="132.1" y="904.6">-5</text>
<text x="249.2" y="904.6">0</text>
<text x="366.3" y="904.6">5</text>
<text x="483.4" y="904.6">10</text>
</g>
<g fill="#4d4d4d" font-size="23.47" text-anchor="end">
<text x="76.6" y="224.0">5</text>
<text x="76.6" y="449.0">0</text>
<text x="76.6" y="673.9">-5</text>
</g>
<text x="330.4" y="938.9" font-size="29.33" text-anchor="middle" fill="#000">dim1</text>
<text transform="translate(35.8,445.2) rotate(-90)" font-size="29.33" text-anchor="middle" fill="#000">dim2</text>
<text x="616.5" y="332.7" font-size="29.25" fill="#000">logged count of gene ENSMUSG00000042436.Mfap4</text>
<defs><linearGradient id="lg" x1="0" y1="0" x2="0" y2="1"><stop offset="0.000" stop-color="#780026"/><stop offset="0.025" stop-color="#7b062b"/><stop offset="0.050" stop-color="#7e0c30"/><stop offset="0.075" stop-color="#811235"/><stop offset="0.100" stop-color="#85183a"/><stop offset="0.125" stop-color="#881e3f"/><stop offset="0.150" stop-color="#8b2444"/><stop offset="0.175" stop-color="#8e2949"/><stop offset="0.200" stop-color="#922e4e"/><stop offset="0.225" stop-color="#953352"/><stop offset="0.250" stop-color="#993957"/><stop offset="0.275" stop-color="#9c3e5b"/><stop offset="0.300" stop-color="#9f4360"/><stop offset="0.325" stop-color="#a34865"/><stop offset="0.350" stop-color="#a64d69"/><stop offset="0.375" stop-color="#aa526e"/><stop offset="0.400" stop-color="#ad5873"/><stop offset="0.425" stop-color="#b05d78"/><stop offset="0.450" stop-color="#b4627c"/><stop offset="0.475" stop-color="#b76881"/><stop offset="0.500" stop-color="#ba6d86"/><stop offset="0.525" stop-color="#bd728a"/><stop offset="0.550" stop-color="#bf778e"/><stop offset="0.575" stop-color="#c17d93"/><stop offset="0.600" stop-color="#c38297"/><stop offset="0.625" stop-color="#c6879b"/><stop offset="0.650" stop-color="#c88ca0"/><stop offset="0.675" stop-color="#ca92a4"/><stop offset="0.700" stop-color="#cc98a9"/><stop offset="0.725" stop-color="#ce9fae"/><stop offset="0.750" stop-color="#d0a5b4"/><stop offset="0.775" stop-color="#d2abb9"/><stop offset="0.800" stop-color="#d4b2be"/><stop offset="0.825" stop-color="#d5b8c3"/><stop offset="0.850" stop-color="#d7bec7"/><stop offset="0.875" stop-color="#d9c4cb"/><stop offset="0.900" stop-color="#dac9cf"/><stop offset="0.925" stop-color="#dccfd4"/><stop offset="0.950" stop-color="#ddd5d8"/><stop offset="0.975" stop-color="#dfdadc"/><stop offset="1.000" stop-color="#e0e0e0"/></linearGradient></defs>
<rect x="616.2" y="350.8" width="45.9" height="229.1" fill="url(#lg)"/>
<g stroke="#fff" stroke-width="1.1" stroke-opacity="0.9">
<line x1="616.2" y1="580.8" x2="625.4" y2="580.8"/><line x1="652.9" y1="580.8" x2="662.1" y2="580.8"/>
<line x1="616.2" y1="542.2" x2="625.4" y2="542.2"/><line x1="652.9" y1="542.2" x2="662.1" y2="542.2"/>
<line x1="616.2" y1="503.6" x2="625.4" y2="503.6"/><line x1="652.9" y1="503.6" x2="662.1" y2="503.6"/>
<line x1="616.2" y1="465.0" x2="625.4" y2="465.0"/><line x1="652.9" y1="465.0" x2="662.1" y2="465.0"/>
<line x1="616.2" y1="426.4" x2="625.4" y2="426.4"/><line x1="652.9" y1="426.4" x2="662.1" y2="426.4"/>
<line x1="616.2" y1="387.8" x2="625.4" y2="387.8"/><line x1="652.9" y1="387.8" x2="662.1" y2="387.8"/>
</g>
<g fill="#000" font-size="23.47">
<text x="677.1" y="590.0">0</text>
<text x="677.1" y="551.4">1</text>
<text x="677.1" y="512.8">2</text>
<text x="677.1" y="474.2">3</text>
<text x="677.1" y="435.6">4</text>
<text x="677.1" y="397.0">5</text>
</g>
</svg>
</body></html>
